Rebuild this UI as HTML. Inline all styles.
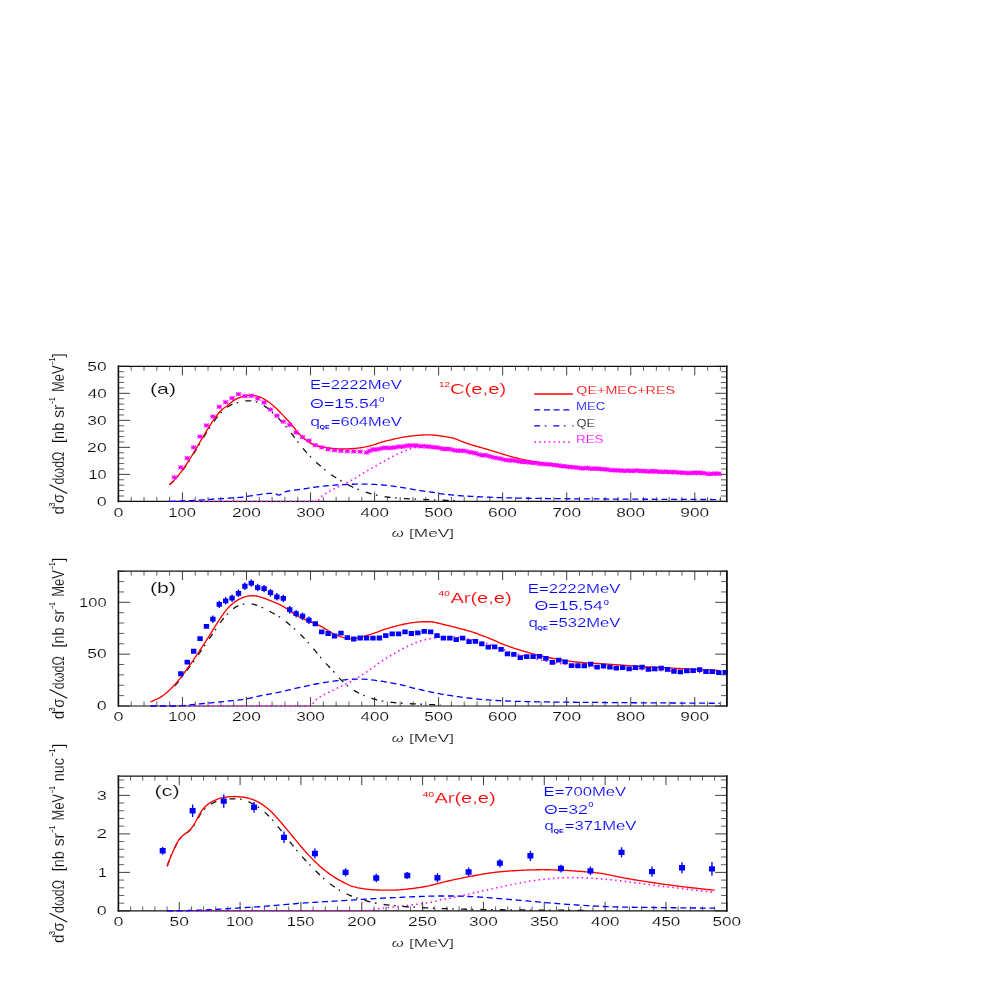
<!DOCTYPE html>
<html><head><meta charset="utf-8"><title>Cross sections</title>
<style>
html,body{margin:0;padding:0;background:#fff;}
body{width:981px;height:981px;overflow:hidden;font-family:"Liberation Sans",sans-serif;}
svg{display:block;will-change:transform;}
</style></head><body>
<svg width="981" height="981" viewBox="0 0 981 981">
<rect width="981" height="981" fill="#fff"/>
<defs>
<clipPath id="ca"><rect x="118.4" y="366.3" width="610.9" height="136.3"/></clipPath>
<clipPath id="cb"><rect x="118.4" y="571.2" width="610.9" height="136"/></clipPath>
<clipPath id="cc"><rect x="118.4" y="776.1" width="610.9" height="136"/></clipPath>
</defs>
<path d="M118.4 501.4L118.4 492.4 M118.4 366.3L118.4 375.3 M182.44 501.4L182.44 492.4 M182.44 366.3L182.44 375.3 M246.48 501.4L246.48 492.4 M246.48 366.3L246.48 375.3 M310.53 501.4L310.53 492.4 M310.53 366.3L310.53 375.3 M374.57 501.4L374.57 492.4 M374.57 366.3L374.57 375.3 M438.61 501.4L438.61 492.4 M438.61 366.3L438.61 375.3 M502.65 501.4L502.65 492.4 M502.65 366.3L502.65 375.3 M566.69 501.4L566.69 492.4 M566.69 366.3L566.69 375.3 M630.74 501.4L630.74 492.4 M630.74 366.3L630.74 375.3 M694.78 501.4L694.78 492.4 M694.78 366.3L694.78 375.3 M118.4 501.4L130 501.4 M726.8 501.4L715.2 501.4 M118.4 474.38L130 474.38 M726.8 474.38L715.2 474.38 M118.4 447.36L130 447.36 M726.8 447.36L715.2 447.36 M118.4 420.34L130 420.34 M726.8 420.34L715.2 420.34 M118.4 393.32L130 393.32 M726.8 393.32L715.2 393.32 M118.4 366.3L130 366.3 M726.8 366.3L715.2 366.3" stroke="#2a2a2a" stroke-width="0.9" fill="none"/>
<path d="M131.21 501.4L131.21 496.9 M131.21 366.3L131.21 370.8 M144.02 501.4L144.02 496.9 M144.02 366.3L144.02 370.8 M156.83 501.4L156.83 496.9 M156.83 366.3L156.83 370.8 M169.63 501.4L169.63 496.9 M169.63 366.3L169.63 370.8 M195.25 501.4L195.25 496.9 M195.25 366.3L195.25 370.8 M208.06 501.4L208.06 496.9 M208.06 366.3L208.06 370.8 M220.87 501.4L220.87 496.9 M220.87 366.3L220.87 370.8 M233.68 501.4L233.68 496.9 M233.68 366.3L233.68 370.8 M259.29 501.4L259.29 496.9 M259.29 366.3L259.29 370.8 M272.1 501.4L272.1 496.9 M272.1 366.3L272.1 370.8 M284.91 501.4L284.91 496.9 M284.91 366.3L284.91 370.8 M297.72 501.4L297.72 496.9 M297.72 366.3L297.72 370.8 M323.33 501.4L323.33 496.9 M323.33 366.3L323.33 370.8 M336.14 501.4L336.14 496.9 M336.14 366.3L336.14 370.8 M348.95 501.4L348.95 496.9 M348.95 366.3L348.95 370.8 M361.76 501.4L361.76 496.9 M361.76 366.3L361.76 370.8 M387.38 501.4L387.38 496.9 M387.38 366.3L387.38 370.8 M400.19 501.4L400.19 496.9 M400.19 366.3L400.19 370.8 M412.99 501.4L412.99 496.9 M412.99 366.3L412.99 370.8 M425.8 501.4L425.8 496.9 M425.8 366.3L425.8 370.8 M451.42 501.4L451.42 496.9 M451.42 366.3L451.42 370.8 M464.23 501.4L464.23 496.9 M464.23 366.3L464.23 370.8 M477.04 501.4L477.04 496.9 M477.04 366.3L477.04 370.8 M489.84 501.4L489.84 496.9 M489.84 366.3L489.84 370.8 M515.46 501.4L515.46 496.9 M515.46 366.3L515.46 370.8 M528.27 501.4L528.27 496.9 M528.27 366.3L528.27 370.8 M541.08 501.4L541.08 496.9 M541.08 366.3L541.08 370.8 M553.89 501.4L553.89 496.9 M553.89 366.3L553.89 370.8 M579.5 501.4L579.5 496.9 M579.5 366.3L579.5 370.8 M592.31 501.4L592.31 496.9 M592.31 366.3L592.31 370.8 M605.12 501.4L605.12 496.9 M605.12 366.3L605.12 370.8 M617.93 501.4L617.93 496.9 M617.93 366.3L617.93 370.8 M643.55 501.4L643.55 496.9 M643.55 366.3L643.55 370.8 M656.35 501.4L656.35 496.9 M656.35 366.3L656.35 370.8 M669.16 501.4L669.16 496.9 M669.16 366.3L669.16 370.8 M681.97 501.4L681.97 496.9 M681.97 366.3L681.97 370.8 M707.59 501.4L707.59 496.9 M707.59 366.3L707.59 370.8 M720.4 501.4L720.4 496.9 M720.4 366.3L720.4 370.8 M118.4 496L124.2 496 M726.8 496L721 496 M118.4 490.59L124.2 490.59 M726.8 490.59L721 490.59 M118.4 485.19L124.2 485.19 M726.8 485.19L721 485.19 M118.4 479.78L124.2 479.78 M726.8 479.78L721 479.78 M118.4 468.98L124.2 468.98 M726.8 468.98L721 468.98 M118.4 463.57L124.2 463.57 M726.8 463.57L721 463.57 M118.4 458.17L124.2 458.17 M726.8 458.17L721 458.17 M118.4 452.76L124.2 452.76 M726.8 452.76L721 452.76 M118.4 441.96L124.2 441.96 M726.8 441.96L721 441.96 M118.4 436.55L124.2 436.55 M726.8 436.55L721 436.55 M118.4 431.15L124.2 431.15 M726.8 431.15L721 431.15 M118.4 425.74L124.2 425.74 M726.8 425.74L721 425.74 M118.4 414.94L124.2 414.94 M726.8 414.94L721 414.94 M118.4 409.53L124.2 409.53 M726.8 409.53L721 409.53 M118.4 404.13L124.2 404.13 M726.8 404.13L721 404.13 M118.4 398.72L124.2 398.72 M726.8 398.72L721 398.72 M118.4 387.92L124.2 387.92 M726.8 387.92L721 387.92 M118.4 382.51L124.2 382.51 M726.8 382.51L721 382.51 M118.4 377.11L124.2 377.11 M726.8 377.11L721 377.11 M118.4 371.7L124.2 371.7 M726.8 371.7L721 371.7" stroke="#444" stroke-width="0.85" fill="none"/>
<path d="M118.4 366.3H726.8M118.4 501.4H726.8" fill="none" stroke="#111" stroke-width="1.2" stroke-linecap="square"/>
<path d="M118.4 366.3V501.4M726.8 366.3V501.4" fill="none" stroke="#111" stroke-width="1.6" stroke-linecap="square"/>
<text transform="translate(113.38 516.7) scale(1.4686 1.0000)" font-family="Liberation Sans, sans-serif" font-size="12.2" fill="#0a0a0a" stroke="#fff" stroke-width="0.15">0</text>
<text transform="translate(168.35 516.7) scale(1.3547 1.0000)" font-family="Liberation Sans, sans-serif" font-size="12.2" fill="#0a0a0a" stroke="#fff" stroke-width="0.15">100</text>
<text transform="translate(231.92 516.7) scale(1.4215 1.0000)" font-family="Liberation Sans, sans-serif" font-size="12.2" fill="#0a0a0a" stroke="#fff" stroke-width="0.15">200</text>
<text transform="translate(296.14 516.7) scale(1.4125 1.0000)" font-family="Liberation Sans, sans-serif" font-size="12.2" fill="#0a0a0a" stroke="#fff" stroke-width="0.15">300</text>
<text transform="translate(360.53 516.7) scale(1.3950 1.0000)" font-family="Liberation Sans, sans-serif" font-size="12.2" fill="#0a0a0a" stroke="#fff" stroke-width="0.15">400</text>
<text transform="translate(424.22 516.7) scale(1.4125 1.0000)" font-family="Liberation Sans, sans-serif" font-size="12.2" fill="#0a0a0a" stroke="#fff" stroke-width="0.15">500</text>
<text transform="translate(488.09 516.7) scale(1.4215 1.0000)" font-family="Liberation Sans, sans-serif" font-size="12.2" fill="#0a0a0a" stroke="#fff" stroke-width="0.15">600</text>
<text transform="translate(552.13 516.7) scale(1.4215 1.0000)" font-family="Liberation Sans, sans-serif" font-size="12.2" fill="#0a0a0a" stroke="#fff" stroke-width="0.15">700</text>
<text transform="translate(616.26 516.7) scale(1.4170 1.0000)" font-family="Liberation Sans, sans-serif" font-size="12.2" fill="#0a0a0a" stroke="#fff" stroke-width="0.15">800</text>
<text transform="translate(680.3 516.7) scale(1.4170 1.0000)" font-family="Liberation Sans, sans-serif" font-size="12.2" fill="#0a0a0a" stroke="#fff" stroke-width="0.15">900</text>
<text transform="translate(96.68 505.7) scale(1.4686 1.0000)" font-family="Liberation Sans, sans-serif" font-size="12.2" fill="#0a0a0a" stroke="#fff" stroke-width="0.15">0</text>
<text transform="translate(88.48 478.68) scale(1.3361 1.0000)" font-family="Liberation Sans, sans-serif" font-size="12.2" fill="#0a0a0a" stroke="#fff" stroke-width="0.15">10</text>
<text transform="translate(87.12 451.66) scale(1.4394 1.0000)" font-family="Liberation Sans, sans-serif" font-size="12.2" fill="#0a0a0a" stroke="#fff" stroke-width="0.15">20</text>
<text transform="translate(87.3 424.64) scale(1.4255 1.0000)" font-family="Liberation Sans, sans-serif" font-size="12.2" fill="#0a0a0a" stroke="#fff" stroke-width="0.15">30</text>
<text transform="translate(87.66 397.62) scale(1.3985 1.0000)" font-family="Liberation Sans, sans-serif" font-size="12.2" fill="#0a0a0a" stroke="#fff" stroke-width="0.15">40</text>
<text transform="translate(87.3 370.6) scale(1.4255 1.0000)" font-family="Liberation Sans, sans-serif" font-size="12.2" fill="#0a0a0a" stroke="#fff" stroke-width="0.15">50</text>
<g clip-path="url(#ca)">
<path d="M169.63 501.4 L170.85 501.4 L172.07 501.4 L173.28 501.4 L174.5 501.4 L175.72 501.4 L176.93 501.4 L178.15 501.4 L179.37 501.4 L180.58 501.4 L181.8 501.4 L183.02 501.4 L184.24 501.4 L185.45 501.4 L186.67 501.4 L187.89 501.4 L189.1 501.4 L190.32 501.4 L191.54 501.4 L192.75 501.4 L193.97 501.4 L195.19 501.4 L196.4 501.4 L197.62 501.4 L198.84 501.4 L200.05 501.4 L201.27 501.4 L202.49 501.4 L203.7 501.4 L204.92 501.4 L206.14 501.4 L207.35 501.4 L208.57 501.4 L209.79 501.4 L211 501.4 L212.22 501.4 L213.44 501.4 L214.66 501.4 L215.87 501.4 L217.09 501.4 L218.31 501.4 L219.52 501.4 L220.74 501.4 L221.96 501.4 L223.17 501.4 L224.39 501.4 L225.61 501.4 L226.82 501.4 L228.04 501.4 L229.26 501.4 L230.47 501.4 L231.69 501.4 L232.91 501.4 L234.12 501.4 L235.34 501.4 L236.56 501.4 L237.77 501.4 L238.99 501.4 L240.21 501.4 L241.42 501.4 L242.64 501.4 L243.86 501.4 L245.08 501.4 L246.29 501.4 L247.51 501.4 L248.73 501.4 L249.94 501.4 L251.16 501.4 L252.38 501.4 L253.59 501.4 L254.81 501.4 L256.03 501.4 L257.24 501.4 L258.46 501.4 L259.68 501.4 L260.89 501.4 L262.11 501.4 L263.33 501.4 L264.54 501.4 L265.76 501.4 L266.98 501.4 L268.19 501.4 L269.41 501.4 L270.63 501.4 L271.84 501.4 L273.06 501.4 L274.28 501.4 L275.5 501.4 L276.71 501.4 L277.93 501.4 L279.15 501.4 L280.36 501.4 L281.58 501.4 L282.8 501.4 L284.01 501.4 L285.23 501.4 L286.45 501.4 L287.66 501.4 L288.88 501.4 L290.1 501.4 L291.31 501.4 L292.53 501.4 L293.75 501.4 L294.96 501.4 L296.18 501.4 L297.4 501.4 L298.61 501.4 L299.83 501.4 L301.05 501.4 L302.26 501.4 L303.48 501.4 L304.7 501.4 L305.92 501.4 L307.13 501.4 L308.35 501.4 L309.57 501.4 L310.78 501.4 L312 501.4 L313.22 501.4 L314.43 501.4 L315.65 501.4 L316.87 501.13 L318.08 500.56 L319.3 499.39 L320.52 497.69 L321.73 496.15 L322.95 495.19 L324.17 494.42 L325.38 493.75 L326.6 493.09 L327.82 492.37 L329.03 491.65 L330.25 490.94 L331.47 490.24 L332.68 489.57 L333.9 488.93 L335.12 488.31 L336.34 487.7 L337.55 487.1 L338.77 486.5 L339.99 485.91 L341.2 485.32 L342.42 484.71 L343.64 484.11 L344.85 483.51 L346.07 482.92 L347.29 482.33 L348.5 481.73 L349.72 481.13 L350.94 480.5 L352.15 479.86 L353.37 479.19 L354.59 478.49 L355.8 477.77 L357.02 477.02 L358.24 476.26 L359.45 475.5 L360.67 474.74 L361.89 473.99 L363.1 473.26 L364.32 472.54 L365.54 471.83 L366.76 471.12 L367.97 470.41 L369.19 469.71 L370.41 469.01 L371.62 468.31 L372.84 467.61 L374.06 466.91 L375.27 466.22 L376.49 465.52 L377.71 464.83 L378.92 464.14 L380.14 463.45 L381.36 462.76 L382.57 462.08 L383.79 461.39 L385.01 460.7 L386.22 460 L387.44 459.3 L388.66 458.61 L389.87 457.92 L391.09 457.25 L392.31 456.6 L393.52 455.97 L394.74 455.36 L395.96 454.76 L397.18 454.17 L398.39 453.59 L399.61 453.02 L400.83 452.48 L402.04 451.96 L403.26 451.46 L404.48 450.98 L405.69 450.5 L406.91 450.03 L408.13 449.57 L409.34 449.13 L410.56 448.73 L411.78 448.37 L412.99 448.05 L414.21 447.77 L415.43 447.5 L416.64 447.24 L417.86 446.98 L419.08 446.75 L420.29 446.56 L421.51 446.41 L422.73 446.31 L423.94 446.28 L425.16 446.29 L426.38 446.31 L427.6 446.35 L428.81 446.39 L430.03 446.44 L431.25 446.5 L432.46 446.56 L433.68 446.65 L434.9 446.78 L436.11 446.93 L437.33 447.09 L438.55 447.27 L439.76 447.44 L440.98 447.61 L442.2 447.76 L443.41 447.91 L444.63 448.07 L445.85 448.22 L447.06 448.38 L448.28 448.55 L449.5 448.71 L450.71 448.88 L451.93 449.06 L453.15 449.23 L454.36 449.42 L455.58 449.61 L456.8 449.8 L458.02 449.99 L459.23 450.19 L460.45 450.4 L461.67 450.6 L462.88 450.81 L464.1 451.03 L465.32 451.25 L466.53 451.48 L467.75 451.71 L468.97 451.94 L470.18 452.17 L471.4 452.4 L472.62 452.62 L473.83 452.85 L475.05 453.07 L476.27 453.29 L477.48 453.51 L478.7 453.74 L479.92 453.96 L481.13 454.19 L482.35 454.42 L483.57 454.66 L484.78 454.9 L486 455.14 L487.22 455.39 L488.44 455.64 L489.65 455.9 L490.87 456.15 L492.09 456.4 L493.3 456.66 L494.52 456.9 L495.74 457.15 L496.95 457.39 L498.17 457.63 L499.39 457.86 L500.6 458.08 L501.82 458.3 L503.04 458.5 L504.25 458.7 L505.47 458.9 L506.69 459.09 L507.9 459.27 L509.12 459.45 L510.34 459.63 L511.55 459.81 L512.77 459.98 L513.99 460.15 L515.2 460.32 L516.42 460.49 L517.64 460.66 L518.86 460.82 L520.07 460.99 L521.29 461.16 L522.51 461.32 L523.72 461.49 L524.94 461.66 L526.16 461.82 L527.37 461.98 L528.59 462.14 L529.81 462.3 L531.02 462.46 L532.24 462.62 L533.46 462.78 L534.67 462.94 L535.89 463.1 L537.11 463.25 L538.32 463.41 L539.54 463.57 L540.76 463.73 L541.97 463.89 L543.19 464.05 L544.41 464.22 L545.62 464.38 L546.84 464.55 L548.06 464.73 L549.28 464.9 L550.49 465.08 L551.71 465.25 L552.93 465.43 L554.14 465.6 L555.36 465.77 L556.58 465.94 L557.79 466.11 L559.01 466.27 L560.23 466.42 L561.44 466.58 L562.66 466.72 L563.88 466.86 L565.09 466.99 L566.31 467.13 L567.53 467.26 L568.74 467.39 L569.96 467.51 L571.18 467.64 L572.39 467.77 L573.61 467.89 L574.83 468.01 L576.04 468.13 L577.26 468.25 L578.48 468.37 L579.7 468.48 L580.91 468.59 L582.13 468.71 L583.35 468.82 L584.56 468.92 L585.78 469.03 L587 469.14 L588.21 469.24 L589.43 469.34 L590.65 469.44 L591.86 469.54 L593.08 469.63 L594.3 469.73 L595.51 469.82 L596.73 469.91 L597.95 470 L599.16 470.09 L600.38 470.17 L601.6 470.26 L602.81 470.34 L604.03 470.42 L605.25 470.51 L606.46 470.58 L607.68 470.66 L608.9 470.74 L610.12 470.82 L611.33 470.89 L612.55 470.96 L613.77 471.04 L614.98 471.11 L616.2 471.18 L617.42 471.25 L618.63 471.32 L619.85 471.38 L621.07 471.45 L622.28 471.51 L623.5 471.58 L624.72 471.64 L625.93 471.71 L627.15 471.77 L628.37 471.83 L629.58 471.89 L630.8 471.95 L632.02 472.01 L633.23 472.07 L634.45 472.13 L635.67 472.18 L636.88 472.24 L638.1 472.3 L639.32 472.35 L640.54 472.4 L641.75 472.46 L642.97 472.51 L644.19 472.56 L645.4 472.61 L646.62 472.67 L647.84 472.72 L649.05 472.77 L650.27 472.81 L651.49 472.86 L652.7 472.91 L653.92 472.96 L655.14 473.01 L656.35 473.06 L657.57 473.1 L658.79 473.15 L660 473.2 L661.22 473.24 L662.44 473.29 L663.65 473.33 L664.87 473.38 L666.09 473.42 L667.3 473.47 L668.52 473.51 L669.74 473.55 L670.96 473.59 L672.17 473.64 L673.39 473.68 L674.61 473.72 L675.82 473.76 L677.04 473.8 L678.26 473.84 L679.47 473.88 L680.69 473.92 L681.91 473.96 L683.12 474 L684.34 474.04 L685.56 474.08 L686.77 474.12 L687.99 474.16 L689.21 474.2 L690.42 474.24 L691.64 474.28 L692.86 474.32 L694.07 474.36 L695.29 474.4 L696.51 474.44 L697.72 474.48 L698.94 474.52 L700.16 474.55 L701.38 474.59 L702.59 474.63 L703.81 474.67 L705.03 474.71 L706.24 474.75 L707.46 474.79 L708.68 474.83 L709.89 474.86 L711.11 474.9 L712.33 474.94 L713.54 474.98 L714.76 475.02 L715.98 475.05 L717.19 475.09 L718.41 475.13 L719.63 475.17 L720.4 475.19" fill="none" stroke="#ff00ff" stroke-width="1.5" stroke-linecap="butt" stroke-linejoin="round" stroke-dasharray="1.5 3.3"/>
<path d="M169.63 501.4 L170.85 501.37 L172.07 501.34 L173.28 501.31 L174.5 501.27 L175.72 501.24 L176.93 501.2 L178.15 501.16 L179.37 501.11 L180.58 501.07 L181.8 501.02 L183.02 500.97 L184.24 500.92 L185.45 500.86 L186.67 500.8 L187.89 500.74 L189.1 500.67 L190.32 500.6 L191.54 500.53 L192.75 500.46 L193.97 500.39 L195.19 500.32 L196.4 500.25 L197.62 500.18 L198.84 500.1 L200.05 500.03 L201.27 499.95 L202.49 499.87 L203.7 499.79 L204.92 499.71 L206.14 499.63 L207.35 499.55 L208.57 499.48 L209.79 499.4 L211 499.32 L212.22 499.25 L213.44 499.17 L214.66 499.1 L215.87 499.02 L217.09 498.95 L218.31 498.87 L219.52 498.79 L220.74 498.71 L221.96 498.62 L223.17 498.53 L224.39 498.44 L225.61 498.35 L226.82 498.26 L228.04 498.16 L229.26 498.07 L230.47 497.98 L231.69 497.89 L232.91 497.8 L234.12 497.72 L235.34 497.65 L236.56 497.59 L237.77 497.53 L238.99 497.45 L240.21 497.37 L241.42 497.26 L242.64 497.11 L243.86 496.94 L245.08 496.74 L246.29 496.54 L247.51 496.34 L248.73 496.14 L249.94 495.96 L251.16 495.78 L252.38 495.6 L253.59 495.41 L254.81 495.23 L256.03 495.05 L257.24 494.87 L258.46 494.7 L259.68 494.53 L260.89 494.37 L262.11 494.21 L263.33 494.04 L264.54 493.86 L265.76 493.69 L266.98 493.54 L268.19 493.42 L269.41 493.33 L270.63 493.29 L271.84 493.32 L273.06 493.4 L274.28 493.52 L275.5 493.76 L276.71 494.28 L277.93 494.81 L279.15 495.05 L280.36 494.63 L281.58 493.78 L282.8 493.05 L284.01 492.35 L285.23 491.77 L286.45 491.45 L287.66 491.19 L288.88 490.99 L290.1 490.81 L291.31 490.64 L292.53 490.47 L293.75 490.29 L294.96 490.12 L296.18 489.96 L297.4 489.8 L298.61 489.64 L299.83 489.48 L301.05 489.31 L302.26 489.14 L303.48 488.95 L304.7 488.75 L305.92 488.55 L307.13 488.35 L308.35 488.15 L309.57 487.96 L310.78 487.77 L312 487.59 L313.22 487.42 L314.43 487.24 L315.65 487.07 L316.87 486.91 L318.08 486.75 L319.3 486.59 L320.52 486.44 L321.73 486.3 L322.95 486.17 L324.17 486.05 L325.38 485.93 L326.6 485.81 L327.82 485.7 L329.03 485.59 L330.25 485.49 L331.47 485.39 L332.68 485.29 L333.9 485.2 L335.12 485.11 L336.34 485.02 L337.55 484.94 L338.77 484.86 L339.99 484.79 L341.2 484.72 L342.42 484.65 L343.64 484.59 L344.85 484.53 L346.07 484.48 L347.29 484.42 L348.5 484.37 L349.72 484.33 L350.94 484.29 L352.15 484.26 L353.37 484.23 L354.59 484.21 L355.8 484.18 L357.02 484.16 L358.24 484.14 L359.45 484.13 L360.67 484.12 L361.89 484.11 L363.1 484.11 L364.32 484.11 L365.54 484.13 L366.76 484.16 L367.97 484.19 L369.19 484.23 L370.41 484.27 L371.62 484.31 L372.84 484.36 L374.06 484.41 L375.27 484.47 L376.49 484.54 L377.71 484.62 L378.92 484.7 L380.14 484.79 L381.36 484.89 L382.57 484.99 L383.79 485.1 L385.01 485.21 L386.22 485.34 L387.44 485.47 L388.66 485.61 L389.87 485.76 L391.09 485.92 L392.31 486.07 L393.52 486.23 L394.74 486.4 L395.96 486.57 L397.18 486.76 L398.39 486.95 L399.61 487.14 L400.83 487.34 L402.04 487.54 L403.26 487.73 L404.48 487.93 L405.69 488.14 L406.91 488.34 L408.13 488.55 L409.34 488.76 L410.56 488.97 L411.78 489.17 L412.99 489.38 L414.21 489.58 L415.43 489.78 L416.64 489.99 L417.86 490.19 L419.08 490.39 L420.29 490.59 L421.51 490.78 L422.73 490.96 L423.94 491.14 L425.16 491.31 L426.38 491.46 L427.6 491.61 L428.81 491.76 L430.03 491.91 L431.25 492.07 L432.46 492.25 L433.68 492.46 L434.9 492.69 L436.11 492.93 L437.33 493.17 L438.55 493.4 L439.76 493.62 L440.98 493.81 L442.2 493.97 L443.41 494.11 L444.63 494.25 L445.85 494.38 L447.06 494.5 L448.28 494.61 L449.5 494.73 L450.71 494.85 L451.93 494.97 L453.15 495.09 L454.36 495.21 L455.58 495.33 L456.8 495.45 L458.02 495.57 L459.23 495.67 L460.45 495.77 L461.67 495.86 L462.88 495.94 L464.1 496.01 L465.32 496.08 L466.53 496.14 L467.75 496.2 L468.97 496.26 L470.18 496.32 L471.4 496.38 L472.62 496.44 L473.83 496.5 L475.05 496.56 L476.27 496.63 L477.48 496.69 L478.7 496.75 L479.92 496.81 L481.13 496.87 L482.35 496.92 L483.57 496.98 L484.78 497.03 L486 497.09 L487.22 497.14 L488.44 497.19 L489.65 497.25 L490.87 497.3 L492.09 497.35 L493.3 497.4 L494.52 497.45 L495.74 497.5 L496.95 497.54 L498.17 497.58 L499.39 497.63 L500.6 497.67 L501.82 497.7 L503.04 497.74 L504.25 497.77 L505.47 497.8 L506.69 497.83 L507.9 497.86 L509.12 497.89 L510.34 497.91 L511.55 497.94 L512.77 497.96 L513.99 497.99 L515.2 498.01 L516.42 498.03 L517.64 498.06 L518.86 498.08 L520.07 498.1 L521.29 498.12 L522.51 498.15 L523.72 498.17 L524.94 498.19 L526.16 498.21 L527.37 498.23 L528.59 498.25 L529.81 498.27 L531.02 498.29 L532.24 498.31 L533.46 498.33 L534.67 498.35 L535.89 498.37 L537.11 498.39 L538.32 498.41 L539.54 498.43 L540.76 498.44 L541.97 498.46 L543.19 498.48 L544.41 498.49 L545.62 498.51 L546.84 498.52 L548.06 498.54 L549.28 498.55 L550.49 498.57 L551.71 498.58 L552.93 498.59 L554.14 498.61 L555.36 498.62 L556.58 498.63 L557.79 498.64 L559.01 498.66 L560.23 498.67 L561.44 498.68 L562.66 498.69 L563.88 498.7 L565.09 498.71 L566.31 498.72 L567.53 498.73 L568.74 498.74 L569.96 498.75 L571.18 498.77 L572.39 498.78 L573.61 498.79 L574.83 498.8 L576.04 498.8 L577.26 498.81 L578.48 498.82 L579.7 498.83 L580.91 498.84 L582.13 498.85 L583.35 498.86 L584.56 498.87 L585.78 498.88 L587 498.89 L588.21 498.9 L589.43 498.9 L590.65 498.91 L591.86 498.92 L593.08 498.93 L594.3 498.94 L595.51 498.95 L596.73 498.95 L597.95 498.96 L599.16 498.97 L600.38 498.98 L601.6 498.99 L602.81 498.99 L604.03 499 L605.25 499.01 L606.46 499.02 L607.68 499.03 L608.9 499.03 L610.12 499.04 L611.33 499.05 L612.55 499.05 L613.77 499.06 L614.98 499.07 L616.2 499.08 L617.42 499.08 L618.63 499.09 L619.85 499.1 L621.07 499.1 L622.28 499.11 L623.5 499.12 L624.72 499.12 L625.93 499.13 L627.15 499.14 L628.37 499.14 L629.58 499.15 L630.8 499.16 L632.02 499.16 L633.23 499.17 L634.45 499.18 L635.67 499.18 L636.88 499.19 L638.1 499.2 L639.32 499.2 L640.54 499.21 L641.75 499.22 L642.97 499.22 L644.19 499.23 L645.4 499.23 L646.62 499.24 L647.84 499.25 L649.05 499.25 L650.27 499.26 L651.49 499.27 L652.7 499.27 L653.92 499.28 L655.14 499.28 L656.35 499.29 L657.57 499.3 L658.79 499.3 L660 499.31 L661.22 499.31 L662.44 499.32 L663.65 499.32 L664.87 499.33 L666.09 499.33 L667.3 499.34 L668.52 499.35 L669.74 499.35 L670.96 499.36 L672.17 499.36 L673.39 499.37 L674.61 499.37 L675.82 499.38 L677.04 499.38 L678.26 499.39 L679.47 499.39 L680.69 499.4 L681.91 499.4 L683.12 499.41 L684.34 499.41 L685.56 499.42 L686.77 499.42 L687.99 499.43 L689.21 499.43 L690.42 499.44 L691.64 499.44 L692.86 499.45 L694.07 499.45 L695.29 499.46 L696.51 499.46 L697.72 499.47 L698.94 499.47 L700.16 499.48 L701.38 499.48 L702.59 499.49 L703.81 499.49 L705.03 499.5 L706.24 499.5 L707.46 499.51 L708.68 499.51 L709.89 499.52 L711.11 499.52 L712.33 499.53 L713.54 499.53 L714.76 499.54 L715.98 499.54 L717.19 499.55 L718.41 499.55 L719.63 499.56 L720.4 499.56" fill="none" stroke="#0000ff" stroke-width="1.3" stroke-linecap="butt" stroke-linejoin="round" stroke-dasharray="6 3.7"/>
<path d="M169.63 484.65 L170.85 483.59 L172.07 482.47 L173.28 481.29 L174.5 480.06 L175.72 478.78 L176.93 477.44 L178.15 476.03 L179.37 474.55 L180.58 473.01 L181.8 471.44 L183.02 469.83 L184.24 468.16 L185.45 466.44 L186.67 464.67 L187.89 462.86 L189.1 461.02 L190.32 459.13 L191.54 457.19 L192.75 455.22 L193.97 453.23 L195.19 451.25 L196.4 449.26 L197.62 447.26 L198.84 445.26 L200.05 443.25 L201.27 441.24 L202.49 439.23 L203.7 437.19 L204.92 435.16 L206.14 433.14 L207.35 431.18 L208.57 429.27 L209.79 427.39 L211 425.55 L212.22 423.75 L213.44 422.01 L214.66 420.35 L215.87 418.73 L217.09 417.15 L218.31 415.63 L219.52 414.21 L220.74 412.9 L221.96 411.72 L223.17 410.6 L224.39 409.56 L225.61 408.59 L226.82 407.69 L228.04 406.83 L229.26 405.99 L230.47 405.2 L231.69 404.48 L232.91 403.88 L234.12 403.44 L235.34 403.08 L236.56 402.78 L237.77 402.51 L238.99 402.26 L240.21 402.02 L241.42 401.75 L242.64 401.46 L243.86 401.19 L245.08 400.98 L246.29 400.89 L247.51 400.89 L248.73 400.89 L249.94 400.89 L251.16 400.9 L252.38 401.03 L253.59 401.26 L254.81 401.54 L256.03 401.85 L257.24 402.24 L258.46 402.73 L259.68 403.28 L260.89 403.86 L262.11 404.5 L263.33 405.23 L264.54 406.02 L265.76 406.88 L266.98 407.81 L268.19 408.83 L269.41 409.91 L270.63 411.02 L271.84 412.12 L273.06 413.24 L274.28 414.37 L275.5 415.53 L276.71 416.7 L277.93 417.91 L279.15 419.14 L280.36 420.4 L281.58 421.7 L282.8 423.04 L284.01 424.43 L285.23 425.86 L286.45 427.32 L287.66 428.81 L288.88 430.31 L290.1 431.82 L291.31 433.34 L292.53 434.88 L293.75 436.46 L294.96 438.07 L296.18 439.69 L297.4 441.32 L298.61 442.93 L299.83 444.51 L301.05 446.04 L302.26 447.51 L303.48 448.96 L304.7 450.4 L305.92 451.81 L307.13 453.19 L308.35 454.54 L309.57 455.86 L310.78 457.13 L312 458.36 L313.22 459.55 L314.43 460.7 L315.65 461.81 L316.87 462.9 L318.08 463.97 L319.3 465.02 L320.52 466.06 L321.73 467.09 L322.95 468.11 L324.17 469.13 L325.38 470.14 L326.6 471.14 L327.82 472.12 L329.03 473.07 L330.25 473.99 L331.47 474.88 L332.68 475.72 L333.9 476.53 L335.12 477.31 L336.34 478.07 L337.55 478.8 L338.77 479.52 L339.99 480.22 L341.2 480.91 L342.42 481.6 L343.64 482.29 L344.85 482.97 L346.07 483.65 L347.29 484.31 L348.5 484.96 L349.72 485.6 L350.94 486.2 L352.15 486.79 L353.37 487.34 L354.59 487.87 L355.8 488.38 L357.02 488.88 L358.24 489.36 L359.45 489.83 L360.67 490.28 L361.89 490.72 L363.1 491.15 L364.32 491.58 L365.54 492 L366.76 492.41 L367.97 492.81 L369.19 493.2 L370.41 493.57 L371.62 493.93 L372.84 494.26 L374.06 494.57 L375.27 494.88 L376.49 495.17 L377.71 495.46 L378.92 495.73 L380.14 495.98 L381.36 496.21 L382.57 496.43 L383.79 496.61 L385.01 496.78 L386.22 496.94 L387.44 497.09 L388.66 497.23 L389.87 497.37 L391.09 497.49 L392.31 497.61 L393.52 497.73 L394.74 497.84 L395.96 497.95 L397.18 498.05 L398.39 498.15 L399.61 498.25 L400.83 498.34 L402.04 498.42 L403.26 498.5 L404.48 498.58 L405.69 498.65 L406.91 498.72 L408.13 498.78 L409.34 498.85 L410.56 498.91 L411.78 498.97 L412.99 499.03 L414.21 499.09 L415.43 499.14 L416.64 499.2 L417.86 499.25 L419.08 499.31 L420.29 499.36 L421.51 499.41 L422.73 499.46 L423.94 499.51 L425.16 499.56 L426.38 499.61 L427.6 499.66 L428.81 499.7 L430.03 499.75 L431.25 499.79 L432.46 499.84 L433.68 499.88 L434.9 499.92 L436.11 499.97 L437.33 500.01 L438.55 500.05 L439.76 500.09 L440.98 500.13 L442.2 500.17 L443.41 500.21 L444.63 500.24 L445.85 500.28 L447.06 500.32 L448.28 500.36 L449.5 500.39 L450.71 500.43 L451.93 500.46 L453.15 500.5 L454.36 500.53 L455.58 500.56 L456.54 500.59" fill="none" stroke="#111111" stroke-width="1.3" stroke-linecap="butt" stroke-linejoin="round" stroke-dasharray="6 4.6 1.6 7.2"/>
<path d="M169.63 484.65 L170.85 483.54 L172.07 482.37 L173.28 481.14 L174.5 479.85 L175.72 478.52 L176.93 477.13 L178.15 475.67 L179.37 474.14 L180.58 472.55 L181.8 470.93 L183.02 469.26 L184.24 467.54 L185.45 465.77 L186.67 463.95 L187.89 462.09 L189.1 460.2 L190.32 458.26 L191.54 456.27 L192.75 454.24 L193.97 452.2 L195.19 450.17 L196.4 448.13 L197.62 446.08 L198.84 444.02 L200.05 441.96 L201.27 439.9 L202.49 437.84 L203.7 435.76 L204.92 433.67 L206.14 431.6 L207.35 429.59 L208.57 427.63 L209.79 425.7 L211 423.8 L212.22 421.95 L213.44 420.16 L214.66 418.45 L215.87 416.76 L217.09 415.09 L218.31 413.49 L219.52 412.02 L220.74 410.74 L221.96 409.65 L223.17 408.69 L224.39 407.82 L225.61 406.97 L226.82 406.09 L228.04 405.13 L229.26 404.1 L230.47 403.05 L231.69 402.04 L232.91 401.13 L234.12 400.34 L235.34 399.62 L236.56 398.95 L237.77 398.34 L238.99 397.79 L240.21 397.33 L241.42 396.88 L242.64 396.45 L243.86 396.07 L245.08 395.78 L246.29 395.63 L247.51 395.58 L248.73 395.54 L249.94 395.51 L251.16 395.49 L252.38 395.48 L253.59 395.51 L254.81 395.65 L256.03 395.9 L257.24 396.22 L258.46 396.58 L259.68 396.95 L260.89 397.42 L262.11 397.99 L263.33 398.65 L264.54 399.37 L265.76 400.12 L266.98 400.89 L268.19 401.68 L269.41 402.55 L270.63 403.48 L271.84 404.45 L273.06 405.47 L274.28 406.51 L275.5 407.63 L276.71 408.82 L277.93 410.05 L279.15 411.32 L280.36 412.59 L281.58 413.85 L282.8 415.12 L284.01 416.4 L285.23 417.7 L286.45 418.99 L287.66 420.26 L288.88 421.53 L290.1 422.82 L291.31 424.17 L292.53 425.63 L293.75 427.18 L294.96 428.76 L296.18 430.3 L297.4 431.78 L298.61 433.29 L299.83 434.73 L301.05 436.05 L302.26 437.2 L303.48 438.22 L304.7 439.17 L305.92 440.06 L307.13 440.92 L308.35 441.77 L309.57 442.59 L310.78 443.32 L312 443.94 L313.22 444.47 L314.43 444.94 L315.65 445.36 L316.87 445.72 L318.08 446.03 L319.3 446.29 L320.52 446.53 L321.73 446.76 L322.95 446.99 L324.17 447.22 L325.38 447.44 L326.6 447.66 L327.82 447.87 L329.03 448.06 L330.25 448.23 L331.47 448.37 L332.68 448.47 L333.9 448.57 L335.12 448.66 L336.34 448.74 L337.55 448.82 L338.77 448.88 L339.99 448.93 L341.2 448.97 L342.42 448.98 L343.64 448.97 L344.85 448.95 L346.07 448.92 L347.29 448.87 L348.5 448.82 L349.72 448.75 L350.94 448.68 L352.15 448.61 L353.37 448.54 L354.59 448.45 L355.8 448.33 L357.02 448.2 L358.24 448.05 L359.45 447.89 L360.67 447.72 L361.89 447.54 L363.1 447.35 L364.32 447.14 L365.54 446.9 L366.76 446.63 L367.97 446.34 L369.19 446.03 L370.41 445.71 L371.62 445.38 L372.84 445.05 L374.06 444.71 L375.27 444.33 L376.49 443.93 L377.71 443.51 L378.92 443.08 L380.14 442.67 L381.36 442.26 L382.57 441.89 L383.79 441.55 L385.01 441.23 L386.22 440.92 L387.44 440.63 L388.66 440.34 L389.87 440.06 L391.09 439.79 L392.31 439.52 L393.52 439.24 L394.74 438.96 L395.96 438.67 L397.18 438.38 L398.39 438.1 L399.61 437.83 L400.83 437.57 L402.04 437.33 L403.26 437.11 L404.48 436.92 L405.69 436.73 L406.91 436.55 L408.13 436.38 L409.34 436.23 L410.56 436.08 L411.78 435.94 L412.99 435.81 L414.21 435.68 L415.43 435.56 L416.64 435.45 L417.86 435.34 L419.08 435.23 L420.29 435.14 L421.51 435.05 L422.73 434.98 L423.94 434.93 L425.16 434.88 L426.38 434.84 L427.6 434.81 L428.81 434.8 L430.03 434.82 L431.25 434.91 L432.46 435.03 L433.68 435.16 L434.9 435.27 L436.11 435.4 L437.33 435.54 L438.55 435.68 L439.76 435.83 L440.98 435.99 L442.2 436.15 L443.41 436.32 L444.63 436.5 L445.85 436.69 L447.06 436.89 L448.28 437.1 L449.5 437.33 L450.71 437.57 L451.93 437.83 L453.15 438.12 L454.36 438.48 L455.58 438.9 L456.8 439.35 L458.02 439.85 L459.23 440.38 L460.45 440.92 L461.67 441.42 L462.88 441.87 L464.1 442.32 L465.32 442.75 L466.53 443.17 L467.75 443.58 L468.97 443.99 L470.18 444.38 L471.4 444.77 L472.62 445.15 L473.83 445.52 L475.05 445.87 L476.27 446.23 L477.48 446.57 L478.7 446.92 L479.92 447.26 L481.13 447.61 L482.35 447.96 L483.57 448.31 L484.78 448.66 L486 449 L487.22 449.35 L488.44 449.7 L489.65 450.06 L490.87 450.41 L492.09 450.78 L493.3 451.15 L494.52 451.53 L495.74 451.92 L496.95 452.31 L498.17 452.7 L499.39 453.09 L500.6 453.48 L501.82 453.86 L503.04 454.23 L504.25 454.6 L505.47 454.97 L506.69 455.33 L507.9 455.69 L509.12 456.05 L510.34 456.39 L511.55 456.73 L512.77 457.05 L513.99 457.37 L515.2 457.67 L516.42 457.97 L517.64 458.26 L518.86 458.55 L520.07 458.83 L521.29 459.1 L522.51 459.38 L523.72 459.65 L524.94 459.91 L526.16 460.17 L527.37 460.43 L528.59 460.68 L529.81 460.93 L531.02 461.19 L532.24 461.44 L533.46 461.69 L534.67 461.95 L535.89 462.21 L537.11 462.48 L538.32 462.74 L539.54 463 L540.76 463.26 L541.97 463.51 L543.19 463.75 L544.41 463.99 L545.62 464.23 L546.84 464.47 L548.06 464.71 L549.28 464.94 L550.49 465.16 L551.71 465.37 L552.93 465.58 L554.14 465.77 L555.36 465.96 L556.58 466.14 L557.79 466.32 L559.01 466.49 L560.23 466.66 L561.44 466.81 L562.66 466.96 L563.88 467.09 L565.09 467.22 L566.31 467.34 L567.53 467.46 L568.74 467.58 L569.96 467.69 L571.18 467.79 L572.39 467.9 L573.61 468 L574.83 468.09 L576.04 468.19 L577.26 468.28 L578.48 468.36 L579.7 468.45 L580.91 468.53 L582.13 468.61 L583.35 468.68 L584.56 468.76 L585.78 468.83 L587 468.9 L588.21 468.96 L589.43 469.03 L590.65 469.09 L591.86 469.16 L593.08 469.22 L594.3 469.28 L595.51 469.35 L596.73 469.41 L597.95 469.48 L599.16 469.54 L600.38 469.61 L601.6 469.67 L602.81 469.74 L604.03 469.8 L605.25 469.86 L606.46 469.93 L607.68 469.99 L608.9 470.06 L610.12 470.12 L611.33 470.18 L612.55 470.25 L613.77 470.31 L614.98 470.37 L616.2 470.43 L617.42 470.49 L618.63 470.55 L619.85 470.62 L621.07 470.68 L622.28 470.74 L623.5 470.79 L624.72 470.85 L625.93 470.91 L627.15 470.97 L628.37 471.03 L629.58 471.08 L630.8 471.14 L632.02 471.2 L633.23 471.25 L634.45 471.31 L635.67 471.36 L636.88 471.42 L638.1 471.47 L639.32 471.53 L640.54 471.58 L641.75 471.64 L642.97 471.69 L644.19 471.75 L645.4 471.8 L646.62 471.85 L647.84 471.9 L649.05 471.96 L650.27 472.01 L651.49 472.06 L652.7 472.11 L653.92 472.16 L655.14 472.21 L656.35 472.25 L657.57 472.3 L658.79 472.35 L660 472.39 L661.22 472.43 L662.44 472.48 L663.65 472.52 L664.87 472.56 L666.09 472.6 L667.3 472.64 L668.52 472.68 L669.74 472.72 L670.96 472.76 L672.17 472.79 L673.39 472.83 L674.61 472.87 L675.82 472.9 L677.04 472.94 L678.26 472.97 L679.47 473.01 L680.69 473.04 L681.91 473.08 L683.12 473.11 L684.34 473.15 L685.56 473.18 L686.77 473.21 L687.99 473.25 L689.21 473.28 L690.42 473.31 L691.64 473.35 L692.86 473.38 L694.07 473.41 L695.29 473.45 L696.51 473.48 L697.72 473.52 L698.94 473.55 L700.16 473.58 L701.38 473.62 L702.59 473.65 L703.81 473.68 L705.03 473.71 L706.24 473.75 L707.46 473.78 L708.68 473.81 L709.89 473.84 L711.11 473.87 L712.33 473.9 L713.54 473.94 L714.76 473.97 L715.98 474 L717.19 474.03 L718.41 474.06 L719.63 474.09 L720.4 474.11" fill="none" stroke="#ff0000" stroke-width="1.35" stroke-linecap="butt" stroke-linejoin="round"/>
<path d="M177.64 477.35L176.21 477.93L177.64 479.85L175.17 478.74L174.44 479.85L173.7 478.74L171.24 479.85L172.66 477.93L171.24 477.35L172.66 476.78L171.24 474.85L173.7 475.97L174.44 474.85L175.17 475.97L177.64 474.85L176.21 476.78ZM184.04 467.35L182.61 467.93L184.04 469.85L181.58 468.74L180.84 469.85L180.11 468.74L177.64 469.85L179.07 467.93L177.64 467.35L179.07 466.78L177.64 464.85L180.11 465.97L180.84 464.85L181.58 465.97L184.04 464.85L182.61 466.78ZM190.45 458.17L189.02 458.74L190.45 460.67L187.98 459.55L187.25 460.67L186.51 459.55L184.05 460.67L185.47 458.74L184.05 458.17L185.47 457.59L184.05 455.67L186.51 456.78L187.25 455.67L187.98 456.78L190.45 455.67L189.02 457.59ZM196.85 447.36L195.42 447.93L196.85 449.86L194.38 448.75L193.65 449.86L192.91 448.75L190.45 449.86L191.88 447.93L190.45 447.36L191.88 446.79L190.45 444.86L192.91 445.97L193.65 444.86L194.38 445.97L196.85 444.86L195.42 446.79ZM203.25 436.55L201.83 437.13L203.25 439.05L200.79 437.94L200.05 439.05L199.32 437.94L196.85 439.05L198.28 437.13L196.85 436.55L198.28 435.98L196.85 434.05L199.32 435.17L200.05 434.05L200.79 435.17L203.25 434.05L201.83 435.98ZM209.66 425.47L208.23 426.05L209.66 427.97L207.19 426.86L206.46 427.97L205.72 426.86L203.26 427.97L204.68 426.05L203.26 425.47L204.68 424.9L203.26 422.97L205.72 424.09L206.46 422.97L207.19 424.09L209.66 422.97L208.23 424.9ZM216.06 416.56L214.64 417.13L216.06 419.06L213.6 417.94L212.86 419.06L212.13 417.94L209.66 419.06L211.09 417.13L209.66 416.56L211.09 415.98L209.66 414.06L212.13 415.17L212.86 414.06L213.6 415.17L216.06 414.06L214.64 415.98ZM222.47 406.83L221.04 407.4L222.47 409.33L220 408.22L219.27 409.33L218.53 408.22L216.07 409.33L217.49 407.4L216.07 406.83L217.49 406.26L216.07 404.33L218.53 405.44L219.27 404.33L220 405.44L222.47 404.33L221.04 406.26ZM228.87 402.24L227.44 402.81L228.87 404.74L226.41 403.62L225.67 404.74L224.94 403.62L222.47 404.74L223.9 402.81L222.47 402.24L223.9 401.66L222.47 399.74L224.94 400.85L225.67 399.74L226.41 400.85L228.87 399.74L227.44 401.66ZM235.27 398.18L233.85 398.76L235.27 400.68L232.81 399.57L232.07 400.68L231.34 399.57L228.87 400.68L230.3 398.76L228.87 398.18L230.3 397.61L228.87 395.68L231.34 396.8L232.07 395.68L232.81 396.8L235.27 395.68L233.85 397.61ZM241.68 394.13L240.25 394.7L241.68 396.63L239.21 395.52L238.48 396.63L237.74 395.52L235.28 396.63L236.71 394.7L235.28 394.13L236.71 393.56L235.28 391.63L237.74 392.74L238.48 391.63L239.21 392.74L241.68 391.63L240.25 393.56ZM248.08 396.02L246.66 396.6L248.08 398.52L245.62 397.41L244.88 398.52L244.15 397.41L241.68 398.52L243.11 396.6L241.68 396.02L243.11 395.45L241.68 393.52L244.15 394.64L244.88 393.52L245.62 394.64L248.08 393.52L246.66 395.45ZM254.49 395.75L253.06 396.33L254.49 398.25L252.02 397.14L251.29 398.25L250.55 397.14L248.09 398.25L249.51 396.33L248.09 395.75L249.51 395.18L248.09 393.25L250.55 394.37L251.29 393.25L252.02 394.37L254.49 393.25L253.06 395.18ZM260.89 398.72L259.47 399.3L260.89 401.22L258.43 400.11L257.69 401.22L256.96 400.11L254.49 401.22L255.92 399.3L254.49 398.72L255.92 398.15L254.49 396.22L256.96 397.34L257.69 396.22L258.43 397.34L260.89 396.22L259.47 398.15ZM267.3 402.51L265.87 403.08L267.3 405.01L264.83 403.89L264.1 405.01L263.36 403.89L260.9 405.01L262.32 403.08L260.9 402.51L262.32 401.93L260.9 400.01L263.36 401.12L264.1 400.01L264.83 401.12L267.3 400.01L265.87 401.93ZM273.7 409.53L272.27 410.11L273.7 412.03L271.23 410.92L270.5 412.03L269.77 410.92L267.3 412.03L268.73 410.11L267.3 409.53L268.73 408.96L267.3 407.03L269.77 408.15L270.5 407.03L271.23 408.15L273.7 407.03L272.27 408.96ZM280.1 415.75L278.68 416.32L280.1 418.25L277.64 417.13L276.9 418.25L276.17 417.13L273.7 418.25L275.13 416.32L273.7 415.75L275.13 415.17L273.7 413.25L276.17 414.36L276.9 413.25L277.64 414.36L280.1 413.25L278.68 415.17ZM286.51 421.69L285.08 422.27L286.51 424.19L284.04 423.08L283.31 424.19L282.57 423.08L280.11 424.19L281.53 422.27L280.11 421.69L281.53 421.12L280.11 419.19L282.57 420.31L283.31 419.19L284.04 420.31L286.51 419.19L285.08 421.12ZM292.91 424.93L291.49 425.51L292.91 427.43L290.45 426.32L289.71 427.43L288.98 426.32L286.51 427.43L287.94 425.51L286.51 424.93L287.94 424.36L286.51 422.43L288.98 423.55L289.71 422.43L290.45 423.55L292.91 422.43L291.49 424.36ZM299.32 432.5L297.89 433.07L299.32 435L296.85 433.88L296.12 435L295.38 433.88L292.92 435L294.34 433.07L292.92 432.5L294.34 431.92L292.92 430L295.38 431.11L296.12 430L296.85 431.11L299.32 430L297.89 431.92ZM305.72 437.09L304.29 437.67L305.72 439.59L303.26 438.48L302.52 439.59L301.79 438.48L299.32 439.59L300.75 437.67L299.32 437.09L300.75 436.52L299.32 434.59L301.79 435.71L302.52 434.59L303.26 435.71L305.72 434.59L304.29 436.52ZM312.13 440.61L310.7 441.18L312.13 443.11L309.66 441.99L308.93 443.11L308.19 441.99L305.73 443.11L307.15 441.18L305.73 440.61L307.15 440.03L305.73 438.11L308.19 439.22L308.93 438.11L309.66 439.22L312.13 438.11L310.7 440.03ZM318.53 445.2L317.1 445.77L318.53 447.7L316.06 446.58L315.33 447.7L314.59 446.58L312.13 447.7L313.56 445.77L312.13 445.2L313.56 444.62L312.13 442.7L314.59 443.81L315.33 442.7L316.06 443.81L318.53 442.7L317.1 444.62ZM324.93 447.36L323.51 447.93L324.93 449.86L322.47 448.75L321.73 449.86L321 448.75L318.53 449.86L319.96 447.93L318.53 447.36L319.96 446.79L318.53 444.86L321 445.97L321.73 444.86L322.47 445.97L324.93 444.86L323.51 446.79ZM331.34 449.25L329.91 449.83L331.34 451.75L328.87 450.64L328.14 451.75L327.4 450.64L324.94 451.75L326.36 449.83L324.94 449.25L326.36 448.68L324.94 446.75L327.4 447.87L328.14 446.75L328.87 447.87L331.34 446.75L329.91 448.68ZM337.74 450.33L336.32 450.91L337.74 452.83L335.28 451.72L334.54 452.83L333.81 451.72L331.34 452.83L332.77 450.91L331.34 450.33L332.77 449.76L331.34 447.83L333.81 448.95L334.54 447.83L335.28 448.95L337.74 447.83L336.32 449.76ZM344.15 450.87L342.72 451.45L344.15 453.37L341.68 452.26L340.95 453.37L340.21 452.26L337.75 453.37L339.17 451.45L337.75 450.87L339.17 450.3L337.75 448.37L340.21 449.49L340.95 448.37L341.68 449.49L344.15 448.37L342.72 450.3ZM350.55 451.14L349.12 451.72L350.55 453.64L348.09 452.53L347.35 453.64L346.62 452.53L344.15 453.64L345.58 451.72L344.15 451.14L345.58 450.57L344.15 448.64L346.62 449.76L347.35 448.64L348.09 449.76L350.55 448.64L349.12 450.57ZM356.95 451.41L355.53 451.99L356.95 453.91L354.49 452.8L353.75 453.91L353.02 452.8L350.55 453.91L351.98 451.99L350.55 451.41L351.98 450.84L350.55 448.91L353.02 450.03L353.75 448.91L354.49 450.03L356.95 448.91L355.53 450.84ZM363.36 451.68L361.93 452.26L363.36 454.18L360.89 453.07L360.16 454.18L359.42 453.07L356.96 454.18L358.39 452.26L356.96 451.68L358.39 451.11L356.96 449.18L359.42 450.3L360.16 449.18L360.89 450.3L363.36 449.18L361.93 451.11ZM369.76 452.49L368.34 453.07L369.76 454.99L367.3 453.88L366.56 454.99L365.83 453.88L363.36 454.99L364.79 453.07L363.36 452.49L364.79 451.92L363.36 449.99L365.83 451.11L366.56 449.99L367.3 451.11L369.76 449.99L368.34 451.92ZM372.97 450.79L371.54 451.37L372.97 453.29L370.5 452.18L369.77 453.29L369.03 452.18L366.57 453.29L367.99 451.37L366.57 450.79L367.99 450.22L366.57 448.29L369.03 449.41L369.77 448.29L370.5 449.41L372.97 448.29L371.54 450.22ZM376.17 449.51L374.74 450.08L376.17 452.01L373.7 450.89L372.97 452.01L372.23 450.89L369.77 452.01L371.19 450.08L369.77 449.51L371.19 448.93L369.77 447.01L372.23 448.12L372.97 447.01L373.7 448.12L376.17 447.01L374.74 448.93ZM379.37 449.59L377.94 450.16L379.37 452.09L376.9 450.97L376.17 452.09L375.43 450.97L372.97 452.09L374.4 450.16L372.97 449.59L374.4 449.01L372.97 447.09L375.43 448.2L376.17 447.09L376.9 448.2L379.37 447.09L377.94 449.01ZM382.57 448.97L381.15 449.54L382.57 451.47L380.11 450.35L379.37 451.47L378.64 450.35L376.17 451.47L377.6 449.54L376.17 448.97L377.6 448.39L376.17 446.47L378.64 447.58L379.37 446.47L380.11 447.58L382.57 446.47L381.15 448.39ZM385.77 448.11L384.35 448.68L385.77 450.61L383.31 449.49L382.57 450.61L381.84 449.49L379.37 450.61L380.8 448.68L379.37 448.11L380.8 447.53L379.37 445.61L381.84 446.72L382.57 445.61L383.31 446.72L385.77 445.61L384.35 447.53ZM388.98 447.7L387.55 448.27L388.98 450.2L386.51 449.09L385.78 450.2L385.04 449.09L382.58 450.2L384 448.27L382.58 447.7L384 447.13L382.58 445.2L385.04 446.31L385.78 445.2L386.51 446.31L388.98 445.2L387.55 447.13ZM392.18 448.21L390.75 448.78L392.18 450.71L389.71 449.6L388.98 450.71L388.24 449.6L385.78 450.71L387.2 448.78L385.78 448.21L387.2 447.64L385.78 445.71L388.24 446.82L388.98 445.71L389.71 446.82L392.18 445.71L390.75 447.64ZM395.38 447.71L393.95 448.28L395.38 450.21L392.91 449.09L392.18 450.21L391.45 449.09L388.98 450.21L390.41 448.28L388.98 447.71L390.41 447.13L388.98 445.21L391.45 446.32L392.18 445.21L392.91 446.32L395.38 445.21L393.95 447.13ZM398.58 447.47L397.16 448.04L398.58 449.97L396.12 448.85L395.38 449.97L394.65 448.85L392.18 449.97L393.61 448.04L392.18 447.47L393.61 446.89L392.18 444.97L394.65 446.08L395.38 444.97L396.12 446.08L398.58 444.97L397.16 446.89ZM401.78 446.62L400.36 447.19L401.78 449.12L399.32 448.01L398.58 449.12L397.85 448.01L395.38 449.12L396.81 447.19L395.38 446.62L396.81 446.05L395.38 444.12L397.85 445.23L398.58 444.12L399.32 445.23L401.78 444.12L400.36 446.05ZM404.99 446.82L403.56 447.4L404.99 449.32L402.52 448.21L401.79 449.32L401.05 448.21L398.59 449.32L400.01 447.4L398.59 446.82L400.01 446.25L398.59 444.32L401.05 445.44L401.79 444.32L402.52 445.44L404.99 444.32L403.56 446.25ZM408.19 446.06L406.76 446.63L408.19 448.56L405.72 447.45L404.99 448.56L404.25 447.45L401.79 448.56L403.21 446.63L401.79 446.06L403.21 445.49L401.79 443.56L404.25 444.67L404.99 443.56L405.72 444.67L408.19 443.56L406.76 445.49ZM411.39 445.49L409.96 446.07L411.39 447.99L408.93 446.88L408.19 447.99L407.46 446.88L404.99 447.99L406.42 446.07L404.99 445.49L406.42 444.92L404.99 442.99L407.46 444.11L408.19 442.99L408.93 444.11L411.39 442.99L409.96 444.92ZM414.59 445.73L413.17 446.31L414.59 448.23L412.13 447.12L411.39 448.23L410.66 447.12L408.19 448.23L409.62 446.31L408.19 445.73L409.62 445.16L408.19 443.23L410.66 444.35L411.39 443.23L412.13 444.35L414.59 443.23L413.17 445.16ZM417.79 445.36L416.37 445.93L417.79 447.86L415.33 446.75L414.59 447.86L413.86 446.75L411.39 447.86L412.82 445.93L411.39 445.36L412.82 444.79L411.39 442.86L413.86 443.97L414.59 442.86L415.33 443.97L417.79 442.86L416.37 444.79ZM421 445.63L419.57 446.2L421 448.13L418.53 447.02L417.8 448.13L417.06 447.02L414.6 448.13L416.02 446.2L414.6 445.63L416.02 445.06L414.6 443.13L417.06 444.24L417.8 443.13L418.53 444.24L421 443.13L419.57 445.06ZM424.2 446.43L422.77 447L424.2 448.93L421.73 447.81L421 448.93L420.26 447.81L417.8 448.93L419.23 447L417.8 446.43L419.23 445.85L417.8 443.93L420.26 445.04L421 443.93L421.73 445.04L424.2 443.93L422.77 445.85ZM427.4 445.94L425.97 446.51L427.4 448.44L424.94 447.32L424.2 448.44L423.47 447.32L421 448.44L422.43 446.51L421 445.94L422.43 445.37L421 443.44L423.47 444.55L424.2 443.44L424.94 444.55L427.4 443.44L425.97 445.37ZM430.6 446.52L429.18 447.1L430.6 449.02L428.14 447.91L427.4 449.02L426.67 447.91L424.2 449.02L425.63 447.1L424.2 446.52L425.63 445.95L424.2 444.02L426.67 445.14L427.4 444.02L428.14 445.14L430.6 444.02L429.18 445.95ZM433.81 446.65L432.38 447.22L433.81 449.15L431.34 448.04L430.61 449.15L429.87 448.04L427.41 449.15L428.83 447.22L427.41 446.65L428.83 446.08L427.41 444.15L429.87 445.26L430.61 444.15L431.34 445.26L433.81 444.15L432.38 446.08ZM437.01 447.29L435.58 447.87L437.01 449.79L434.54 448.68L433.81 449.79L433.07 448.68L430.61 449.79L432.03 447.87L430.61 447.29L432.03 446.72L430.61 444.79L433.07 445.91L433.81 444.79L434.54 445.91L437.01 444.79L435.58 446.72ZM440.21 447.4L438.78 447.98L440.21 449.9L437.74 448.79L437.01 449.9L436.27 448.79L433.81 449.9L435.24 447.98L433.81 447.4L435.24 446.83L433.81 444.9L436.27 446.02L437.01 444.9L437.74 446.02L440.21 444.9L438.78 446.83ZM443.41 448.21L441.99 448.78L443.41 450.71L440.95 449.6L440.21 450.71L439.48 449.6L437.01 450.71L438.44 448.78L437.01 448.21L438.44 447.64L437.01 445.71L439.48 446.82L440.21 445.71L440.95 446.82L443.41 445.71L441.99 447.64ZM446.61 449L445.19 449.57L446.61 451.5L444.15 450.38L443.41 451.5L442.68 450.38L440.21 451.5L441.64 449.57L440.21 449L441.64 448.42L440.21 446.5L442.68 447.61L443.41 446.5L444.15 447.61L446.61 446.5L445.19 448.42ZM449.82 448.96L448.39 449.54L449.82 451.46L447.35 450.35L446.62 451.46L445.88 450.35L443.42 451.46L444.84 449.54L443.42 448.96L444.84 448.39L443.42 446.46L445.88 447.58L446.62 446.46L447.35 447.58L449.82 446.46L448.39 448.39ZM453.02 449.11L451.59 449.68L453.02 451.61L450.55 450.49L449.82 451.61L449.08 450.49L446.62 451.61L448.04 449.68L446.62 449.11L448.04 448.53L446.62 446.61L449.08 447.72L449.82 446.61L450.55 447.72L453.02 446.61L451.59 448.53ZM456.22 450.1L454.79 450.68L456.22 452.6L453.75 451.49L453.02 452.6L452.29 451.49L449.82 452.6L451.25 450.68L449.82 450.1L451.25 449.53L449.82 447.6L452.29 448.72L453.02 447.6L453.75 448.72L456.22 447.6L454.79 449.53ZM459.42 450.62L458 451.19L459.42 453.12L456.96 452L456.22 453.12L455.49 452L453.02 453.12L454.45 451.19L453.02 450.62L454.45 450.04L453.02 448.12L455.49 449.23L456.22 448.12L456.96 449.23L459.42 448.12L458 450.04ZM462.62 450.84L461.2 451.41L462.62 453.34L460.16 452.23L459.42 453.34L458.69 452.23L456.22 453.34L457.65 451.41L456.22 450.84L457.65 450.27L456.22 448.34L458.69 449.45L459.42 448.34L460.16 449.45L462.62 448.34L461.2 450.27ZM465.83 450.64L464.4 451.22L465.83 453.14L463.36 452.03L462.63 453.14L461.89 452.03L459.43 453.14L460.85 451.22L459.43 450.64L460.85 450.07L459.43 448.14L461.89 449.26L462.63 448.14L463.36 449.26L465.83 448.14L464.4 450.07ZM469.03 451.12L467.6 451.7L469.03 453.62L466.56 452.51L465.83 453.62L465.09 452.51L462.63 453.62L464.05 451.7L462.63 451.12L464.05 450.55L462.63 448.62L465.09 449.74L465.83 448.62L466.56 449.74L469.03 448.62L467.6 450.55ZM472.23 452.11L470.8 452.69L472.23 454.61L469.77 453.5L469.03 454.61L468.3 453.5L465.83 454.61L467.26 452.69L465.83 452.11L467.26 451.54L465.83 449.61L468.3 450.73L469.03 449.61L469.77 450.73L472.23 449.61L470.8 451.54ZM475.43 452.52L474.01 453.09L475.43 455.02L472.97 453.9L472.23 455.02L471.5 453.9L469.03 455.02L470.46 453.09L469.03 452.52L470.46 451.94L469.03 450.02L471.5 451.13L472.23 450.02L472.97 451.13L475.43 450.02L474.01 451.94ZM478.63 453.26L477.21 453.83L478.63 455.76L476.17 454.64L475.43 455.76L474.7 454.64L472.23 455.76L473.66 453.83L472.23 453.26L473.66 452.68L472.23 450.76L474.7 451.87L475.43 450.76L476.17 451.87L478.63 450.76L477.21 452.68ZM481.84 454.42L480.41 454.99L481.84 456.92L479.37 455.81L478.64 456.92L477.9 455.81L475.44 456.92L476.86 454.99L475.44 454.42L476.86 453.85L475.44 451.92L477.9 453.04L478.64 451.92L479.37 453.04L481.84 451.92L480.41 453.85ZM485.04 455.32L483.61 455.9L485.04 457.82L482.57 456.71L481.84 457.82L481.1 456.71L478.64 457.82L480.07 455.9L478.64 455.32L480.07 454.75L478.64 452.82L481.1 453.94L481.84 452.82L482.57 453.94L485.04 452.82L483.61 454.75ZM488.24 455.21L486.81 455.78L488.24 457.71L485.78 456.59L485.04 457.71L484.31 456.59L481.84 457.71L483.27 455.78L481.84 455.21L483.27 454.63L481.84 452.71L484.31 453.82L485.04 452.71L485.78 453.82L488.24 452.71L486.81 454.63ZM491.44 455.9L490.02 456.47L491.44 458.4L488.98 457.29L488.24 458.4L487.51 457.29L485.04 458.4L486.47 456.47L485.04 455.9L486.47 455.33L485.04 453.4L487.51 454.51L488.24 453.4L488.98 454.51L491.44 453.4L490.02 455.33ZM494.65 456.77L493.22 457.35L494.65 459.27L492.18 458.16L491.45 459.27L490.71 458.16L488.25 459.27L489.67 457.35L488.25 456.77L489.67 456.2L488.25 454.27L490.71 455.39L491.45 454.27L492.18 455.39L494.65 454.27L493.22 456.2ZM497.85 457.67L496.42 458.25L497.85 460.17L495.38 459.06L494.65 460.17L493.91 459.06L491.45 460.17L492.87 458.25L491.45 457.67L492.87 457.1L491.45 455.17L493.91 456.29L494.65 455.17L495.38 456.29L497.85 455.17L496.42 457.1ZM501.05 458.22L499.62 458.79L501.05 460.72L498.58 459.6L497.85 460.72L497.11 459.6L494.65 460.72L496.08 458.79L494.65 458.22L496.08 457.64L494.65 455.72L497.11 456.83L497.85 455.72L498.58 456.83L501.05 455.72L499.62 457.64ZM504.25 458.85L502.83 459.42L504.25 461.35L501.79 460.23L501.05 461.35L500.32 460.23L497.85 461.35L499.28 459.42L497.85 458.85L499.28 458.27L497.85 456.35L500.32 457.46L501.05 456.35L501.79 457.46L504.25 456.35L502.83 458.27ZM507.45 459.67L506.03 460.24L507.45 462.17L504.99 461.05L504.25 462.17L503.52 461.05L501.05 462.17L502.48 460.24L501.05 459.67L502.48 459.09L501.05 457.17L503.52 458.28L504.25 457.17L504.99 458.28L507.45 457.17L506.03 459.09ZM510.66 460.17L509.23 460.75L510.66 462.67L508.19 461.56L507.46 462.67L506.72 461.56L504.26 462.67L505.68 460.75L504.26 460.17L505.68 459.6L504.26 457.67L506.72 458.79L507.46 457.67L508.19 458.79L510.66 457.67L509.23 459.6ZM513.86 460.45L512.43 461.03L513.86 462.95L511.39 461.84L510.66 462.95L509.92 461.84L507.46 462.95L508.88 461.03L507.46 460.45L508.88 459.88L507.46 457.95L509.92 459.07L510.66 457.95L511.39 459.07L513.86 457.95L512.43 459.88ZM517.06 460.39L515.63 460.97L517.06 462.89L514.59 461.78L513.86 462.89L513.13 461.78L510.66 462.89L512.09 460.97L510.66 460.39L512.09 459.82L510.66 457.89L513.13 459.01L513.86 457.89L514.59 459.01L517.06 457.89L515.63 459.82ZM520.26 461.06L518.84 461.64L520.26 463.56L517.8 462.45L517.06 463.56L516.33 462.45L513.86 463.56L515.29 461.64L513.86 461.06L515.29 460.49L513.86 458.56L516.33 459.68L517.06 458.56L517.8 459.68L520.26 458.56L518.84 460.49ZM523.46 461.7L522.04 462.27L523.46 464.2L521 463.08L520.26 464.2L519.53 463.08L517.06 464.2L518.49 462.27L517.06 461.7L518.49 461.12L517.06 459.2L519.53 460.31L520.26 459.2L521 460.31L523.46 459.2L522.04 461.12ZM526.67 461.95L525.24 462.52L526.67 464.45L524.2 463.33L523.47 464.45L522.73 463.33L520.27 464.45L521.69 462.52L520.27 461.95L521.69 461.37L520.27 459.45L522.73 460.56L523.47 459.45L524.2 460.56L526.67 459.45L525.24 461.37ZM529.87 461.99L528.44 462.57L529.87 464.49L527.4 463.38L526.67 464.49L525.93 463.38L523.47 464.49L524.89 462.57L523.47 461.99L524.89 461.42L523.47 459.49L525.93 460.61L526.67 459.49L527.4 460.61L529.87 459.49L528.44 461.42ZM533.07 462.6L531.64 463.17L533.07 465.1L530.61 463.98L529.87 465.1L529.14 463.98L526.67 465.1L528.1 463.17L526.67 462.6L528.1 462.02L526.67 460.1L529.14 461.21L529.87 460.1L530.61 461.21L533.07 460.1L531.64 462.02ZM536.27 462.96L534.85 463.53L536.27 465.46L533.81 464.34L533.07 465.46L532.34 464.34L529.87 465.46L531.3 463.53L529.87 462.96L531.3 462.38L529.87 460.46L532.34 461.57L533.07 460.46L533.81 461.57L536.27 460.46L534.85 462.38ZM539.47 462.97L538.05 463.54L539.47 465.47L537.01 464.35L536.27 465.47L535.54 464.35L533.07 465.47L534.5 463.54L533.07 462.97L534.5 462.39L533.07 460.47L535.54 461.58L536.27 460.47L537.01 461.58L539.47 460.47L538.05 462.39ZM542.68 463.87L541.25 464.44L542.68 466.37L540.21 465.25L539.48 466.37L538.74 465.25L536.28 466.37L537.7 464.44L536.28 463.87L537.7 463.29L536.28 461.37L538.74 462.48L539.48 461.37L540.21 462.48L542.68 461.37L541.25 463.29ZM545.88 463.79L544.45 464.36L545.88 466.29L543.41 465.18L542.68 466.29L541.94 465.18L539.48 466.29L540.91 464.36L539.48 463.79L540.91 463.22L539.48 461.29L541.94 462.4L542.68 461.29L543.41 462.4L545.88 461.29L544.45 463.22ZM549.08 464.35L547.65 464.92L549.08 466.85L546.62 465.73L545.88 466.85L545.15 465.73L542.68 466.85L544.11 464.92L542.68 464.35L544.11 463.77L542.68 461.85L545.15 462.96L545.88 461.85L546.62 462.96L549.08 461.85L547.65 463.77ZM552.28 464.35L550.86 464.93L552.28 466.85L549.82 465.74L549.08 466.85L548.35 465.74L545.88 466.85L547.31 464.93L545.88 464.35L547.31 463.78L545.88 461.85L548.35 462.97L549.08 461.85L549.82 462.97L552.28 461.85L550.86 463.78ZM555.49 464.71L554.06 465.28L555.49 467.21L553.02 466.1L552.29 467.21L551.55 466.1L549.09 467.21L550.51 465.28L549.09 464.71L550.51 464.14L549.09 462.21L551.55 463.32L552.29 462.21L553.02 463.32L555.49 462.21L554.06 464.14ZM558.69 465.15L557.26 465.72L558.69 467.65L556.22 466.53L555.49 467.65L554.75 466.53L552.29 467.65L553.71 465.72L552.29 465.15L553.71 464.57L552.29 462.65L554.75 463.76L555.49 462.65L556.22 463.76L558.69 462.65L557.26 464.57ZM561.89 465.51L560.46 466.08L561.89 468.01L559.42 466.89L558.69 468.01L557.95 466.89L555.49 468.01L556.92 466.08L555.49 465.51L556.92 464.93L555.49 463.01L557.95 464.12L558.69 463.01L559.42 464.12L561.89 463.01L560.46 464.93ZM565.09 466.22L563.67 466.79L565.09 468.72L562.63 467.61L561.89 468.72L561.16 467.61L558.69 468.72L560.12 466.79L558.69 466.22L560.12 465.65L558.69 463.72L561.16 464.83L561.89 463.72L562.63 464.83L565.09 463.72L563.67 465.65ZM568.29 466.19L566.87 466.77L568.29 468.69L565.83 467.58L565.09 468.69L564.36 467.58L561.89 468.69L563.32 466.77L561.89 466.19L563.32 465.62L561.89 463.69L564.36 464.81L565.09 463.69L565.83 464.81L568.29 463.69L566.87 465.62ZM571.5 466.88L570.07 467.46L571.5 469.38L569.03 468.27L568.3 469.38L567.56 468.27L565.1 469.38L566.52 467.46L565.1 466.88L566.52 466.31L565.1 464.38L567.56 465.5L568.3 464.38L569.03 465.5L571.5 464.38L570.07 466.31ZM574.7 466.89L573.27 467.46L574.7 469.39L572.23 468.27L571.5 469.39L570.76 468.27L568.3 469.39L569.72 467.46L568.3 466.89L569.72 466.31L568.3 464.39L570.76 465.5L571.5 464.39L572.23 465.5L574.7 464.39L573.27 466.31ZM577.9 467.45L576.47 468.02L577.9 469.95L575.43 468.84L574.7 469.95L573.97 468.84L571.5 469.95L572.93 468.02L571.5 467.45L572.93 466.88L571.5 464.95L573.97 466.07L574.7 464.95L575.43 466.07L577.9 464.95L576.47 466.88ZM581.1 467.57L579.68 468.14L581.1 470.07L578.64 468.95L577.9 470.07L577.17 468.95L574.7 470.07L576.13 468.14L574.7 467.57L576.13 466.99L574.7 465.07L577.17 466.18L577.9 465.07L578.64 466.18L581.1 465.07L579.68 466.99ZM584.3 468.27L582.88 468.84L584.3 470.77L581.84 469.66L581.1 470.77L580.37 469.66L577.9 470.77L579.33 468.84L577.9 468.27L579.33 467.7L577.9 465.77L580.37 466.88L581.1 465.77L581.84 466.88L584.3 465.77L582.88 467.7ZM587.51 468.3L586.08 468.87L587.51 470.8L585.04 469.68L584.31 470.8L583.57 469.68L581.11 470.8L582.53 468.87L581.11 468.3L582.53 467.72L581.11 465.8L583.57 466.91L584.31 465.8L585.04 466.91L587.51 465.8L586.08 467.72ZM590.71 467.67L589.28 468.24L590.71 470.17L588.24 469.05L587.51 470.17L586.77 469.05L584.31 470.17L585.73 468.24L584.31 467.67L585.73 467.09L584.31 465.17L586.77 466.28L587.51 465.17L588.24 466.28L590.71 465.17L589.28 467.09ZM593.91 468.78L592.48 469.35L593.91 471.28L591.45 470.16L590.71 471.28L589.98 470.16L587.51 471.28L588.94 469.35L587.51 468.78L588.94 468.2L587.51 466.28L589.98 467.39L590.71 466.28L591.45 467.39L593.91 466.28L592.48 468.2ZM597.11 468.45L595.69 469.02L597.11 470.95L594.65 469.83L593.91 470.95L593.18 469.83L590.71 470.95L592.14 469.02L590.71 468.45L592.14 467.87L590.71 465.95L593.18 467.06L593.91 465.95L594.65 467.06L597.11 465.95L595.69 467.87ZM600.31 468.7L598.89 469.27L600.31 471.2L597.85 470.09L597.11 471.2L596.38 470.09L593.91 471.2L595.34 469.27L593.91 468.7L595.34 468.13L593.91 466.2L596.38 467.31L597.11 466.2L597.85 467.31L600.31 466.2L598.89 468.13ZM603.52 468.8L602.09 469.38L603.52 471.3L601.05 470.19L600.32 471.3L599.58 470.19L597.12 471.3L598.54 469.38L597.12 468.8L598.54 468.23L597.12 466.3L599.58 467.42L600.32 466.3L601.05 467.42L603.52 466.3L602.09 468.23ZM606.72 469.28L605.29 469.86L606.72 471.78L604.25 470.67L603.52 471.78L602.78 470.67L600.32 471.78L601.75 469.86L600.32 469.28L601.75 468.71L600.32 466.78L602.78 467.9L603.52 466.78L604.25 467.9L606.72 466.78L605.29 468.71ZM609.92 469.31L608.49 469.89L609.92 471.81L607.46 470.7L606.72 471.81L605.99 470.7L603.52 471.81L604.95 469.89L603.52 469.31L604.95 468.74L603.52 466.81L605.99 467.93L606.72 466.81L607.46 467.93L609.92 466.81L608.49 468.74ZM613.12 470.11L611.7 470.69L613.12 472.61L610.66 471.5L609.92 472.61L609.19 471.5L606.72 472.61L608.15 470.69L606.72 470.11L608.15 469.54L606.72 467.61L609.19 468.73L609.92 467.61L610.66 468.73L613.12 467.61L611.7 469.54ZM616.33 470.27L614.9 470.84L616.33 472.77L613.86 471.66L613.13 472.77L612.39 471.66L609.93 472.77L611.35 470.84L609.93 470.27L611.35 469.7L609.93 467.77L612.39 468.88L613.13 467.77L613.86 468.88L616.33 467.77L614.9 469.7ZM619.53 470.28L618.1 470.85L619.53 472.78L617.06 471.66L616.33 472.78L615.59 471.66L613.13 472.78L614.55 470.85L613.13 470.28L614.55 469.7L613.13 467.78L615.59 468.89L616.33 467.78L617.06 468.89L619.53 467.78L618.1 469.7ZM622.73 470.49L621.3 471.06L622.73 472.99L620.26 471.87L619.53 472.99L618.79 471.87L616.33 472.99L617.76 471.06L616.33 470.49L617.76 469.91L616.33 467.99L618.79 469.1L619.53 467.99L620.26 469.1L622.73 467.99L621.3 469.91ZM625.93 470.7L624.51 471.28L625.93 473.2L623.47 472.09L622.73 473.2L622 472.09L619.53 473.2L620.96 471.28L619.53 470.7L620.96 470.13L619.53 468.2L622 469.32L622.73 468.2L623.47 469.32L625.93 468.2L624.51 470.13ZM629.13 470.82L627.71 471.39L629.13 473.32L626.67 472.2L625.93 473.32L625.2 472.2L622.73 473.32L624.16 471.39L622.73 470.82L624.16 470.24L622.73 468.32L625.2 469.43L625.93 468.32L626.67 469.43L629.13 468.32L627.71 470.24ZM632.34 470.46L630.91 471.03L632.34 472.96L629.87 471.85L629.14 472.96L628.4 471.85L625.94 472.96L627.36 471.03L625.94 470.46L627.36 469.89L625.94 467.96L628.4 469.07L629.14 467.96L629.87 469.07L632.34 467.96L630.91 469.89ZM635.54 471.04L634.11 471.62L635.54 473.54L633.07 472.43L632.34 473.54L631.6 472.43L629.14 473.54L630.56 471.62L629.14 471.04L630.56 470.47L629.14 468.54L631.6 469.66L632.34 468.54L633.07 469.66L635.54 468.54L634.11 470.47ZM638.74 470.28L637.31 470.85L638.74 472.78L636.27 471.66L635.54 472.78L634.81 471.66L632.34 472.78L633.77 470.85L632.34 470.28L633.77 469.7L632.34 467.78L634.81 468.89L635.54 467.78L636.27 468.89L638.74 467.78L637.31 469.7ZM641.94 470.74L640.52 471.32L641.94 473.24L639.48 472.13L638.74 473.24L638.01 472.13L635.54 473.24L636.97 471.32L635.54 470.74L636.97 470.17L635.54 468.24L638.01 469.36L638.74 468.24L639.48 469.36L641.94 468.24L640.52 470.17ZM645.14 471.05L643.72 471.63L645.14 473.55L642.68 472.44L641.94 473.55L641.21 472.44L638.74 473.55L640.17 471.63L638.74 471.05L640.17 470.48L638.74 468.55L641.21 469.67L641.94 468.55L642.68 469.67L645.14 468.55L643.72 470.48ZM648.35 470.99L646.92 471.57L648.35 473.49L645.88 472.38L645.15 473.49L644.41 472.38L641.95 473.49L643.37 471.57L641.95 470.99L643.37 470.42L641.95 468.49L644.41 469.61L645.15 468.49L645.88 469.61L648.35 468.49L646.92 470.42ZM651.55 471.66L650.12 472.23L651.55 474.16L649.08 473.04L648.35 474.16L647.61 473.04L645.15 474.16L646.57 472.23L645.15 471.66L646.57 471.08L645.15 469.16L647.61 470.27L648.35 469.16L649.08 470.27L651.55 469.16L650.12 471.08ZM654.75 471L653.32 471.57L654.75 473.5L652.29 472.39L651.55 473.5L650.82 472.39L648.35 473.5L649.78 471.57L648.35 471L649.78 470.43L648.35 468.5L650.82 469.61L651.55 468.5L652.29 469.61L654.75 468.5L653.32 470.43ZM657.95 471.23L656.53 471.81L657.95 473.73L655.49 472.62L654.75 473.73L654.02 472.62L651.55 473.73L652.98 471.81L651.55 471.23L652.98 470.66L651.55 468.73L654.02 469.85L654.75 468.73L655.49 469.85L657.95 468.73L656.53 470.66ZM661.15 471.5L659.73 472.07L661.15 474L658.69 472.88L657.95 474L657.22 472.88L654.75 474L656.18 472.07L654.75 471.5L656.18 470.92L654.75 469L657.22 470.11L657.95 469L658.69 470.11L661.15 469L659.73 470.92ZM664.36 471.91L662.93 472.49L664.36 474.41L661.89 473.3L661.16 474.41L660.42 473.3L657.96 474.41L659.38 472.49L657.96 471.91L659.38 471.34L657.96 469.41L660.42 470.53L661.16 469.41L661.89 470.53L664.36 469.41L662.93 471.34ZM667.56 471.6L666.13 472.17L667.56 474.1L665.09 472.99L664.36 474.1L663.62 472.99L661.16 474.1L662.59 472.17L661.16 471.6L662.59 471.03L661.16 469.1L663.62 470.21L664.36 469.1L665.09 470.21L667.56 469.1L666.13 471.03ZM670.76 471.83L669.33 472.4L670.76 474.33L668.3 473.22L667.56 474.33L666.83 473.22L664.36 474.33L665.79 472.4L664.36 471.83L665.79 471.26L664.36 469.33L666.83 470.44L667.56 469.33L668.3 470.44L670.76 469.33L669.33 471.26ZM673.96 472.04L672.54 472.61L673.96 474.54L671.5 473.42L670.76 474.54L670.03 473.42L667.56 474.54L668.99 472.61L667.56 472.04L668.99 471.46L667.56 469.54L670.03 470.65L670.76 469.54L671.5 470.65L673.96 469.54L672.54 471.46ZM677.17 471.84L675.74 472.42L677.17 474.34L674.7 473.23L673.97 474.34L673.23 473.23L670.77 474.34L672.19 472.42L670.77 471.84L672.19 471.27L670.77 469.34L673.23 470.46L673.97 469.34L674.7 470.46L677.17 469.34L675.74 471.27ZM680.37 472.28L678.94 472.85L680.37 474.78L677.9 473.66L677.17 474.78L676.43 473.66L673.97 474.78L675.39 472.85L673.97 472.28L675.39 471.7L673.97 469.78L676.43 470.89L677.17 469.78L677.9 470.89L680.37 469.78L678.94 471.7ZM683.57 472.7L682.14 473.27L683.57 475.2L681.1 474.08L680.37 475.2L679.63 474.08L677.17 475.2L678.6 473.27L677.17 472.7L678.6 472.12L677.17 470.2L679.63 471.31L680.37 470.2L681.1 471.31L683.57 470.2L682.14 472.12ZM686.77 472.58L685.35 473.15L686.77 475.08L684.31 473.96L683.57 475.08L682.84 473.96L680.37 475.08L681.8 473.15L680.37 472.58L681.8 472L680.37 470.08L682.84 471.19L683.57 470.08L684.31 471.19L686.77 470.08L685.35 472ZM689.97 473.11L688.55 473.68L689.97 475.61L687.51 474.49L686.77 475.61L686.04 474.49L683.57 475.61L685 473.68L683.57 473.11L685 472.53L683.57 470.61L686.04 471.72L686.77 470.61L687.51 471.72L689.97 470.61L688.55 472.53ZM693.18 473.22L691.75 473.8L693.18 475.72L690.71 474.61L689.98 475.72L689.24 474.61L686.78 475.72L688.2 473.8L686.78 473.22L688.2 472.65L686.78 470.72L689.24 471.84L689.98 470.72L690.71 471.84L693.18 470.72L691.75 472.65ZM696.38 472.7L694.95 473.28L696.38 475.2L693.91 474.09L693.18 475.2L692.44 474.09L689.98 475.2L691.4 473.28L689.98 472.7L691.4 472.13L689.98 470.2L692.44 471.32L693.18 470.2L693.91 471.32L696.38 470.2L694.95 472.13ZM699.58 472.75L698.15 473.33L699.58 475.25L697.11 474.14L696.38 475.25L695.65 474.14L693.18 475.25L694.61 473.33L693.18 472.75L694.61 472.18L693.18 470.25L695.65 471.37L696.38 470.25L697.11 471.37L699.58 470.25L698.15 472.18ZM702.78 472.65L701.36 473.23L702.78 475.15L700.32 474.04L699.58 475.15L698.85 474.04L696.38 475.15L697.81 473.23L696.38 472.65L697.81 472.08L696.38 470.15L698.85 471.27L699.58 470.15L700.32 471.27L702.78 470.15L701.36 472.08ZM705.98 472.93L704.56 473.5L705.98 475.43L703.52 474.31L702.78 475.43L702.05 474.31L699.58 475.43L701.01 473.5L699.58 472.93L701.01 472.35L699.58 470.43L702.05 471.54L702.78 470.43L703.52 471.54L705.98 470.43L704.56 472.35ZM709.19 473.42L707.76 474L709.19 475.92L706.72 474.81L705.99 475.92L705.25 474.81L702.79 475.92L704.21 474L702.79 473.42L704.21 472.85L702.79 470.92L705.25 472.04L705.99 470.92L706.72 472.04L709.19 470.92L707.76 472.85ZM712.39 474.1L710.96 474.67L712.39 476.6L709.92 475.48L709.19 476.6L708.45 475.48L705.99 476.6L707.41 474.67L705.99 474.1L707.41 473.52L705.99 471.6L708.45 472.71L709.19 471.6L709.92 472.71L712.39 471.6L710.96 473.52ZM715.59 473.76L714.16 474.34L715.59 476.26L713.13 475.15L712.39 476.26L711.66 475.15L709.19 476.26L710.62 474.34L709.19 473.76L710.62 473.19L709.19 471.26L711.66 472.38L712.39 471.26L713.13 472.38L715.59 471.26L714.16 473.19ZM718.79 473.38L717.37 473.96L718.79 475.88L716.33 474.77L715.59 475.88L714.86 474.77L712.39 475.88L713.82 473.96L712.39 473.38L713.82 472.81L712.39 470.88L714.86 472L715.59 470.88L716.33 472L718.79 470.88L717.37 472.81ZM721.99 473.69L720.57 474.27L721.99 476.19L719.53 475.08L718.79 476.19L718.06 475.08L715.59 476.19L717.02 474.27L715.59 473.69L717.02 473.12L715.59 471.19L718.06 472.31L718.79 471.19L719.53 472.31L721.99 471.19L720.57 473.12Z" fill="#ff00ff"/>
</g>
<path d="M118.4 706L118.4 697 M118.4 571.2L118.4 580.2 M182.44 706L182.44 697 M182.44 571.2L182.44 580.2 M246.48 706L246.48 697 M246.48 571.2L246.48 580.2 M310.53 706L310.53 697 M310.53 571.2L310.53 580.2 M374.57 706L374.57 697 M374.57 571.2L374.57 580.2 M438.61 706L438.61 697 M438.61 571.2L438.61 580.2 M502.65 706L502.65 697 M502.65 571.2L502.65 580.2 M566.69 706L566.69 697 M566.69 571.2L566.69 580.2 M630.74 706L630.74 697 M630.74 571.2L630.74 580.2 M694.78 706L694.78 697 M694.78 571.2L694.78 580.2 M118.4 706L130 706 M726.8 706L715.2 706 M118.4 654.15L130 654.15 M726.8 654.15L715.2 654.15 M118.4 602.31L130 602.31 M726.8 602.31L715.2 602.31" stroke="#2a2a2a" stroke-width="0.9" fill="none"/>
<path d="M131.21 706L131.21 701.5 M131.21 571.2L131.21 575.7 M144.02 706L144.02 701.5 M144.02 571.2L144.02 575.7 M156.83 706L156.83 701.5 M156.83 571.2L156.83 575.7 M169.63 706L169.63 701.5 M169.63 571.2L169.63 575.7 M195.25 706L195.25 701.5 M195.25 571.2L195.25 575.7 M208.06 706L208.06 701.5 M208.06 571.2L208.06 575.7 M220.87 706L220.87 701.5 M220.87 571.2L220.87 575.7 M233.68 706L233.68 701.5 M233.68 571.2L233.68 575.7 M259.29 706L259.29 701.5 M259.29 571.2L259.29 575.7 M272.1 706L272.1 701.5 M272.1 571.2L272.1 575.7 M284.91 706L284.91 701.5 M284.91 571.2L284.91 575.7 M297.72 706L297.72 701.5 M297.72 571.2L297.72 575.7 M323.33 706L323.33 701.5 M323.33 571.2L323.33 575.7 M336.14 706L336.14 701.5 M336.14 571.2L336.14 575.7 M348.95 706L348.95 701.5 M348.95 571.2L348.95 575.7 M361.76 706L361.76 701.5 M361.76 571.2L361.76 575.7 M387.38 706L387.38 701.5 M387.38 571.2L387.38 575.7 M400.19 706L400.19 701.5 M400.19 571.2L400.19 575.7 M412.99 706L412.99 701.5 M412.99 571.2L412.99 575.7 M425.8 706L425.8 701.5 M425.8 571.2L425.8 575.7 M451.42 706L451.42 701.5 M451.42 571.2L451.42 575.7 M464.23 706L464.23 701.5 M464.23 571.2L464.23 575.7 M477.04 706L477.04 701.5 M477.04 571.2L477.04 575.7 M489.84 706L489.84 701.5 M489.84 571.2L489.84 575.7 M515.46 706L515.46 701.5 M515.46 571.2L515.46 575.7 M528.27 706L528.27 701.5 M528.27 571.2L528.27 575.7 M541.08 706L541.08 701.5 M541.08 571.2L541.08 575.7 M553.89 706L553.89 701.5 M553.89 571.2L553.89 575.7 M579.5 706L579.5 701.5 M579.5 571.2L579.5 575.7 M592.31 706L592.31 701.5 M592.31 571.2L592.31 575.7 M605.12 706L605.12 701.5 M605.12 571.2L605.12 575.7 M617.93 706L617.93 701.5 M617.93 571.2L617.93 575.7 M643.55 706L643.55 701.5 M643.55 571.2L643.55 575.7 M656.35 706L656.35 701.5 M656.35 571.2L656.35 575.7 M669.16 706L669.16 701.5 M669.16 571.2L669.16 575.7 M681.97 706L681.97 701.5 M681.97 571.2L681.97 575.7 M707.59 706L707.59 701.5 M707.59 571.2L707.59 575.7 M720.4 706L720.4 701.5 M720.4 571.2L720.4 575.7 M118.4 695.63L124.2 695.63 M726.8 695.63L721 695.63 M118.4 685.26L124.2 685.26 M726.8 685.26L721 685.26 M118.4 674.89L124.2 674.89 M726.8 674.89L721 674.89 M118.4 664.52L124.2 664.52 M726.8 664.52L721 664.52 M118.4 643.78L124.2 643.78 M726.8 643.78L721 643.78 M118.4 633.42L124.2 633.42 M726.8 633.42L721 633.42 M118.4 623.05L124.2 623.05 M726.8 623.05L721 623.05 M118.4 612.68L124.2 612.68 M726.8 612.68L721 612.68 M118.4 591.94L124.2 591.94 M726.8 591.94L721 591.94 M118.4 581.57L124.2 581.57 M726.8 581.57L721 581.57 M118.4 571.2L124.2 571.2 M726.8 571.2L721 571.2" stroke="#444" stroke-width="0.85" fill="none"/>
<path d="M118.4 571.2H726.8M118.4 706H726.8" fill="none" stroke="#111" stroke-width="1.2" stroke-linecap="square"/>
<path d="M118.4 571.2V706M726.8 571.2V706" fill="none" stroke="#111" stroke-width="1.6" stroke-linecap="square"/>
<text transform="translate(113.38 721.3) scale(1.4686 1.0000)" font-family="Liberation Sans, sans-serif" font-size="12.2" fill="#0a0a0a" stroke="#fff" stroke-width="0.15">0</text>
<text transform="translate(168.35 721.3) scale(1.3547 1.0000)" font-family="Liberation Sans, sans-serif" font-size="12.2" fill="#0a0a0a" stroke="#fff" stroke-width="0.15">100</text>
<text transform="translate(231.92 721.3) scale(1.4215 1.0000)" font-family="Liberation Sans, sans-serif" font-size="12.2" fill="#0a0a0a" stroke="#fff" stroke-width="0.15">200</text>
<text transform="translate(296.14 721.3) scale(1.4125 1.0000)" font-family="Liberation Sans, sans-serif" font-size="12.2" fill="#0a0a0a" stroke="#fff" stroke-width="0.15">300</text>
<text transform="translate(360.53 721.3) scale(1.3950 1.0000)" font-family="Liberation Sans, sans-serif" font-size="12.2" fill="#0a0a0a" stroke="#fff" stroke-width="0.15">400</text>
<text transform="translate(424.22 721.3) scale(1.4125 1.0000)" font-family="Liberation Sans, sans-serif" font-size="12.2" fill="#0a0a0a" stroke="#fff" stroke-width="0.15">500</text>
<text transform="translate(488.09 721.3) scale(1.4215 1.0000)" font-family="Liberation Sans, sans-serif" font-size="12.2" fill="#0a0a0a" stroke="#fff" stroke-width="0.15">600</text>
<text transform="translate(552.13 721.3) scale(1.4215 1.0000)" font-family="Liberation Sans, sans-serif" font-size="12.2" fill="#0a0a0a" stroke="#fff" stroke-width="0.15">700</text>
<text transform="translate(616.26 721.3) scale(1.4170 1.0000)" font-family="Liberation Sans, sans-serif" font-size="12.2" fill="#0a0a0a" stroke="#fff" stroke-width="0.15">800</text>
<text transform="translate(680.3 721.3) scale(1.4170 1.0000)" font-family="Liberation Sans, sans-serif" font-size="12.2" fill="#0a0a0a" stroke="#fff" stroke-width="0.15">900</text>
<text transform="translate(96.68 710.3) scale(1.4686 1.0000)" font-family="Liberation Sans, sans-serif" font-size="12.2" fill="#0a0a0a" stroke="#fff" stroke-width="0.15">0</text>
<text transform="translate(87.3 658.45) scale(1.4255 1.0000)" font-family="Liberation Sans, sans-serif" font-size="12.2" fill="#0a0a0a" stroke="#fff" stroke-width="0.15">50</text>
<text transform="translate(79.06 606.61) scale(1.3547 1.0000)" font-family="Liberation Sans, sans-serif" font-size="12.2" fill="#0a0a0a" stroke="#fff" stroke-width="0.15">100</text>
<g clip-path="url(#cb)">
<path d="M150.42 706 L151.64 706 L152.85 706 L154.07 706 L155.29 706 L156.51 706 L157.72 706 L158.94 706 L160.16 706 L161.37 706 L162.59 706 L163.81 706 L165.02 706 L166.24 706 L167.46 706 L168.67 706 L169.89 706 L171.11 706 L172.32 706 L173.54 706 L174.76 706 L175.97 706 L177.19 706 L178.41 706 L179.62 706 L180.84 706 L182.06 706 L183.27 706 L184.49 706 L185.71 706 L186.93 706 L188.14 706 L189.36 706 L190.58 706 L191.79 706 L193.01 706 L194.23 706 L195.44 706 L196.66 706 L197.88 706 L199.09 706 L200.31 706 L201.53 706 L202.74 706 L203.96 706 L205.18 706 L206.39 706 L207.61 706 L208.83 706 L210.04 706 L211.26 706 L212.48 706 L213.69 706 L214.91 706 L216.13 706 L217.35 706 L218.56 706 L219.78 706 L221 706 L222.21 706 L223.43 706 L224.65 706 L225.86 706 L227.08 706 L228.3 706 L229.51 706 L230.73 706 L231.95 706 L233.16 706 L234.38 706 L235.6 706 L236.81 706 L238.03 706 L239.25 706 L240.46 706 L241.68 706 L242.9 706 L244.11 706 L245.33 706 L246.55 706 L247.77 706 L248.98 706 L250.2 706 L251.42 706 L252.63 706 L253.85 706 L255.07 706 L256.28 706 L257.5 706 L258.72 706 L259.93 706 L261.15 706 L262.37 706 L263.58 706 L264.8 706 L266.02 706 L267.23 706 L268.45 706 L269.67 706 L270.88 706 L272.1 706 L273.32 706 L274.53 706 L275.75 706 L276.97 706 L278.19 706 L279.4 706 L280.62 706 L281.84 706 L283.05 706 L284.27 706 L285.49 706 L286.7 706 L287.92 706 L289.14 706 L290.35 706 L291.57 706 L292.79 706 L294 706 L295.22 706 L296.44 706 L297.65 706 L298.87 706 L300.09 706 L301.3 706 L302.52 706 L303.74 706 L304.95 706 L306.17 706 L307.39 706 L308.61 705.98 L309.82 705.83 L311.04 705.49 L312.26 704.5 L313.47 702.71 L314.69 701.17 L315.91 699.84 L317.12 698.83 L318.34 697.96 L319.56 697.19 L320.77 696.47 L321.99 695.77 L323.21 695.09 L324.42 694.45 L325.64 693.84 L326.86 693.25 L328.07 692.67 L329.29 692.1 L330.51 691.52 L331.72 690.94 L332.94 690.34 L334.16 689.73 L335.37 689.13 L336.59 688.53 L337.81 687.92 L339.03 687.32 L340.24 686.72 L341.46 686.11 L342.68 685.51 L343.89 684.91 L345.11 684.32 L346.33 683.74 L347.54 683.15 L348.76 682.56 L349.98 681.96 L351.19 681.34 L352.41 680.7 L353.63 680.04 L354.84 679.36 L356.06 678.66 L357.28 677.95 L358.49 677.22 L359.71 676.47 L360.93 675.72 L362.14 674.95 L363.36 674.17 L364.58 673.36 L365.79 672.54 L367.01 671.69 L368.23 670.83 L369.45 669.96 L370.66 669.09 L371.88 668.22 L373.1 667.36 L374.31 666.49 L375.53 665.6 L376.75 664.71 L377.96 663.81 L379.18 662.92 L380.4 662.04 L381.61 661.19 L382.83 660.36 L384.05 659.57 L385.26 658.8 L386.48 658.05 L387.7 657.31 L388.91 656.59 L390.13 655.88 L391.35 655.17 L392.56 654.47 L393.78 653.76 L395 653.05 L396.21 652.34 L397.43 651.63 L398.65 650.93 L399.87 650.24 L401.08 649.57 L402.3 648.91 L403.52 648.28 L404.73 647.66 L405.95 647.06 L407.17 646.46 L408.38 645.88 L409.6 645.31 L410.82 644.76 L412.03 644.23 L413.25 643.73 L414.47 643.25 L415.68 642.77 L416.9 642.31 L418.12 641.86 L419.33 641.43 L420.55 641.02 L421.77 640.64 L422.98 640.29 L424.2 639.97 L425.42 639.69 L426.63 639.43 L427.85 639.19 L429.07 638.95 L430.29 638.72 L431.5 638.49 L432.72 638.25 L433.94 638.03 L435.15 637.81 L436.37 637.61 L437.59 637.39 L438.8 637.2 L440.02 637.04 L441.24 636.94 L442.45 636.88 L443.67 636.82 L444.89 636.77 L446.1 636.72 L447.32 636.69 L448.54 636.66 L449.75 636.64 L450.97 636.63 L452.19 636.64 L453.4 636.71 L454.62 636.83 L455.84 636.98 L457.05 637.16 L458.27 637.35 L459.49 637.55 L460.71 637.74 L461.92 637.91 L463.14 638.07 L464.36 638.24 L465.57 638.4 L466.79 638.58 L468.01 638.76 L469.22 638.95 L470.44 639.16 L471.66 639.38 L472.87 639.62 L474.09 639.9 L475.31 640.19 L476.52 640.51 L477.74 640.85 L478.96 641.19 L480.17 641.55 L481.39 641.9 L482.61 642.26 L483.82 642.62 L485.04 643 L486.26 643.38 L487.47 643.77 L488.69 644.18 L489.91 644.59 L491.13 645 L492.34 645.42 L493.56 645.85 L494.78 646.3 L495.99 646.76 L497.21 647.23 L498.43 647.7 L499.64 648.17 L500.86 648.63 L502.08 649.07 L503.29 649.51 L504.51 649.93 L505.73 650.36 L506.94 650.78 L508.16 651.19 L509.38 651.59 L510.59 651.99 L511.81 652.37 L513.03 652.74 L514.24 653.1 L515.46 653.45 L516.68 653.78 L517.89 654.11 L519.11 654.44 L520.33 654.76 L521.55 655.08 L522.76 655.4 L523.98 655.72 L525.2 656.05 L526.41 656.37 L527.63 656.7 L528.85 657.03 L530.06 657.36 L531.28 657.69 L532.5 658.01 L533.71 658.33 L534.93 658.64 L536.15 658.95 L537.36 659.26 L538.58 659.55 L539.8 659.84 L541.01 660.12 L542.23 660.39 L543.45 660.65 L544.66 660.9 L545.88 661.14 L547.1 661.38 L548.31 661.62 L549.53 661.85 L550.75 662.07 L551.97 662.3 L553.18 662.51 L554.4 662.72 L555.62 662.93 L556.83 663.13 L558.05 663.32 L559.27 663.51 L560.48 663.69 L561.7 663.86 L562.92 664.03 L564.13 664.19 L565.35 664.35 L566.57 664.51 L567.78 664.66 L569 664.81 L570.22 664.95 L571.43 665.09 L572.65 665.23 L573.87 665.37 L575.08 665.5 L576.3 665.62 L577.52 665.74 L578.73 665.86 L579.95 665.97 L581.17 666.07 L582.39 666.17 L583.6 666.26 L584.82 666.34 L586.04 666.42 L587.25 666.5 L588.47 666.57 L589.69 666.63 L590.9 666.7 L592.12 666.76 L593.34 666.82 L594.55 666.88 L595.77 666.93 L596.99 666.99 L598.2 667.05 L599.42 667.12 L600.64 667.18 L601.85 667.25 L603.07 667.32 L604.29 667.39 L605.5 667.46 L606.72 667.54 L607.94 667.61 L609.15 667.68 L610.37 667.76 L611.59 667.83 L612.81 667.9 L614.02 667.98 L615.24 668.05 L616.46 668.13 L617.67 668.21 L618.89 668.28 L620.11 668.36 L621.32 668.44 L622.54 668.51 L623.76 668.59 L624.97 668.67 L626.19 668.76 L627.41 668.84 L628.62 668.92 L629.84 669.01 L631.06 669.09 L632.27 669.18 L633.49 669.26 L634.71 669.35 L635.92 669.43 L637.14 669.51 L638.36 669.58 L639.57 669.66 L640.79 669.73 L642.01 669.8 L643.23 669.86 L644.44 669.92 L645.66 669.99 L646.88 670.04 L648.09 670.1 L649.31 670.16 L650.53 670.21 L651.74 670.27 L652.96 670.32 L654.18 670.37 L655.39 670.42 L656.61 670.48 L657.83 670.53 L659.04 670.58 L660.26 670.63 L661.48 670.69 L662.69 670.74 L663.91 670.8 L665.13 670.85 L666.34 670.91 L667.56 670.96 L668.78 671.02 L669.99 671.07 L671.21 671.12 L672.43 671.18 L673.65 671.23 L674.86 671.29 L676.08 671.34 L677.3 671.4 L678.51 671.45 L679.73 671.51 L680.95 671.57 L682.16 671.63 L683.38 671.68 L684.6 671.74 L685.81 671.81 L687.03 671.87 L688.25 671.93 L689.46 672 L690.68 672.06 L691.9 672.13 L693.11 672.19 L694.33 672.26 L695.55 672.32 L696.76 672.39 L697.98 672.45 L699.2 672.51 L700.41 672.57 L701.63 672.63 L702.85 672.69 L704.07 672.74 L705.28 672.79 L706.5 672.84 L707.72 672.89 L708.93 672.94 L710.15 672.99 L711.37 673.04 L712.58 673.08 L713.8 673.13 L715.02 673.17 L716.23 673.22 L717.45 673.26 L718.67 673.3 L719.76 673.34" fill="none" stroke="#ff00ff" stroke-width="1.5" stroke-linecap="butt" stroke-linejoin="round" stroke-dasharray="1.5 3.3"/>
<path d="M150.42 706 L151.64 706 L152.85 706 L154.07 706 L155.29 706 L156.51 706 L157.72 706 L158.94 706 L160.16 706 L161.37 706 L162.59 706 L163.81 706 L165.02 706 L166.24 706 L167.46 706 L168.67 706 L169.89 706 L171.11 706 L172.32 706 L173.54 706 L174.76 706 L175.97 706 L177.19 705.98 L178.41 705.94 L179.62 705.88 L180.84 705.8 L182.06 705.72 L183.27 705.62 L184.49 705.5 L185.71 705.35 L186.93 705.19 L188.14 705.04 L189.36 704.91 L190.58 704.78 L191.79 704.66 L193.01 704.54 L194.23 704.43 L195.44 704.31 L196.66 704.19 L197.88 704.08 L199.09 703.96 L200.31 703.85 L201.53 703.73 L202.74 703.61 L203.96 703.5 L205.18 703.38 L206.39 703.26 L207.61 703.15 L208.83 703.03 L210.04 702.91 L211.26 702.79 L212.48 702.67 L213.69 702.55 L214.91 702.43 L216.13 702.3 L217.35 702.18 L218.56 702.05 L219.78 701.92 L221 701.79 L222.21 701.66 L223.43 701.53 L224.65 701.4 L225.86 701.27 L227.08 701.15 L228.3 701.02 L229.51 700.9 L230.73 700.79 L231.95 700.68 L233.16 700.56 L234.38 700.45 L235.6 700.33 L236.81 700.21 L238.03 700.07 L239.25 699.93 L240.46 699.78 L241.68 699.61 L242.9 699.42 L244.11 699.22 L245.33 699 L246.55 698.77 L247.77 698.53 L248.98 698.28 L250.2 698.03 L251.42 697.77 L252.63 697.5 L253.85 697.23 L255.07 696.97 L256.28 696.7 L257.5 696.44 L258.72 696.18 L259.93 695.93 L261.15 695.68 L262.37 695.44 L263.58 695.21 L264.8 694.97 L266.02 694.73 L267.23 694.5 L268.45 694.26 L269.67 694.03 L270.88 693.79 L272.1 693.56 L273.32 693.32 L274.53 693.08 L275.75 692.84 L276.97 692.59 L278.19 692.34 L279.4 692.09 L280.62 691.84 L281.84 691.58 L283.05 691.32 L284.27 691.05 L285.49 690.77 L286.7 690.49 L287.92 690.21 L289.14 689.93 L290.35 689.64 L291.57 689.35 L292.79 689.06 L294 688.78 L295.22 688.49 L296.44 688.21 L297.65 687.92 L298.87 687.65 L300.09 687.37 L301.3 687.11 L302.52 686.84 L303.74 686.58 L304.95 686.31 L306.17 686.05 L307.39 685.78 L308.61 685.52 L309.82 685.25 L311.04 684.99 L312.26 684.74 L313.47 684.48 L314.69 684.24 L315.91 683.99 L317.12 683.76 L318.34 683.53 L319.56 683.3 L320.77 683.09 L321.99 682.89 L323.21 682.69 L324.42 682.49 L325.64 682.3 L326.86 682.12 L328.07 681.93 L329.29 681.75 L330.51 681.57 L331.72 681.4 L332.94 681.23 L334.16 681.07 L335.37 680.91 L336.59 680.76 L337.81 680.61 L339.03 680.46 L340.24 680.32 L341.46 680.19 L342.68 680.06 L343.89 679.94 L345.11 679.81 L346.33 679.69 L347.54 679.57 L348.76 679.47 L349.98 679.37 L351.19 679.3 L352.41 679.24 L353.63 679.18 L354.84 679.13 L356.06 679.09 L357.28 679.06 L358.49 679.04 L359.71 679.04 L360.93 679.07 L362.14 679.11 L363.36 679.16 L364.58 679.22 L365.79 679.29 L367.01 679.36 L368.23 679.46 L369.45 679.58 L370.66 679.73 L371.88 679.89 L373.1 680.05 L374.31 680.21 L375.53 680.37 L376.75 680.53 L377.96 680.7 L379.18 680.88 L380.4 681.06 L381.61 681.24 L382.83 681.42 L384.05 681.61 L385.26 681.81 L386.48 682 L387.7 682.21 L388.91 682.42 L390.13 682.63 L391.35 682.85 L392.56 683.07 L393.78 683.29 L395 683.52 L396.21 683.75 L397.43 683.98 L398.65 684.23 L399.87 684.48 L401.08 684.76 L402.3 685.05 L403.52 685.37 L404.73 685.7 L405.95 686.04 L407.17 686.39 L408.38 686.74 L409.6 687.09 L410.82 687.43 L412.03 687.76 L413.25 688.07 L414.47 688.36 L415.68 688.65 L416.9 688.92 L418.12 689.19 L419.33 689.46 L420.55 689.72 L421.77 690 L422.98 690.27 L424.2 690.54 L425.42 690.81 L426.63 691.08 L427.85 691.34 L429.07 691.61 L430.29 691.87 L431.5 692.12 L432.72 692.38 L433.94 692.64 L435.15 692.89 L436.37 693.14 L437.59 693.39 L438.8 693.63 L440.02 693.86 L441.24 694.09 L442.45 694.3 L443.67 694.51 L444.89 694.71 L446.1 694.91 L447.32 695.1 L448.54 695.29 L449.75 695.48 L450.97 695.67 L452.19 695.85 L453.4 696.03 L454.62 696.21 L455.84 696.39 L457.05 696.56 L458.27 696.73 L459.49 696.9 L460.71 697.06 L461.92 697.22 L463.14 697.38 L464.36 697.53 L465.57 697.68 L466.79 697.83 L468.01 697.98 L469.22 698.12 L470.44 698.27 L471.66 698.4 L472.87 698.54 L474.09 698.67 L475.31 698.8 L476.52 698.93 L477.74 699.06 L478.96 699.18 L480.17 699.29 L481.39 699.4 L482.61 699.5 L483.82 699.6 L485.04 699.69 L486.26 699.78 L487.47 699.87 L488.69 699.95 L489.91 700.03 L491.13 700.11 L492.34 700.19 L493.56 700.27 L494.78 700.35 L495.99 700.43 L497.21 700.51 L498.43 700.58 L499.64 700.66 L500.86 700.73 L502.08 700.79 L503.29 700.84 L504.51 700.9 L505.73 700.95 L506.94 701 L508.16 701.05 L509.38 701.1 L510.59 701.15 L511.81 701.2 L513.03 701.24 L514.24 701.28 L515.46 701.32 L516.68 701.36 L517.89 701.4 L519.11 701.44 L520.33 701.47 L521.55 701.5 L522.76 701.53 L523.98 701.56 L525.2 701.59 L526.41 701.61 L527.63 701.64 L528.85 701.66 L530.06 701.69 L531.28 701.71 L532.5 701.73 L533.71 701.75 L534.93 701.77 L536.15 701.79 L537.36 701.81 L538.58 701.83 L539.8 701.85 L541.01 701.86 L542.23 701.88 L543.45 701.9 L544.66 701.92 L545.88 701.94 L547.1 701.96 L548.31 701.97 L549.53 701.99 L550.75 702.01 L551.97 702.02 L553.18 702.04 L554.4 702.06 L555.62 702.07 L556.83 702.09 L558.05 702.1 L559.27 702.12 L560.48 702.13 L561.7 702.14 L562.92 702.16 L564.13 702.17 L565.35 702.18 L566.57 702.19 L567.78 702.21 L569 702.22 L570.22 702.23 L571.43 702.24 L572.65 702.25 L573.87 702.26 L575.08 702.27 L576.3 702.28 L577.52 702.29 L578.73 702.3 L579.95 702.31 L581.17 702.32 L582.39 702.33 L583.6 702.34 L584.82 702.35 L586.04 702.36 L587.25 702.37 L588.47 702.38 L589.69 702.39 L590.9 702.4 L592.12 702.41 L593.34 702.42 L594.55 702.42 L595.77 702.43 L596.99 702.44 L598.2 702.45 L599.42 702.46 L600.64 702.47 L601.85 702.48 L603.07 702.5 L604.29 702.51 L605.5 702.52 L606.72 702.53 L607.94 702.54 L609.15 702.55 L610.37 702.56 L611.59 702.57 L612.81 702.58 L614.02 702.59 L615.24 702.6 L616.46 702.62 L617.67 702.63 L618.89 702.64 L620.11 702.65 L621.32 702.66 L622.54 702.67 L623.76 702.68 L624.97 702.69 L626.19 702.7 L627.41 702.71 L628.62 702.72 L629.84 702.73 L631.06 702.74 L632.27 702.74 L633.49 702.75 L634.71 702.76 L635.92 702.77 L637.14 702.78 L638.36 702.79 L639.57 702.8 L640.79 702.8 L642.01 702.81 L643.23 702.82 L644.44 702.83 L645.66 702.83 L646.88 702.84 L648.09 702.85 L649.31 702.86 L650.53 702.86 L651.74 702.87 L652.96 702.88 L654.18 702.89 L655.39 702.89 L656.61 702.9 L657.83 702.91 L659.04 702.92 L660.26 702.93 L661.48 702.93 L662.69 702.94 L663.91 702.95 L665.13 702.96 L666.34 702.96 L667.56 702.97 L668.78 702.98 L669.99 702.99 L671.21 703 L672.43 703 L673.65 703.01 L674.86 703.02 L676.08 703.03 L677.3 703.04 L678.51 703.04 L679.73 703.05 L680.95 703.06 L682.16 703.07 L683.38 703.08 L684.6 703.08 L685.81 703.09 L687.03 703.1 L688.25 703.11 L689.46 703.11 L690.68 703.12 L691.9 703.13 L693.11 703.14 L694.33 703.15 L695.55 703.15 L696.76 703.16 L697.98 703.17 L699.2 703.18 L700.41 703.18 L701.63 703.19 L702.85 703.2 L704.07 703.21 L705.28 703.21 L706.5 703.22 L707.72 703.23 L708.93 703.24 L710.15 703.24 L711.37 703.25 L712.58 703.26 L713.8 703.27 L715.02 703.27 L716.23 703.28 L717.45 703.29 L718.67 703.3 L719.76 703.3" fill="none" stroke="#0000ff" stroke-width="1.3" stroke-linecap="butt" stroke-linejoin="round" stroke-dasharray="6 3.7"/>
<path d="M174.76 685.78 L175.97 684.45 L177.19 683.06 L178.41 681.61 L179.62 680.11 L180.84 678.53 L182.06 676.89 L183.27 675.26 L184.49 673.64 L185.71 672.01 L186.93 670.38 L188.14 668.76 L189.36 667.14 L190.58 665.53 L191.79 663.91 L193.01 662.27 L194.23 660.58 L195.44 658.86 L196.66 657.13 L197.88 655.39 L199.09 653.66 L200.31 651.95 L201.53 650.24 L202.74 648.51 L203.96 646.75 L205.18 644.94 L206.39 643.11 L207.61 641.28 L208.83 639.45 L210.04 637.62 L211.26 635.79 L212.48 633.96 L213.69 632.15 L214.91 630.35 L216.13 628.55 L217.35 626.77 L218.56 625.04 L219.78 623.34 L221 621.68 L222.21 620.05 L223.43 618.49 L224.65 617.01 L225.86 615.56 L227.08 614.19 L228.3 612.93 L229.51 611.77 L230.73 610.66 L231.95 609.63 L233.16 608.7 L234.38 607.89 L235.6 607.15 L236.81 606.44 L238.03 605.81 L239.25 605.29 L240.46 604.9 L241.68 604.59 L242.9 604.31 L244.11 604.07 L245.33 603.92 L246.55 603.86 L247.77 603.87 L248.98 603.9 L250.2 603.95 L251.42 604.02 L252.63 604.21 L253.85 604.49 L255.07 604.8 L256.28 605.14 L257.5 605.56 L258.72 606.04 L259.93 606.56 L261.15 607.08 L262.37 607.63 L263.58 608.21 L264.8 608.81 L266.02 609.44 L267.23 610.08 L268.45 610.73 L269.67 611.39 L270.88 612.05 L272.1 612.72 L273.32 613.38 L274.53 614.05 L275.75 614.74 L276.97 615.44 L278.19 616.16 L279.4 616.92 L280.62 617.7 L281.84 618.53 L283.05 619.4 L284.27 620.33 L285.49 621.29 L286.7 622.29 L287.92 623.3 L289.14 624.34 L290.35 625.38 L291.57 626.42 L292.79 627.46 L294 628.51 L295.22 629.57 L296.44 630.65 L297.65 631.75 L298.87 632.88 L300.09 634.03 L301.3 635.21 L302.52 636.43 L303.74 637.7 L304.95 639.01 L306.17 640.35 L307.39 641.72 L308.61 643.11 L309.82 644.51 L311.04 645.91 L312.26 647.31 L313.47 648.74 L314.69 650.2 L315.91 651.67 L317.12 653.15 L318.34 654.63 L319.56 656.1 L320.77 657.54 L321.99 658.95 L323.21 660.33 L324.42 661.68 L325.64 663.02 L326.86 664.34 L328.07 665.66 L329.29 666.97 L330.51 668.28 L331.72 669.6 L332.94 670.93 L334.16 672.3 L335.37 673.7 L336.59 675.09 L337.81 676.48 L339.03 677.83 L340.24 679.14 L341.46 680.38 L342.68 681.54 L343.89 682.65 L345.11 683.73 L346.33 684.77 L347.54 685.78 L348.76 686.74 L349.98 687.67 L351.19 688.54 L352.41 689.37 L353.63 690.14 L354.84 690.89 L356.06 691.6 L357.28 692.28 L358.49 692.94 L359.71 693.56 L360.93 694.15 L362.14 694.72 L363.36 695.25 L364.58 695.76 L365.79 696.26 L367.01 696.73 L368.23 697.19 L369.45 697.62 L370.66 698.03 L371.88 698.42 L373.1 698.79 L374.31 699.14 L375.53 699.47 L376.75 699.8 L377.96 700.11 L379.18 700.4 L380.4 700.68 L381.61 700.93 L382.83 701.15 L384.05 701.36 L385.26 701.55 L386.48 701.72 L387.7 701.89 L388.91 702.05 L390.13 702.19 L391.35 702.33 L392.56 702.46 L393.78 702.58 L395 702.69 L396.21 702.79 L397.43 702.89 L398.65 702.99 L399.87 703.07 L401.08 703.16 L402.3 703.24 L403.52 703.31 L404.73 703.39 L405.95 703.46 L407.17 703.53 L408.38 703.6 L409.6 703.66 L410.82 703.73 L412.03 703.79 L413.25 703.85 L414.47 703.91 L415.68 703.97 L416.9 704.03 L418.12 704.09 L419.33 704.14 L420.55 704.2 L421.77 704.25 L422.98 704.3 L424.2 704.35 L425.42 704.41 L426.63 704.46 L427.85 704.51 L429.07 704.55 L430.29 704.6 L431.5 704.65 L432.72 704.69 L433.94 704.74 L435.15 704.78 L436.37 704.83 L437.59 704.87 L438.8 704.91 L440.02 704.95 L440.53 704.96" fill="none" stroke="#111111" stroke-width="1.3" stroke-linecap="butt" stroke-linejoin="round" stroke-dasharray="6 4.6 1.6 7.2"/>
<path d="M150.42 701.85 L151.64 701.42 L152.85 700.94 L154.07 700.43 L155.29 699.89 L156.51 699.31 L157.72 698.71 L158.94 698.06 L160.16 697.36 L161.37 696.62 L162.59 695.82 L163.81 694.95 L165.02 694 L166.24 692.98 L167.46 691.92 L168.67 690.83 L169.89 689.69 L171.11 688.51 L172.32 687.27 L173.54 686 L174.76 684.66 L175.97 683.26 L177.19 681.83 L178.41 680.36 L179.62 678.85 L180.84 677.31 L182.06 675.72 L183.27 674.12 L184.49 672.48 L185.71 670.81 L186.93 669.11 L188.14 667.41 L189.36 665.71 L190.58 664 L191.79 662.27 L193.01 660.53 L194.23 658.76 L195.44 656.97 L196.66 655.16 L197.88 653.35 L199.09 651.54 L200.31 649.74 L201.53 647.92 L202.74 646.09 L203.96 644.23 L205.18 642.33 L206.39 640.41 L207.61 638.47 L208.83 636.53 L210.04 634.57 L211.26 632.59 L212.48 630.61 L213.69 628.64 L214.91 626.69 L216.13 624.75 L217.35 622.82 L218.56 620.93 L219.78 619.09 L221 617.26 L222.21 615.48 L223.43 613.78 L224.65 612.17 L225.86 610.61 L227.08 609.13 L228.3 607.76 L229.51 606.51 L230.73 605.33 L231.95 604.22 L233.16 603.2 L234.38 602.27 L235.6 601.41 L236.81 600.6 L238.03 599.85 L239.25 599.17 L240.46 598.57 L241.68 598.03 L242.9 597.51 L244.11 597.04 L245.33 596.66 L246.55 596.39 L247.77 596.17 L248.98 595.98 L250.2 595.82 L251.42 595.71 L252.63 595.67 L253.85 595.72 L255.07 595.85 L256.28 596.02 L257.5 596.23 L258.72 596.55 L259.93 596.93 L261.15 597.31 L262.37 597.69 L263.58 598.09 L264.8 598.51 L266.02 598.94 L267.23 599.38 L268.45 599.84 L269.67 600.3 L270.88 600.78 L272.1 601.26 L273.32 601.76 L274.53 602.26 L275.75 602.78 L276.97 603.32 L278.19 603.88 L279.4 604.46 L280.62 605.06 L281.84 605.69 L283.05 606.37 L284.27 607.1 L285.49 607.87 L286.7 608.66 L287.92 609.53 L289.14 610.43 L290.35 611.34 L291.57 612.2 L292.79 613.03 L294 613.85 L295.22 614.63 L296.44 615.37 L297.65 616.07 L298.87 616.75 L300.09 617.39 L301.3 617.99 L302.52 618.56 L303.74 619.09 L304.95 619.6 L306.17 620.1 L307.39 620.58 L308.61 621.05 L309.82 621.53 L311.04 622.01 L312.26 622.5 L313.47 622.98 L314.69 623.46 L315.91 623.95 L317.12 624.48 L318.34 625.05 L319.56 625.66 L320.77 626.3 L321.99 626.95 L323.21 627.63 L324.42 628.34 L325.64 629.07 L326.86 629.8 L328.07 630.54 L329.29 631.31 L330.51 632.07 L331.72 632.79 L332.94 633.44 L334.16 634.05 L335.37 634.62 L336.59 635.15 L337.81 635.64 L339.03 636.11 L340.24 636.55 L341.46 636.95 L342.68 637.28 L343.89 637.59 L345.11 637.87 L346.33 638.11 L347.54 638.28 L348.76 638.39 L349.98 638.49 L351.19 638.56 L352.41 638.6 L353.63 638.58 L354.84 638.46 L356.06 638.29 L357.28 638.09 L358.49 637.87 L359.71 637.56 L360.93 637.19 L362.14 636.8 L363.36 636.43 L364.58 636.09 L365.79 635.75 L367.01 635.4 L368.23 635.06 L369.45 634.71 L370.66 634.34 L371.88 633.97 L373.1 633.58 L374.31 633.17 L375.53 632.72 L376.75 632.26 L377.96 631.78 L379.18 631.3 L380.4 630.83 L381.61 630.37 L382.83 629.94 L384.05 629.54 L385.26 629.15 L386.48 628.77 L387.7 628.41 L388.91 628.05 L390.13 627.7 L391.35 627.36 L392.56 627.02 L393.78 626.69 L395 626.36 L396.21 626.03 L397.43 625.71 L398.65 625.39 L399.87 625.09 L401.08 624.8 L402.3 624.52 L403.52 624.26 L404.73 624.02 L405.95 623.77 L407.17 623.54 L408.38 623.31 L409.6 623.1 L410.82 622.9 L412.03 622.73 L413.25 622.57 L414.47 622.43 L415.68 622.3 L416.9 622.16 L418.12 622.03 L419.33 621.92 L420.55 621.82 L421.77 621.75 L422.98 621.71 L424.2 621.7 L425.42 621.7 L426.63 621.72 L427.85 621.73 L429.07 621.76 L430.29 621.78 L431.5 621.83 L432.72 621.97 L433.94 622.19 L435.15 622.46 L436.37 622.73 L437.59 623 L438.8 623.27 L440.02 623.56 L441.24 623.87 L442.45 624.18 L443.67 624.48 L444.89 624.78 L446.1 625.07 L447.32 625.36 L448.54 625.65 L449.75 625.95 L450.97 626.25 L452.19 626.56 L453.4 626.87 L454.62 627.19 L455.84 627.51 L457.05 627.83 L458.27 628.15 L459.49 628.48 L460.71 628.8 L461.92 629.13 L463.14 629.45 L464.36 629.77 L465.57 630.08 L466.79 630.4 L468.01 630.73 L469.22 631.07 L470.44 631.41 L471.66 631.78 L472.87 632.17 L474.09 632.58 L475.31 633.01 L476.52 633.45 L477.74 633.91 L478.96 634.37 L480.17 634.83 L481.39 635.3 L482.61 635.76 L483.82 636.23 L485.04 636.7 L486.26 637.17 L487.47 637.65 L488.69 638.13 L489.91 638.62 L491.13 639.11 L492.34 639.61 L493.56 640.12 L494.78 640.65 L495.99 641.2 L497.21 641.74 L498.43 642.29 L499.64 642.83 L500.86 643.36 L502.08 643.86 L503.29 644.35 L504.51 644.82 L505.73 645.28 L506.94 645.73 L508.16 646.18 L509.38 646.61 L510.59 647.04 L511.81 647.46 L513.03 647.87 L514.24 648.28 L515.46 648.67 L516.68 649.06 L517.89 649.45 L519.11 649.82 L520.33 650.2 L521.55 650.56 L522.76 650.93 L523.98 651.29 L525.2 651.65 L526.41 652 L527.63 652.35 L528.85 652.7 L530.06 653.04 L531.28 653.37 L532.5 653.71 L533.71 654.03 L534.93 654.36 L536.15 654.68 L537.36 655 L538.58 655.31 L539.8 655.62 L541.01 655.92 L542.23 656.21 L543.45 656.5 L544.66 656.77 L545.88 657.03 L547.1 657.29 L548.31 657.54 L549.53 657.78 L550.75 658.02 L551.97 658.25 L553.18 658.48 L554.4 658.71 L555.62 658.92 L556.83 659.13 L558.05 659.34 L559.27 659.54 L560.48 659.74 L561.7 659.94 L562.92 660.13 L564.13 660.32 L565.35 660.51 L566.57 660.71 L567.78 660.9 L569 661.09 L570.22 661.27 L571.43 661.44 L572.65 661.59 L573.87 661.74 L575.08 661.87 L576.3 662 L577.52 662.11 L578.73 662.23 L579.95 662.34 L581.17 662.44 L582.39 662.54 L583.6 662.63 L584.82 662.72 L586.04 662.8 L587.25 662.88 L588.47 662.95 L589.69 663.03 L590.9 663.1 L592.12 663.17 L593.34 663.23 L594.55 663.3 L595.77 663.37 L596.99 663.44 L598.2 663.51 L599.42 663.58 L600.64 663.65 L601.85 663.73 L603.07 663.81 L604.29 663.89 L605.5 663.98 L606.72 664.06 L607.94 664.15 L609.15 664.23 L610.37 664.32 L611.59 664.41 L612.81 664.5 L614.02 664.59 L615.24 664.67 L616.46 664.76 L617.67 664.85 L618.89 664.94 L620.11 665.03 L621.32 665.11 L622.54 665.2 L623.76 665.29 L624.97 665.38 L626.19 665.47 L627.41 665.56 L628.62 665.65 L629.84 665.74 L631.06 665.83 L632.27 665.92 L633.49 666.01 L634.71 666.1 L635.92 666.18 L637.14 666.27 L638.36 666.35 L639.57 666.43 L640.79 666.51 L642.01 666.58 L643.23 666.65 L644.44 666.72 L645.66 666.79 L646.88 666.85 L648.09 666.92 L649.31 666.98 L650.53 667.04 L651.74 667.1 L652.96 667.16 L654.18 667.22 L655.39 667.28 L656.61 667.33 L657.83 667.39 L659.04 667.45 L660.26 667.51 L661.48 667.57 L662.69 667.63 L663.91 667.69 L665.13 667.75 L666.34 667.81 L667.56 667.87 L668.78 667.94 L669.99 668 L671.21 668.06 L672.43 668.12 L673.65 668.18 L674.86 668.24 L676.08 668.3 L677.3 668.36 L678.51 668.42 L679.73 668.49 L680.95 668.55 L682.16 668.61 L683.38 668.68 L684.6 668.74 L685.81 668.81 L687.03 668.88 L688.25 668.95 L689.46 669.02 L690.68 669.09 L691.9 669.16 L693.11 669.23 L694.33 669.3 L695.55 669.37 L696.76 669.44 L697.98 669.51 L699.2 669.58 L700.41 669.64 L701.63 669.71 L702.85 669.78 L704.07 669.84 L705.28 669.91 L706.5 669.97 L707.72 670.03 L708.93 670.1 L710.15 670.16 L711.37 670.22 L712.58 670.28 L713.8 670.35 L715.02 670.41 L716.23 670.47 L717.45 670.53 L718.67 670.59 L719.76 670.64" fill="none" stroke="#ff0000" stroke-width="1.35" stroke-linecap="butt" stroke-linejoin="round"/>
<path d="M180.84 673.75V673.75M187.25 662.14V662.14M193.65 651.25V651.25M200.05 638.6V638.6M206.46 626.36V626.36M212.86 615.48V622.94M219.27 600.65V608.11M225.67 597.12V604.59M232.07 594.43V601.89M238.48 589.55V597.02M244.88 582.5V589.97M251.29 579.39V586.86M257.69 583.85V591.32M264.1 584.89V592.35M270.5 588.93V596.4M276.9 593.08V600.54M283.31 594.74V602.2M289.71 605.94V613.4M296.12 609.98V617.45M302.52 612.47V619.94M308.93 616.51V623.98M315.33 623.77V623.77M321.73 631.86V631.86M328.14 633.52V633.52M334.54 636.01V636.01M340.95 633.1V633.1M347.35 637.56V637.56M353.75 639.01V639.01M360.16 637.98V637.98M366.56 638.19V638.19M372.97 638.19V638.19M379.37 637.98V637.98M385.78 635.59V635.59M392.18 633.93V633.93M398.58 633.93V633.93M404.99 631.86V631.86M411.39 633.52V633.52M417.8 632.9V632.9M424.2 631.45V631.45M430.61 631.86V631.86M437.01 635.59V635.59M443.41 638.08V638.08M449.82 638.19V638.19M456.22 639.64V639.64M462.63 638.19V638.19M469.03 641.71V641.71M475.43 641.3V641.3M481.84 643.78V643.78M488.24 647.21V647.21M494.65 646.79V646.79M501.05 649.28V649.28M507.46 653.95V653.95M513.86 654.36V654.36M520.26 657.58V657.58M526.67 656.54V656.54M533.07 656.54V656.54M539.48 656.33V656.33M545.88 658.41V658.41M552.29 662.45V662.45M558.69 660.06V660.06M565.09 661.93V661.93M571.5 665.56V665.56M577.9 665.77V665.77M584.31 665.77V665.77M590.71 664.11V664.11M597.11 667.22V667.22M603.52 666.18V666.18M609.92 667.22V667.22M616.33 668.15V668.15M622.73 667.63V667.63M629.14 668.88V668.88M635.54 667.63V667.63M641.94 667.22V667.22M648.35 669.29V669.29M654.75 668.88V668.88M661.16 668.15V668.15M667.56 669.29V669.29M673.97 671.26V671.26M680.37 671.89V671.89M686.77 670.85V670.85M693.18 670.64V670.64M699.58 669.71V669.71M705.99 671.68V671.68M712.39 671.68V671.68M718.79 672.71V672.71M725.2 672.3V672.3" stroke="#0000ff" stroke-width="1.35" fill="none"/>
<path d="M178.14 671.35h5.4v4.8h-5.4ZM184.55 659.74h5.4v4.8h-5.4ZM190.95 648.85h5.4v4.8h-5.4ZM197.35 636.2h5.4v4.8h-5.4ZM203.76 623.96h5.4v4.8h-5.4ZM210.16 616.81h5.4v4.8h-5.4ZM216.57 601.98h5.4v4.8h-5.4ZM222.97 598.46h5.4v4.8h-5.4ZM229.37 595.76h5.4v4.8h-5.4ZM235.78 590.89h5.4v4.8h-5.4ZM242.18 583.84h5.4v4.8h-5.4ZM248.59 580.72h5.4v4.8h-5.4ZM254.99 585.18h5.4v4.8h-5.4ZM261.4 586.22h5.4v4.8h-5.4ZM267.8 590.26h5.4v4.8h-5.4ZM274.2 594.41h5.4v4.8h-5.4ZM280.61 596.07h5.4v4.8h-5.4ZM287.01 607.27h5.4v4.8h-5.4ZM293.42 611.31h5.4v4.8h-5.4ZM299.82 613.8h5.4v4.8h-5.4ZM306.23 617.85h5.4v4.8h-5.4ZM312.63 621.37h5.4v4.8h-5.4ZM319.03 629.46h5.4v4.8h-5.4ZM325.44 631.12h5.4v4.8h-5.4ZM331.84 633.61h5.4v4.8h-5.4ZM338.25 630.7h5.4v4.8h-5.4ZM344.65 635.16h5.4v4.8h-5.4ZM351.05 636.61h5.4v4.8h-5.4ZM357.46 635.58h5.4v4.8h-5.4ZM363.86 635.79h5.4v4.8h-5.4ZM370.27 635.79h5.4v4.8h-5.4ZM376.67 635.58h5.4v4.8h-5.4ZM383.08 633.19h5.4v4.8h-5.4ZM389.48 631.53h5.4v4.8h-5.4ZM395.88 631.53h5.4v4.8h-5.4ZM402.29 629.46h5.4v4.8h-5.4ZM408.69 631.12h5.4v4.8h-5.4ZM415.1 630.5h5.4v4.8h-5.4ZM421.5 629.05h5.4v4.8h-5.4ZM427.91 629.46h5.4v4.8h-5.4ZM434.31 633.19h5.4v4.8h-5.4ZM440.71 635.68h5.4v4.8h-5.4ZM447.12 635.79h5.4v4.8h-5.4ZM453.52 637.24h5.4v4.8h-5.4ZM459.93 635.79h5.4v4.8h-5.4ZM466.33 639.31h5.4v4.8h-5.4ZM472.73 638.9h5.4v4.8h-5.4ZM479.14 641.38h5.4v4.8h-5.4ZM485.54 644.81h5.4v4.8h-5.4ZM491.95 644.39h5.4v4.8h-5.4ZM498.35 646.88h5.4v4.8h-5.4ZM504.76 651.55h5.4v4.8h-5.4ZM511.16 651.96h5.4v4.8h-5.4ZM517.56 655.18h5.4v4.8h-5.4ZM523.97 654.14h5.4v4.8h-5.4ZM530.37 654.14h5.4v4.8h-5.4ZM536.78 653.93h5.4v4.8h-5.4ZM543.18 656.01h5.4v4.8h-5.4ZM549.59 660.05h5.4v4.8h-5.4ZM555.99 657.66h5.4v4.8h-5.4ZM562.39 659.53h5.4v4.8h-5.4ZM568.8 663.16h5.4v4.8h-5.4ZM575.2 663.37h5.4v4.8h-5.4ZM581.61 663.37h5.4v4.8h-5.4ZM588.01 661.71h5.4v4.8h-5.4ZM594.41 664.82h5.4v4.8h-5.4ZM600.82 663.78h5.4v4.8h-5.4ZM607.22 664.82h5.4v4.8h-5.4ZM613.63 665.75h5.4v4.8h-5.4ZM620.03 665.23h5.4v4.8h-5.4ZM626.44 666.48h5.4v4.8h-5.4ZM632.84 665.23h5.4v4.8h-5.4ZM639.24 664.82h5.4v4.8h-5.4ZM645.65 666.89h5.4v4.8h-5.4ZM652.05 666.48h5.4v4.8h-5.4ZM658.46 665.75h5.4v4.8h-5.4ZM664.86 666.89h5.4v4.8h-5.4ZM671.27 668.86h5.4v4.8h-5.4ZM677.67 669.49h5.4v4.8h-5.4ZM684.07 668.45h5.4v4.8h-5.4ZM690.48 668.24h5.4v4.8h-5.4ZM696.88 667.31h5.4v4.8h-5.4ZM703.29 669.28h5.4v4.8h-5.4ZM709.69 669.28h5.4v4.8h-5.4ZM716.09 670.31h5.4v4.8h-5.4ZM722.5 669.9h5.4v4.8h-5.4Z" fill="#0000ff"/>
</g>
<path d="M726.8 571.2V706" stroke="#111" stroke-width="1.6" fill="none"/>
<path d="M118.4 910.9L118.4 901.9 M118.4 776.1L118.4 785.1 M179.24 910.9L179.24 901.9 M179.24 776.1L179.24 785.1 M240.08 910.9L240.08 901.9 M240.08 776.1L240.08 785.1 M300.92 910.9L300.92 901.9 M300.92 776.1L300.92 785.1 M361.76 910.9L361.76 901.9 M361.76 776.1L361.76 785.1 M422.6 910.9L422.6 901.9 M422.6 776.1L422.6 785.1 M483.44 910.9L483.44 901.9 M483.44 776.1L483.44 785.1 M544.28 910.9L544.28 901.9 M544.28 776.1L544.28 785.1 M605.12 910.9L605.12 901.9 M605.12 776.1L605.12 785.1 M665.96 910.9L665.96 901.9 M665.96 776.1L665.96 785.1 M726.8 910.9L726.8 901.9 M726.8 776.1L726.8 785.1 M118.4 910.9L130 910.9 M726.8 910.9L715.2 910.9 M118.4 872.39L130 872.39 M726.8 872.39L715.2 872.39 M118.4 833.87L130 833.87 M726.8 833.87L715.2 833.87 M118.4 795.36L130 795.36 M726.8 795.36L715.2 795.36" stroke="#2a2a2a" stroke-width="0.9" fill="none"/>
<path d="M130.57 910.9L130.57 906.4 M130.57 776.1L130.57 780.6 M142.74 910.9L142.74 906.4 M142.74 776.1L142.74 780.6 M154.9 910.9L154.9 906.4 M154.9 776.1L154.9 780.6 M167.07 910.9L167.07 906.4 M167.07 776.1L167.07 780.6 M191.41 910.9L191.41 906.4 M191.41 776.1L191.41 780.6 M203.58 910.9L203.58 906.4 M203.58 776.1L203.58 780.6 M215.74 910.9L215.74 906.4 M215.74 776.1L215.74 780.6 M227.91 910.9L227.91 906.4 M227.91 776.1L227.91 780.6 M252.25 910.9L252.25 906.4 M252.25 776.1L252.25 780.6 M264.42 910.9L264.42 906.4 M264.42 776.1L264.42 780.6 M276.58 910.9L276.58 906.4 M276.58 776.1L276.58 780.6 M288.75 910.9L288.75 906.4 M288.75 776.1L288.75 780.6 M313.09 910.9L313.09 906.4 M313.09 776.1L313.09 780.6 M325.26 910.9L325.26 906.4 M325.26 776.1L325.26 780.6 M337.42 910.9L337.42 906.4 M337.42 776.1L337.42 780.6 M349.59 910.9L349.59 906.4 M349.59 776.1L349.59 780.6 M373.93 910.9L373.93 906.4 M373.93 776.1L373.93 780.6 M386.1 910.9L386.1 906.4 M386.1 776.1L386.1 780.6 M398.26 910.9L398.26 906.4 M398.26 776.1L398.26 780.6 M410.43 910.9L410.43 906.4 M410.43 776.1L410.43 780.6 M434.77 910.9L434.77 906.4 M434.77 776.1L434.77 780.6 M446.94 910.9L446.94 906.4 M446.94 776.1L446.94 780.6 M459.1 910.9L459.1 906.4 M459.1 776.1L459.1 780.6 M471.27 910.9L471.27 906.4 M471.27 776.1L471.27 780.6 M495.61 910.9L495.61 906.4 M495.61 776.1L495.61 780.6 M507.78 910.9L507.78 906.4 M507.78 776.1L507.78 780.6 M519.94 910.9L519.94 906.4 M519.94 776.1L519.94 780.6 M532.11 910.9L532.11 906.4 M532.11 776.1L532.11 780.6 M556.45 910.9L556.45 906.4 M556.45 776.1L556.45 780.6 M568.62 910.9L568.62 906.4 M568.62 776.1L568.62 780.6 M580.78 910.9L580.78 906.4 M580.78 776.1L580.78 780.6 M592.95 910.9L592.95 906.4 M592.95 776.1L592.95 780.6 M617.29 910.9L617.29 906.4 M617.29 776.1L617.29 780.6 M629.46 910.9L629.46 906.4 M629.46 776.1L629.46 780.6 M641.62 910.9L641.62 906.4 M641.62 776.1L641.62 780.6 M653.79 910.9L653.79 906.4 M653.79 776.1L653.79 780.6 M678.13 910.9L678.13 906.4 M678.13 776.1L678.13 780.6 M690.3 910.9L690.3 906.4 M690.3 776.1L690.3 780.6 M702.46 910.9L702.46 906.4 M702.46 776.1L702.46 780.6 M714.63 910.9L714.63 906.4 M714.63 776.1L714.63 780.6 M118.4 903.2L124.2 903.2 M726.8 903.2L721 903.2 M118.4 895.49L124.2 895.49 M726.8 895.49L721 895.49 M118.4 887.79L124.2 887.79 M726.8 887.79L721 887.79 M118.4 880.09L124.2 880.09 M726.8 880.09L721 880.09 M118.4 864.68L124.2 864.68 M726.8 864.68L721 864.68 M118.4 856.98L124.2 856.98 M726.8 856.98L721 856.98 M118.4 849.28L124.2 849.28 M726.8 849.28L721 849.28 M118.4 841.57L124.2 841.57 M726.8 841.57L721 841.57 M118.4 826.17L124.2 826.17 M726.8 826.17L721 826.17 M118.4 818.47L124.2 818.47 M726.8 818.47L721 818.47 M118.4 810.76L124.2 810.76 M726.8 810.76L721 810.76 M118.4 803.06L124.2 803.06 M726.8 803.06L721 803.06 M118.4 787.65L124.2 787.65 M726.8 787.65L721 787.65 M118.4 779.95L124.2 779.95 M726.8 779.95L721 779.95" stroke="#444" stroke-width="0.85" fill="none"/>
<path d="M118.4 776.1H726.8M118.4 910.9H726.8" fill="none" stroke="#111" stroke-width="1.2" stroke-linecap="square"/>
<path d="M118.4 776.1V910.9M726.8 776.1V910.9" fill="none" stroke="#111" stroke-width="1.6" stroke-linecap="square"/>
<text transform="translate(113.38 926.2) scale(1.4686 1.0000)" font-family="Liberation Sans, sans-serif" font-size="12.2" fill="#0a0a0a" stroke="#fff" stroke-width="0.15">0</text>
<text transform="translate(169.54 926.2) scale(1.4255 1.0000)" font-family="Liberation Sans, sans-serif" font-size="12.2" fill="#0a0a0a" stroke="#fff" stroke-width="0.15">50</text>
<text transform="translate(225.99 926.2) scale(1.3547 1.0000)" font-family="Liberation Sans, sans-serif" font-size="12.2" fill="#0a0a0a" stroke="#fff" stroke-width="0.15">100</text>
<text transform="translate(286.83 926.2) scale(1.3547 1.0000)" font-family="Liberation Sans, sans-serif" font-size="12.2" fill="#0a0a0a" stroke="#fff" stroke-width="0.15">150</text>
<text transform="translate(347.19 926.2) scale(1.4215 1.0000)" font-family="Liberation Sans, sans-serif" font-size="12.2" fill="#0a0a0a" stroke="#fff" stroke-width="0.15">200</text>
<text transform="translate(408.03 926.2) scale(1.4215 1.0000)" font-family="Liberation Sans, sans-serif" font-size="12.2" fill="#0a0a0a" stroke="#fff" stroke-width="0.15">250</text>
<text transform="translate(469.05 926.2) scale(1.4125 1.0000)" font-family="Liberation Sans, sans-serif" font-size="12.2" fill="#0a0a0a" stroke="#fff" stroke-width="0.15">300</text>
<text transform="translate(529.89 926.2) scale(1.4125 1.0000)" font-family="Liberation Sans, sans-serif" font-size="12.2" fill="#0a0a0a" stroke="#fff" stroke-width="0.15">350</text>
<text transform="translate(591.08 926.2) scale(1.3950 1.0000)" font-family="Liberation Sans, sans-serif" font-size="12.2" fill="#0a0a0a" stroke="#fff" stroke-width="0.15">400</text>
<text transform="translate(651.92 926.2) scale(1.3950 1.0000)" font-family="Liberation Sans, sans-serif" font-size="12.2" fill="#0a0a0a" stroke="#fff" stroke-width="0.15">450</text>
<text transform="translate(712.41 926.2) scale(1.4125 1.0000)" font-family="Liberation Sans, sans-serif" font-size="12.2" fill="#0a0a0a" stroke="#fff" stroke-width="0.15">500</text>
<text transform="translate(96.68 915.2) scale(1.4686 1.0000)" font-family="Liberation Sans, sans-serif" font-size="12.2" fill="#0a0a0a" stroke="#fff" stroke-width="0.15">0</text>
<text transform="translate(97.91 876.69) scale(1.3002 1.0000)" font-family="Liberation Sans, sans-serif" font-size="12.2" fill="#0a0a0a" stroke="#fff" stroke-width="0.15">1</text>
<text transform="translate(96.45 838.17) scale(1.5493 1.0000)" font-family="Liberation Sans, sans-serif" font-size="12.2" fill="#0a0a0a" stroke="#fff" stroke-width="0.15">2</text>
<text transform="translate(96.68 799.66) scale(1.4840 1.0000)" font-family="Liberation Sans, sans-serif" font-size="12.2" fill="#0a0a0a" stroke="#fff" stroke-width="0.15">3</text>
<g clip-path="url(#cc)">
<path d="M167.07 910.9 L168.29 910.9 L169.51 910.9 L170.72 910.9 L171.94 910.9 L173.16 910.9 L174.37 910.9 L175.59 910.9 L176.81 910.9 L178.02 910.9 L179.24 910.9 L180.46 910.9 L181.67 910.9 L182.89 910.9 L184.11 910.9 L185.32 910.9 L186.54 910.9 L187.76 910.9 L188.97 910.9 L190.19 910.9 L191.41 910.9 L192.62 910.9 L193.84 910.9 L195.06 910.9 L196.28 910.9 L197.49 910.9 L198.71 910.9 L199.93 910.9 L201.14 910.9 L202.36 910.9 L203.58 910.9 L204.79 910.9 L206.01 910.9 L207.23 910.9 L208.44 910.9 L209.66 910.9 L210.88 910.9 L212.09 910.9 L213.31 910.9 L214.53 910.9 L215.74 910.9 L216.96 910.9 L218.18 910.9 L219.39 910.9 L220.61 910.9 L221.83 910.9 L223.04 910.9 L224.26 910.9 L225.48 910.9 L226.7 910.9 L227.91 910.9 L229.13 910.9 L230.35 910.9 L231.56 910.9 L232.78 910.9 L234 910.9 L235.21 910.9 L236.43 910.9 L237.65 910.9 L238.86 910.9 L240.08 910.9 L241.3 910.9 L242.51 910.9 L243.73 910.9 L244.95 910.9 L246.16 910.9 L247.38 910.9 L248.6 910.9 L249.81 910.9 L251.03 910.9 L252.25 910.9 L253.46 910.9 L254.68 910.9 L255.9 910.9 L257.12 910.9 L258.33 910.9 L259.55 910.9 L260.77 910.9 L261.98 910.9 L263.2 910.9 L264.42 910.9 L265.63 910.9 L266.85 910.9 L268.07 910.9 L269.28 910.9 L270.5 910.9 L271.72 910.9 L272.93 910.9 L274.15 910.9 L275.37 910.9 L276.58 910.9 L277.8 910.9 L279.02 910.9 L280.23 910.9 L281.45 910.9 L282.67 910.9 L283.88 910.9 L285.1 910.9 L286.32 910.9 L287.54 910.9 L288.75 910.9 L289.97 910.9 L291.19 910.9 L292.4 910.9 L293.62 910.9 L294.84 910.9 L296.05 910.9 L297.27 910.9 L298.49 910.9 L299.7 910.9 L300.92 910.9 L302.14 910.9 L303.35 910.9 L304.57 910.9 L305.79 910.9 L307 910.9 L308.22 910.9 L309.44 910.9 L310.65 910.9 L311.87 910.9 L313.09 910.9 L314.3 910.9 L315.52 910.9 L316.74 910.9 L317.96 910.9 L319.17 910.9 L320.39 910.9 L321.61 910.9 L322.82 910.9 L324.04 910.9 L325.26 910.9 L326.47 910.9 L327.69 910.9 L328.91 910.9 L330.12 910.9 L331.34 910.9 L332.56 910.9 L333.77 910.9 L334.99 910.9 L336.21 910.9 L337.42 910.9 L338.64 910.9 L339.86 910.9 L341.07 910.9 L342.29 910.9 L343.51 910.9 L344.72 910.9 L345.94 910.9 L347.16 910.9 L348.38 910.9 L349.59 910.9 L350.81 910.9 L352.03 910.9 L353.24 910.9 L354.46 910.9 L355.68 910.9 L356.89 910.9 L358.11 910.9 L359.33 910.9 L360.54 910.9 L361.76 910.9 L362.98 910.89 L364.19 910.85 L365.41 910.8 L366.63 910.75 L367.84 910.64 L369.06 910.47 L370.28 910.26 L371.49 910.02 L372.71 909.77 L373.93 909.55 L375.14 909.34 L376.36 909.11 L377.58 908.88 L378.8 908.65 L380.01 908.43 L381.23 908.23 L382.45 908.06 L383.66 907.91 L384.88 907.78 L386.1 907.66 L387.31 907.55 L388.53 907.44 L389.75 907.34 L390.96 907.23 L392.18 907.12 L393.4 907 L394.61 906.88 L395.83 906.75 L397.05 906.63 L398.26 906.5 L399.48 906.37 L400.7 906.24 L401.91 906.11 L403.13 905.97 L404.35 905.83 L405.56 905.69 L406.78 905.55 L408 905.4 L409.22 905.25 L410.43 905.1 L411.65 904.95 L412.87 904.8 L414.08 904.65 L415.3 904.49 L416.52 904.34 L417.73 904.18 L418.95 904.02 L420.17 903.86 L421.38 903.69 L422.6 903.52 L423.82 903.34 L425.03 903.15 L426.25 902.96 L427.47 902.77 L428.68 902.57 L429.9 902.37 L431.12 902.15 L432.33 901.92 L433.55 901.68 L434.77 901.41 L435.98 901.11 L437.2 900.78 L438.42 900.45 L439.64 900.14 L440.85 899.85 L442.07 899.58 L443.29 899.33 L444.5 899.09 L445.72 898.85 L446.94 898.62 L448.15 898.39 L449.37 898.16 L450.59 897.92 L451.8 897.69 L453.02 897.45 L454.24 897.23 L455.45 897 L456.67 896.77 L457.89 896.54 L459.1 896.3 L460.32 896.06 L461.54 895.8 L462.75 895.54 L463.97 895.27 L465.19 894.99 L466.4 894.7 L467.62 894.42 L468.84 894.13 L470.06 893.85 L471.27 893.57 L472.49 893.29 L473.71 893.02 L474.92 892.74 L476.14 892.47 L477.36 892.19 L478.57 891.92 L479.79 891.64 L481.01 891.37 L482.22 891.09 L483.44 890.81 L484.66 890.53 L485.87 890.26 L487.09 889.98 L488.31 889.7 L489.52 889.42 L490.74 889.14 L491.96 888.86 L493.17 888.59 L494.39 888.31 L495.61 888.03 L496.82 887.75 L498.04 887.47 L499.26 887.2 L500.48 886.93 L501.69 886.66 L502.91 886.4 L504.13 886.14 L505.34 885.88 L506.56 885.62 L507.78 885.37 L508.99 885.12 L510.21 884.86 L511.43 884.62 L512.64 884.37 L513.86 884.12 L515.08 883.88 L516.29 883.63 L517.51 883.39 L518.73 883.15 L519.94 882.92 L521.16 882.69 L522.38 882.47 L523.59 882.25 L524.81 882.04 L526.03 881.83 L527.24 881.63 L528.46 881.43 L529.68 881.23 L530.9 881.04 L532.11 880.86 L533.33 880.68 L534.55 880.51 L535.76 880.34 L536.98 880.17 L538.2 880.01 L539.41 879.85 L540.63 879.7 L541.85 879.56 L543.06 879.42 L544.28 879.28 L545.5 879.15 L546.71 879.02 L547.93 878.9 L549.15 878.78 L550.36 878.67 L551.58 878.57 L552.8 878.47 L554.01 878.38 L555.23 878.29 L556.45 878.2 L557.66 878.12 L558.88 878.05 L560.1 877.98 L561.32 877.92 L562.53 877.87 L563.75 877.83 L564.97 877.79 L566.18 877.75 L567.4 877.71 L568.62 877.68 L569.83 877.66 L571.05 877.64 L572.27 877.63 L573.48 877.62 L574.7 877.63 L575.92 877.64 L577.13 877.65 L578.35 877.67 L579.57 877.7 L580.78 877.72 L582 877.75 L583.22 877.77 L584.43 877.81 L585.65 877.85 L586.87 877.9 L588.08 877.96 L589.3 878.02 L590.52 878.09 L591.74 878.16 L592.95 878.24 L594.17 878.33 L595.39 878.43 L596.6 878.55 L597.82 878.67 L599.04 878.79 L600.25 878.9 L601.47 879.01 L602.69 879.1 L603.9 879.2 L605.12 879.3 L606.34 879.39 L607.55 879.49 L608.77 879.59 L609.99 879.7 L611.2 879.82 L612.42 879.93 L613.64 880.06 L614.85 880.18 L616.07 880.31 L617.29 880.44 L618.5 880.58 L619.72 880.71 L620.94 880.86 L622.16 881.01 L623.37 881.17 L624.59 881.34 L625.81 881.52 L627.02 881.69 L628.24 881.87 L629.46 882.04 L630.67 882.21 L631.89 882.37 L633.11 882.52 L634.32 882.68 L635.54 882.83 L636.76 882.98 L637.97 883.14 L639.19 883.29 L640.41 883.44 L641.62 883.6 L642.84 883.76 L644.06 883.92 L645.27 884.09 L646.49 884.25 L647.71 884.41 L648.92 884.58 L650.14 884.74 L651.36 884.9 L652.58 885.07 L653.79 885.23 L655.01 885.39 L656.23 885.56 L657.44 885.72 L658.66 885.88 L659.88 886.04 L661.09 886.19 L662.31 886.34 L663.53 886.48 L664.74 886.62 L665.96 886.76 L667.18 886.89 L668.39 887.03 L669.61 887.16 L670.83 887.3 L672.04 887.43 L673.26 887.57 L674.48 887.71 L675.69 887.84 L676.91 887.98 L678.13 888.12 L679.34 888.25 L680.56 888.39 L681.78 888.53 L683 888.68 L684.21 888.82 L685.43 888.97 L686.65 889.12 L687.86 889.27 L689.08 889.42 L690.3 889.57 L691.51 889.72 L692.73 889.87 L693.95 890.02 L695.16 890.18 L696.38 890.34 L697.6 890.49 L698.81 890.65 L700.03 890.8 L701.25 890.94 L702.46 891.08 L703.68 891.21 L704.9 891.34 L706.11 891.47 L707.33 891.6 L708.55 891.72 L709.76 891.85 L710.98 891.96 L712.2 892.08 L713.42 892.19 L714.63 892.3" fill="none" stroke="#ff00ff" stroke-width="1.5" stroke-linecap="butt" stroke-linejoin="round" stroke-dasharray="1.5 3.3"/>
<path d="M167.07 910.9 L168.29 910.89 L169.51 910.88 L170.72 910.87 L171.94 910.85 L173.16 910.84 L174.37 910.82 L175.59 910.8 L176.81 910.78 L178.02 910.75 L179.24 910.73 L180.46 910.71 L181.67 910.68 L182.89 910.65 L184.11 910.62 L185.32 910.59 L186.54 910.56 L187.76 910.53 L188.97 910.5 L190.19 910.47 L191.41 910.44 L192.62 910.4 L193.84 910.37 L195.06 910.33 L196.28 910.28 L197.49 910.24 L198.71 910.19 L199.93 910.14 L201.14 910.08 L202.36 910.03 L203.58 909.97 L204.79 909.91 L206.01 909.86 L207.23 909.8 L208.44 909.73 L209.66 909.67 L210.88 909.61 L212.09 909.55 L213.31 909.48 L214.53 909.42 L215.74 909.36 L216.96 909.3 L218.18 909.23 L219.39 909.16 L220.61 909.1 L221.83 909.03 L223.04 908.96 L224.26 908.88 L225.48 908.81 L226.7 908.74 L227.91 908.66 L229.13 908.59 L230.35 908.51 L231.56 908.43 L232.78 908.36 L234 908.28 L235.21 908.2 L236.43 908.12 L237.65 908.05 L238.86 907.97 L240.08 907.9 L241.3 907.82 L242.51 907.75 L243.73 907.67 L244.95 907.6 L246.16 907.52 L247.38 907.45 L248.6 907.37 L249.81 907.3 L251.03 907.22 L252.25 907.15 L253.46 907.07 L254.68 906.99 L255.9 906.91 L257.12 906.83 L258.33 906.75 L259.55 906.66 L260.77 906.58 L261.98 906.49 L263.2 906.4 L264.42 906.3 L265.63 906.21 L266.85 906.11 L268.07 906.01 L269.28 905.91 L270.5 905.81 L271.72 905.71 L272.93 905.61 L274.15 905.51 L275.37 905.4 L276.58 905.3 L277.8 905.2 L279.02 905.09 L280.23 904.99 L281.45 904.89 L282.67 904.79 L283.88 904.68 L285.1 904.58 L286.32 904.47 L287.54 904.36 L288.75 904.26 L289.97 904.15 L291.19 904.04 L292.4 903.94 L293.62 903.83 L294.84 903.73 L296.05 903.62 L297.27 903.52 L298.49 903.42 L299.7 903.33 L300.92 903.23 L302.14 903.14 L303.35 903.05 L304.57 902.97 L305.79 902.88 L307 902.79 L308.22 902.71 L309.44 902.63 L310.65 902.55 L311.87 902.47 L313.09 902.39 L314.3 902.31 L315.52 902.23 L316.74 902.15 L317.96 902.07 L319.17 902 L320.39 901.92 L321.61 901.85 L322.82 901.78 L324.04 901.7 L325.26 901.63 L326.47 901.56 L327.69 901.5 L328.91 901.43 L330.12 901.36 L331.34 901.3 L332.56 901.23 L333.77 901.17 L334.99 901.1 L336.21 901.03 L337.42 900.96 L338.64 900.89 L339.86 900.82 L341.07 900.75 L342.29 900.68 L343.51 900.6 L344.72 900.53 L345.94 900.45 L347.16 900.36 L348.38 900.28 L349.59 900.2 L350.81 900.12 L352.03 900.03 L353.24 899.95 L354.46 899.86 L355.68 899.78 L356.89 899.7 L358.11 899.62 L359.33 899.54 L360.54 899.46 L361.76 899.38 L362.98 899.31 L364.19 899.24 L365.41 899.16 L366.63 899.09 L367.84 899.02 L369.06 898.95 L370.28 898.88 L371.49 898.81 L372.71 898.74 L373.93 898.67 L375.14 898.6 L376.36 898.54 L377.58 898.47 L378.8 898.4 L380.01 898.34 L381.23 898.27 L382.45 898.21 L383.66 898.15 L384.88 898.08 L386.1 898.02 L387.31 897.96 L388.53 897.89 L389.75 897.83 L390.96 897.77 L392.18 897.71 L393.4 897.65 L394.61 897.59 L395.83 897.53 L397.05 897.47 L398.26 897.41 L399.48 897.35 L400.7 897.3 L401.91 897.24 L403.13 897.19 L404.35 897.14 L405.56 897.08 L406.78 897.03 L408 896.97 L409.22 896.92 L410.43 896.87 L411.65 896.81 L412.87 896.76 L414.08 896.71 L415.3 896.66 L416.52 896.61 L417.73 896.57 L418.95 896.52 L420.17 896.48 L421.38 896.44 L422.6 896.4 L423.82 896.37 L425.03 896.33 L426.25 896.3 L427.47 896.26 L428.68 896.22 L429.9 896.19 L431.12 896.15 L432.33 896.12 L433.55 896.09 L434.77 896.06 L435.98 896.04 L437.2 896.02 L438.42 896.01 L439.64 896 L440.85 895.99 L442.07 895.99 L443.29 895.99 L444.5 895.99 L445.72 895.99 L446.94 895.99 L448.15 895.99 L449.37 895.99 L450.59 895.99 L451.8 895.99 L453.02 895.99 L454.24 896 L455.45 896.02 L456.67 896.05 L457.89 896.08 L459.1 896.12 L460.32 896.16 L461.54 896.2 L462.75 896.24 L463.97 896.28 L465.19 896.33 L466.4 896.38 L467.62 896.44 L468.84 896.5 L470.06 896.55 L471.27 896.61 L472.49 896.67 L473.71 896.73 L474.92 896.8 L476.14 896.86 L477.36 896.93 L478.57 897.01 L479.79 897.08 L481.01 897.16 L482.22 897.24 L483.44 897.32 L484.66 897.41 L485.87 897.5 L487.09 897.6 L488.31 897.7 L489.52 897.79 L490.74 897.89 L491.96 897.99 L493.17 898.09 L494.39 898.19 L495.61 898.29 L496.82 898.39 L498.04 898.49 L499.26 898.59 L500.48 898.69 L501.69 898.8 L502.91 898.9 L504.13 899 L505.34 899.1 L506.56 899.2 L507.78 899.31 L508.99 899.41 L510.21 899.51 L511.43 899.61 L512.64 899.71 L513.86 899.82 L515.08 899.91 L516.29 900.01 L517.51 900.11 L518.73 900.21 L519.94 900.32 L521.16 900.42 L522.38 900.52 L523.59 900.63 L524.81 900.73 L526.03 900.84 L527.24 900.95 L528.46 901.06 L529.68 901.17 L530.9 901.28 L532.11 901.39 L533.33 901.49 L534.55 901.6 L535.76 901.71 L536.98 901.82 L538.2 901.93 L539.41 902.03 L540.63 902.14 L541.85 902.25 L543.06 902.35 L544.28 902.46 L545.5 902.57 L546.71 902.67 L547.93 902.78 L549.15 902.88 L550.36 902.99 L551.58 903.09 L552.8 903.2 L554.01 903.3 L555.23 903.41 L556.45 903.51 L557.66 903.62 L558.88 903.72 L560.1 903.82 L561.32 903.92 L562.53 904.02 L563.75 904.11 L564.97 904.19 L566.18 904.28 L567.4 904.36 L568.62 904.44 L569.83 904.52 L571.05 904.6 L572.27 904.68 L573.48 904.76 L574.7 904.84 L575.92 904.92 L577.13 905 L578.35 905.08 L579.57 905.16 L580.78 905.24 L582 905.31 L583.22 905.39 L584.43 905.46 L585.65 905.53 L586.87 905.6 L588.08 905.66 L589.3 905.73 L590.52 905.8 L591.74 905.86 L592.95 905.93 L594.17 906 L595.39 906.07 L596.6 906.14 L597.82 906.21 L599.04 906.28 L600.25 906.34 L601.47 906.39 L602.69 906.44 L603.9 906.5 L605.12 906.55 L606.34 906.59 L607.55 906.64 L608.77 906.69 L609.99 906.73 L611.2 906.77 L612.42 906.82 L613.64 906.86 L614.85 906.89 L616.07 906.93 L617.29 906.96 L618.5 906.99 L619.72 907.02 L620.94 907.05 L622.16 907.07 L623.37 907.1 L624.59 907.12 L625.81 907.14 L627.02 907.16 L628.24 907.18 L629.46 907.2 L630.67 907.22 L631.89 907.23 L633.11 907.25 L634.32 907.27 L635.54 907.28 L636.76 907.3 L637.97 907.31 L639.19 907.33 L640.41 907.35 L641.62 907.36 L642.84 907.38 L644.06 907.39 L645.27 907.41 L646.49 907.42 L647.71 907.43 L648.92 907.45 L650.14 907.46 L651.36 907.47 L652.58 907.49 L653.79 907.5 L655.01 907.51 L656.23 907.53 L657.44 907.54 L658.66 907.55 L659.88 907.57 L661.09 907.58 L662.31 907.6 L663.53 907.61 L664.74 907.63 L665.96 907.64 L667.18 907.66 L668.39 907.68 L669.61 907.69 L670.83 907.71 L672.04 907.73 L673.26 907.74 L674.48 907.76 L675.69 907.78 L676.91 907.79 L678.13 907.81 L679.34 907.82 L680.56 907.84 L681.78 907.85 L683 907.87 L684.21 907.88 L685.43 907.9 L686.65 907.91 L687.86 907.93 L689.08 907.94 L690.3 907.95 L691.51 907.97 L692.73 907.98 L693.95 907.99 L695.16 908.01 L696.38 908.02 L697.6 908.03 L698.81 908.05 L700.03 908.06 L701.25 908.07 L702.46 908.09 L703.68 908.1 L704.9 908.11 L706.11 908.12 L707.33 908.13 L708.55 908.15 L709.76 908.16 L710.98 908.17 L712.2 908.18 L713.42 908.19 L714.63 908.2" fill="none" stroke="#0000ff" stroke-width="1.3" stroke-linecap="butt" stroke-linejoin="round" stroke-dasharray="6 3.7"/>
<path d="M167.19 866.22 L168.41 862.83 L169.63 859.59 L170.84 856.51 L172.06 853.61 L173.28 850.9 L174.49 848.23 L175.71 845.66 L176.93 843.29 L178.14 841.23 L179.36 839.58 L180.58 838.23 L181.8 837.07 L183.01 836.01 L184.23 834.99 L185.45 833.94 L186.66 832.97 L187.88 832.07 L189.1 831.13 L190.31 830.09 L191.53 828.85 L192.75 827.31 L193.96 825.54 L195.18 823.66 L196.4 821.61 L197.61 819.29 L198.83 816.91 L200.05 814.69 L201.26 812.84 L202.48 811.36 L203.7 809.99 L204.91 808.73 L206.13 807.58 L207.35 806.55 L208.56 805.63 L209.78 804.83 L211 804.1 L212.22 803.4 L213.43 802.75 L214.65 802.14 L215.87 801.6 L217.08 801.12 L218.3 800.72 L219.52 800.39 L220.73 800.12 L221.95 799.85 L223.17 799.6 L224.38 799.37 L225.6 799.17 L226.82 799.01 L228.03 798.89 L229.25 798.83 L230.47 798.83 L231.68 798.84 L232.9 798.86 L234.12 798.9 L235.33 798.94 L236.55 799 L237.77 799.06 L238.98 799.14 L240.2 799.22 L241.42 799.37 L242.64 799.63 L243.85 799.98 L245.07 800.4 L246.29 800.88 L247.5 801.39 L248.72 801.93 L249.94 802.46 L251.15 803 L252.37 803.59 L253.59 804.24 L254.8 804.94 L256.02 805.68 L257.24 806.46 L258.45 807.29 L259.67 808.14 L260.89 809.02 L262.1 809.95 L263.32 810.95 L264.54 812.01 L265.75 813.12 L266.97 814.28 L268.19 815.47 L269.4 816.7 L270.62 817.95 L271.84 819.25 L273.06 820.62 L274.27 822.06 L275.49 823.53 L276.71 825.05 L277.92 826.58 L279.14 828.12 L280.36 829.65 L281.57 831.17 L282.79 832.71 L284.01 834.27 L285.22 835.85 L286.44 837.43 L287.66 839.01 L288.87 840.58 L290.09 842.13 L291.31 843.65 L292.52 845.16 L293.74 846.67 L294.96 848.17 L296.17 849.65 L297.39 851.13 L298.61 852.58 L299.82 854.01 L301.04 855.41 L302.26 856.78 L303.48 858.13 L304.69 859.46 L305.91 860.77 L307.13 862.06 L308.34 863.33 L309.56 864.6 L310.78 865.86 L311.99 867.11 L313.21 868.36 L314.43 869.61 L315.64 870.85 L316.86 872.08 L318.08 873.28 L319.29 874.47 L320.51 875.62 L321.73 876.73 L322.94 877.82 L324.16 878.9 L325.38 879.95 L326.59 880.99 L327.81 882 L329.03 882.97 L330.24 883.92 L331.46 884.83 L332.68 885.71 L333.9 886.56 L335.11 887.4 L336.33 888.21 L337.55 889 L338.76 889.76 L339.98 890.49 L341.2 891.18 L342.41 891.84 L343.63 892.47 L344.85 893.07 L346.06 893.66 L347.28 894.22 L348.5 894.76 L349.71 895.28 L350.93 895.78 L352.15 896.26 L353.36 896.73 L354.58 897.18 L355.8 897.61 L357.01 898.03 L358.23 898.44 L359.45 898.83 L360.66 899.22 L361.88 899.59 L363.1 899.95 L364.32 900.3 L365.53 900.64 L366.75 900.98 L367.97 901.31 L369.18 901.62 L370.4 901.92 L371.62 902.21 L372.83 902.48 L374.05 902.74 L375.27 903 L376.48 903.25 L377.7 903.49 L378.92 903.72 L380.13 903.93 L381.35 904.13 L382.57 904.32 L383.78 904.49 L385 904.64 L386.22 904.79 L387.43 904.93 L388.65 905.07 L389.87 905.19 L391.08 905.32 L392.3 905.45 L393.52 905.57 L394.74 905.7 L395.95 905.82 L397.17 905.94 L398.39 906.06 L399.6 906.17 L400.82 906.28 L402.04 906.38 L403.25 906.48 L404.47 906.57 L405.69 906.66 L406.9 906.75 L408.12 906.83 L409.34 906.91 L410.55 906.99 L411.77 907.07 L412.99 907.15 L414.2 907.22 L415.42 907.29 L416.64 907.36 L417.85 907.43 L419.07 907.5 L420.29 907.57 L421.5 907.64 L422.72 907.7 L423.94 907.77 L425.16 907.83 L426.37 907.9 L427.59 907.96 L428.81 908.03 L430.02 908.09 L431.24 908.15 L432.46 908.21 L433.67 908.27 L434.89 908.32 L436.11 908.37 L437.32 908.42 L438.54 908.47 L439.76 908.52 L440.97 908.56 L442.19 908.6 L443.41 908.64 L444.62 908.68 L445.84 908.72 L447.06 908.76 L448.27 908.8 L449.49 908.84 L450.71 908.87 L451.92 908.91 L453.14 908.94 L454.36 908.98 L455.58 909.01 L456.79 909.04 L458.01 909.07 L459.23 909.1 L460.44 909.13 L461.66 909.16 L462.88 909.19 L464.09 909.22 L465.31 909.24 L466.53 909.27 L467.74 909.29 L468.96 909.32 L470.18 909.34 L471.39 909.36 L472.61 909.38 L473.83 909.4 L475.04 909.42 L476.26 909.44 L477.48 909.46 L478.69 909.48 L479.91 909.5 L481.13 909.51 L482.34 909.53 L483.56 909.55 L484.78 909.56 L486 909.58 L487.21 909.59 L488.43 909.61 L489.65 909.62 L490.86 909.64 L492.08 909.65 L493.3 909.67 L494.51 909.68 L495.73 909.7 L496.95 909.71 L498.16 909.72 L499.38 909.73 L500.6 909.75 L501.81 909.76 L503.03 909.77 L504.25 909.79 L505.46 909.8 L506.68 909.81 L507.9 909.82 L509.11 909.84 L510.33 909.85 L511.55 909.86 L512.76 909.87 L513.98 909.88 L515.2 909.9 L516.42 909.91 L517.63 909.92 L518.85 909.93 L520.07 909.94 L521.28 909.95 L522.5 909.96 L523.72 909.97 L524.93 909.99 L526.15 910 L527.37 910.01 L528.58 910.02 L529.8 910.03 L531.02 910.04 L532.23 910.05 L533.45 910.06 L534.67 910.06 L535.88 910.07 L537.1 910.08 L538.32 910.09 L539.53 910.1 L540.75 910.11 L541.97 910.12 L543.18 910.12 L544.4 910.13 L545.62 910.14 L546.84 910.14 L548.05 910.15 L549.27 910.16 L550.49 910.17 L551.7 910.17 L552.92 910.18 L554.14 910.19 L555.35 910.19 L556.57 910.2 L557.79 910.21 L559 910.21 L560.22 910.22 L561.44 910.22 L562.65 910.23 L563.87 910.24 L565.09 910.24 L566.3 910.25 L567.52 910.25 L568.74 910.26 L569.95 910.26 L571.17 910.27 L572.39 910.27 L573.6 910.28 L574.82 910.28 L576.04 910.29 L577.26 910.29 L578.47 910.3 L579.69 910.3 L580.91 910.31 L582.12 910.31 L583.34 910.31 L584.56 910.32 L585.77 910.32 L586.87 910.32" fill="none" stroke="#111111" stroke-width="1.3" stroke-linecap="butt" stroke-linejoin="round" stroke-dasharray="6 4.6 1.6 7.2"/>
<path d="M167.19 866.22 L168.41 862.78 L169.63 859.53 L170.84 856.5 L172.06 853.64 L173.28 850.88 L174.49 848.2 L175.71 845.67 L176.93 843.25 L178.14 840.99 L179.36 839.15 L180.58 837.66 L181.8 836.41 L183.01 835.37 L184.23 834.49 L185.45 833.6 L186.66 832.71 L187.88 831.77 L189.1 830.67 L190.31 829.43 L191.53 828.05 L192.75 826.48 L193.96 824.64 L195.18 822.53 L196.4 820.28 L197.61 817.92 L198.83 815.63 L200.05 813.35 L201.26 811.32 L202.48 809.7 L203.7 808.28 L204.91 807.01 L206.13 805.83 L207.35 804.74 L208.56 803.75 L209.78 802.9 L211 802.15 L212.22 801.48 L213.43 800.87 L214.65 800.31 L215.87 799.79 L217.08 799.3 L218.3 798.86 L219.52 798.47 L220.73 798.14 L221.95 797.83 L223.17 797.56 L224.38 797.34 L225.6 797.16 L226.82 796.99 L228.03 796.85 L229.25 796.74 L230.47 796.67 L231.68 796.61 L232.9 796.55 L234.12 796.52 L235.33 796.52 L236.55 796.57 L237.77 796.67 L238.98 796.79 L240.2 796.91 L241.42 797.02 L242.64 797.14 L243.85 797.29 L245.07 797.46 L246.29 797.68 L247.5 797.97 L248.72 798.31 L249.94 798.67 L251.15 799.06 L252.37 799.48 L253.59 799.94 L254.8 800.43 L256.02 800.97 L257.24 801.55 L258.45 802.19 L259.67 802.87 L260.89 803.59 L262.1 804.37 L263.32 805.21 L264.54 806.09 L265.75 807 L266.97 807.94 L268.19 808.92 L269.4 809.95 L270.62 811.04 L271.84 812.21 L273.06 813.48 L274.27 814.8 L275.49 816.14 L276.71 817.48 L277.92 818.83 L279.14 820.21 L280.36 821.61 L281.57 823.03 L282.79 824.49 L284.01 825.97 L285.22 827.45 L286.44 828.92 L287.66 830.39 L288.87 831.85 L290.09 833.32 L291.31 834.79 L292.52 836.26 L293.74 837.72 L294.96 839.19 L296.17 840.66 L297.39 842.13 L298.61 843.61 L299.82 845.08 L301.04 846.53 L302.26 847.97 L303.48 849.41 L304.69 850.82 L305.91 852.2 L307.13 853.54 L308.34 854.85 L309.56 856.13 L310.78 857.39 L311.99 858.63 L313.21 859.84 L314.43 861.04 L315.64 862.21 L316.86 863.37 L318.08 864.54 L319.29 865.69 L320.51 866.8 L321.73 867.87 L322.94 868.88 L324.16 869.85 L325.38 870.79 L326.59 871.72 L327.81 872.62 L329.03 873.51 L330.24 874.38 L331.46 875.22 L332.68 876.04 L333.9 876.84 L335.11 877.62 L336.33 878.37 L337.55 879.1 L338.76 879.82 L339.98 880.51 L341.2 881.18 L342.41 881.82 L343.63 882.44 L344.85 883.04 L346.06 883.63 L347.28 884.19 L348.5 884.75 L349.71 885.3 L350.93 885.81 L352.15 886.25 L353.36 886.63 L354.58 886.96 L355.8 887.26 L357.01 887.55 L358.23 887.81 L359.45 888.06 L360.66 888.29 L361.88 888.49 L363.1 888.67 L364.32 888.84 L365.53 889.01 L366.75 889.16 L367.97 889.31 L369.18 889.44 L370.4 889.56 L371.62 889.65 L372.83 889.73 L374.05 889.8 L375.27 889.86 L376.48 889.93 L377.7 889.98 L378.92 890.03 L380.13 890.07 L381.35 890.09 L382.57 890.1 L383.78 890.1 L385 890.1 L386.22 890.1 L387.43 890.1 L388.65 890.1 L389.87 890.1 L391.08 890.1 L392.3 890.1 L393.52 890.1 L394.74 890.07 L395.95 890.03 L397.17 889.96 L398.39 889.89 L399.6 889.8 L400.82 889.7 L402.04 889.61 L403.25 889.52 L404.47 889.41 L405.69 889.3 L406.9 889.17 L408.12 889.03 L409.34 888.88 L410.55 888.73 L411.77 888.57 L412.99 888.42 L414.2 888.26 L415.42 888.09 L416.64 887.92 L417.85 887.74 L419.07 887.55 L420.29 887.36 L421.5 887.16 L422.72 886.96 L423.94 886.74 L425.16 886.52 L426.37 886.29 L427.59 886.05 L428.81 885.8 L430.02 885.54 L431.24 885.27 L432.46 884.99 L433.67 884.71 L434.89 884.41 L436.11 884.08 L437.32 883.75 L438.54 883.4 L439.76 883.07 L440.97 882.75 L442.19 882.45 L443.41 882.15 L444.62 881.86 L445.84 881.57 L447.06 881.28 L448.27 881 L449.49 880.72 L450.71 880.45 L451.92 880.17 L453.14 879.9 L454.36 879.62 L455.58 879.35 L456.79 879.09 L458.01 878.82 L459.23 878.57 L460.44 878.31 L461.66 878.06 L462.88 877.82 L464.09 877.59 L465.31 877.35 L466.53 877.13 L467.74 876.9 L468.96 876.67 L470.18 876.44 L471.39 876.21 L472.61 875.98 L473.83 875.74 L475.04 875.51 L476.26 875.27 L477.48 875.04 L478.69 874.81 L479.91 874.59 L481.13 874.37 L482.34 874.17 L483.56 873.97 L484.78 873.77 L486 873.58 L487.21 873.39 L488.43 873.21 L489.65 873.03 L490.86 872.87 L492.08 872.71 L493.3 872.55 L494.51 872.4 L495.73 872.26 L496.95 872.12 L498.16 871.98 L499.38 871.85 L500.6 871.73 L501.81 871.62 L503.03 871.51 L504.25 871.4 L505.46 871.31 L506.68 871.21 L507.9 871.12 L509.11 871.03 L510.33 870.95 L511.55 870.87 L512.76 870.79 L513.98 870.71 L515.2 870.64 L516.42 870.57 L517.63 870.5 L518.85 870.43 L520.07 870.37 L521.28 870.31 L522.5 870.25 L523.72 870.2 L524.93 870.14 L526.15 870.09 L527.37 870.04 L528.58 869.99 L529.8 869.95 L531.02 869.91 L532.23 869.88 L533.45 869.85 L534.67 869.82 L535.88 869.79 L537.1 869.76 L538.32 869.73 L539.53 869.71 L540.75 869.7 L541.97 869.69 L543.18 869.69 L544.4 869.7 L545.62 869.71 L546.84 869.74 L548.05 869.76 L549.27 869.79 L550.49 869.82 L551.7 869.85 L552.92 869.89 L554.14 869.92 L555.35 869.96 L556.57 870 L557.79 870.05 L559 870.1 L560.22 870.15 L561.44 870.2 L562.65 870.26 L563.87 870.31 L565.09 870.37 L566.3 870.44 L567.52 870.5 L568.74 870.57 L569.95 870.65 L571.17 870.72 L572.39 870.8 L573.6 870.88 L574.82 870.96 L576.04 871.05 L577.26 871.14 L578.47 871.23 L579.69 871.33 L580.91 871.42 L582.12 871.52 L583.34 871.62 L584.56 871.71 L585.77 871.8 L586.99 871.89 L588.21 871.98 L589.42 872.07 L590.64 872.17 L591.86 872.28 L593.07 872.4 L594.29 872.52 L595.51 872.66 L596.72 872.81 L597.94 872.97 L599.16 873.14 L600.37 873.31 L601.59 873.5 L602.81 873.7 L604.02 873.92 L605.24 874.15 L606.46 874.38 L607.68 874.62 L608.89 874.86 L610.11 875.11 L611.33 875.35 L612.54 875.61 L613.76 875.87 L614.98 876.14 L616.19 876.4 L617.41 876.67 L618.63 876.93 L619.84 877.18 L621.06 877.42 L622.28 877.65 L623.49 877.87 L624.71 878.09 L625.93 878.31 L627.14 878.52 L628.36 878.73 L629.58 878.94 L630.79 879.15 L632.01 879.35 L633.23 879.56 L634.44 879.76 L635.66 879.96 L636.88 880.16 L638.1 880.35 L639.31 880.55 L640.53 880.74 L641.75 880.94 L642.96 881.13 L644.18 881.31 L645.4 881.5 L646.61 881.68 L647.83 881.87 L649.05 882.05 L650.26 882.23 L651.48 882.42 L652.7 882.6 L653.91 882.79 L655.13 882.98 L656.35 883.17 L657.56 883.35 L658.78 883.53 L660 883.71 L661.21 883.89 L662.43 884.06 L663.65 884.22 L664.86 884.39 L666.08 884.55 L667.3 884.7 L668.52 884.86 L669.73 885.02 L670.95 885.18 L672.17 885.34 L673.38 885.5 L674.6 885.66 L675.82 885.83 L677.03 885.99 L678.25 886.15 L679.47 886.31 L680.68 886.47 L681.9 886.62 L683.12 886.77 L684.33 886.91 L685.55 887.05 L686.77 887.19 L687.98 887.33 L689.2 887.46 L690.42 887.6 L691.63 887.74 L692.85 887.87 L694.07 888.01 L695.28 888.15 L696.5 888.29 L697.72 888.43 L698.94 888.56 L700.15 888.7 L701.37 888.84 L702.59 888.97 L703.8 889.11 L705.02 889.25 L706.24 889.38 L707.45 889.52 L708.67 889.65 L709.89 889.79 L711.1 889.92 L712.32 890.05 L713.54 890.19 L714.51 890.29" fill="none" stroke="#ff0000" stroke-width="1.35" stroke-linecap="butt" stroke-linejoin="round"/>
<path d="M162.69 846.97V854.67M192.62 804.6V816.93M223.77 794.59V807.68M254.07 801.9V812.69M284.01 831.56V843.11M314.91 848.51V858.52M345.58 868.15V876.62M376.24 873.73V882.21M407.27 872V878.93M437.44 873.35V882.21M468.6 867.57V876.43M499.87 858.91V867.38M530.41 850.63V861.02M560.95 864.68V872.39M590.4 866.61V875.08M621.55 847.35V857.37M651.97 866.42V876.81M682.02 862.37V873.16M711.96 861.99V875.85" stroke="#0000ff" stroke-width="1.35" fill="none"/>
<path d="M159.69 848.12h6v5.4h-6ZM189.62 808.06h6v5.4h-6ZM220.77 798.43h6v5.4h-6ZM251.07 804.6h6v5.4h-6ZM281.01 834.64h6v5.4h-6ZM311.91 850.81h6v5.4h-6ZM342.58 869.69h6v5.4h-6ZM373.24 875.27h6v5.4h-6ZM404.27 872.77h6v5.4h-6ZM434.44 875.08h6v5.4h-6ZM465.6 869.3h6v5.4h-6ZM496.87 860.44h6v5.4h-6ZM527.41 853.12h6v5.4h-6ZM557.95 865.83h6v5.4h-6ZM587.4 868.15h6v5.4h-6ZM618.55 849.66h6v5.4h-6ZM648.97 868.92h6v5.4h-6ZM679.02 865.06h6v5.4h-6ZM708.96 866.22h6v5.4h-6Z" fill="#0000ff"/>
</g>
<text transform="translate(391.84 537.1) scale(1.3641 1.0000)" font-family="Liberation Sans, sans-serif" font-size="11.2" fill="#0a0a0a" font-style="italic" stroke="#fff" stroke-width="0.15">ω</text>
<text transform="translate(408.99 537.1) scale(1.5716 1.0000)" font-family="Liberation Sans, sans-serif" font-size="11.0" fill="#0a0a0a" stroke="#fff" stroke-width="0.15">[MeV]</text>
<text transform="translate(391.84 741.7) scale(1.3641 1.0000)" font-family="Liberation Sans, sans-serif" font-size="11.2" fill="#0a0a0a" font-style="italic" stroke="#fff" stroke-width="0.15">ω</text>
<text transform="translate(408.99 741.7) scale(1.5716 1.0000)" font-family="Liberation Sans, sans-serif" font-size="11.0" fill="#0a0a0a" stroke="#fff" stroke-width="0.15">[MeV]</text>
<text transform="translate(391.84 946.6) scale(1.3641 1.0000)" font-family="Liberation Sans, sans-serif" font-size="11.2" fill="#0a0a0a" font-style="italic" stroke="#fff" stroke-width="0.15">ω</text>
<text transform="translate(408.99 946.6) scale(1.5716 1.0000)" font-family="Liberation Sans, sans-serif" font-size="11.0" fill="#0a0a0a" stroke="#fff" stroke-width="0.15">[MeV]</text>
<g transform="translate(64.3 513.9) rotate(-90)">
<text transform="translate(-0.6 0) scale(0.9444 1.0000)" font-family="Liberation Sans, sans-serif" font-size="16.0" fill="#0a0a0a" stroke="#fff" stroke-width="0.15">d</text>
<text transform="translate(7.1 -9.6) scale(0.8813 1.0000)" font-family="Liberation Sans, sans-serif" font-size="8.6" fill="#0a0a0a">3</text>
<text transform="translate(10.81 0) scale(0.9181 1.0000)" font-family="Liberation Sans, sans-serif" font-size="16.0" fill="#0a0a0a" stroke="#fff" stroke-width="0.15">σ</text>
<text transform="translate(29.3 0) scale(0.7837 1.0000)" font-family="Liberation Sans, sans-serif" font-size="16.0" fill="#0a0a0a" stroke="#fff" stroke-width="0.15">dωdΩ</text>
<text transform="translate(70.99 0) scale(0.9033 1.0000)" font-family="Liberation Sans, sans-serif" font-size="16.0" fill="#0a0a0a" stroke="#fff" stroke-width="0.15">[nb</text>
<text transform="translate(96.03 0) scale(0.9873 1.0000)" font-family="Liberation Sans, sans-serif" font-size="16.0" fill="#0a0a0a" stroke="#fff" stroke-width="0.15">sr</text>
<text transform="translate(109.28 -9.6) scale(0.7344 1.0000)" font-family="Liberation Sans, sans-serif" font-size="8.6" fill="#0a0a0a">−1</text>
<text transform="translate(122.08 0) scale(0.7995 1.0000)" font-family="Liberation Sans, sans-serif" font-size="16.0" fill="#0a0a0a" stroke="#fff" stroke-width="0.15">MeV</text>
<text transform="translate(148.88 -9.6) scale(0.7344 1.0000)" font-family="Liberation Sans, sans-serif" font-size="8.6" fill="#0a0a0a">−1</text>
<text transform="translate(156.52 0) scale(1.0000 1.0000)" font-family="Liberation Sans, sans-serif" font-size="16.0" fill="#0a0a0a" stroke="#fff" stroke-width="0.15">]</text>
<path d="M20.4 2.9L29.1 -14.6" stroke="#0a0a0a" stroke-width="1.15" fill="none"/>
</g>
<g transform="translate(64.3 718.6) rotate(-90)">
<text transform="translate(-0.6 0) scale(0.9444 1.0000)" font-family="Liberation Sans, sans-serif" font-size="16.0" fill="#0a0a0a" stroke="#fff" stroke-width="0.15">d</text>
<text transform="translate(7.1 -9.6) scale(0.8813 1.0000)" font-family="Liberation Sans, sans-serif" font-size="8.6" fill="#0a0a0a">3</text>
<text transform="translate(10.81 0) scale(0.9181 1.0000)" font-family="Liberation Sans, sans-serif" font-size="16.0" fill="#0a0a0a" stroke="#fff" stroke-width="0.15">σ</text>
<text transform="translate(29.3 0) scale(0.7837 1.0000)" font-family="Liberation Sans, sans-serif" font-size="16.0" fill="#0a0a0a" stroke="#fff" stroke-width="0.15">dωdΩ</text>
<text transform="translate(70.99 0) scale(0.9033 1.0000)" font-family="Liberation Sans, sans-serif" font-size="16.0" fill="#0a0a0a" stroke="#fff" stroke-width="0.15">[nb</text>
<text transform="translate(96.03 0) scale(0.9873 1.0000)" font-family="Liberation Sans, sans-serif" font-size="16.0" fill="#0a0a0a" stroke="#fff" stroke-width="0.15">sr</text>
<text transform="translate(109.28 -9.6) scale(0.7344 1.0000)" font-family="Liberation Sans, sans-serif" font-size="8.6" fill="#0a0a0a">−1</text>
<text transform="translate(122.08 0) scale(0.7995 1.0000)" font-family="Liberation Sans, sans-serif" font-size="16.0" fill="#0a0a0a" stroke="#fff" stroke-width="0.15">MeV</text>
<text transform="translate(148.88 -9.6) scale(0.7344 1.0000)" font-family="Liberation Sans, sans-serif" font-size="8.6" fill="#0a0a0a">−1</text>
<text transform="translate(156.52 0) scale(1.0000 1.0000)" font-family="Liberation Sans, sans-serif" font-size="16.0" fill="#0a0a0a" stroke="#fff" stroke-width="0.15">]</text>
<path d="M20.4 2.9L29.1 -14.6" stroke="#0a0a0a" stroke-width="1.15" fill="none"/>
</g>
<g transform="translate(64.3 942.3) rotate(-90)">
<text transform="translate(-0.6 0) scale(0.9444 1.0000)" font-family="Liberation Sans, sans-serif" font-size="16.0" fill="#0a0a0a" stroke="#fff" stroke-width="0.15">d</text>
<text transform="translate(7.1 -9.6) scale(0.8813 1.0000)" font-family="Liberation Sans, sans-serif" font-size="8.6" fill="#0a0a0a">3</text>
<text transform="translate(10.81 0) scale(0.9181 1.0000)" font-family="Liberation Sans, sans-serif" font-size="16.0" fill="#0a0a0a" stroke="#fff" stroke-width="0.15">σ</text>
<text transform="translate(29.3 0) scale(0.7837 1.0000)" font-family="Liberation Sans, sans-serif" font-size="16.0" fill="#0a0a0a" stroke="#fff" stroke-width="0.15">dωdΩ</text>
<text transform="translate(70.99 0) scale(0.9033 1.0000)" font-family="Liberation Sans, sans-serif" font-size="16.0" fill="#0a0a0a" stroke="#fff" stroke-width="0.15">[nb</text>
<text transform="translate(96.03 0) scale(0.9873 1.0000)" font-family="Liberation Sans, sans-serif" font-size="16.0" fill="#0a0a0a" stroke="#fff" stroke-width="0.15">sr</text>
<text transform="translate(109.28 -9.6) scale(0.7344 1.0000)" font-family="Liberation Sans, sans-serif" font-size="8.6" fill="#0a0a0a">−1</text>
<text transform="translate(122.08 0) scale(0.7995 1.0000)" font-family="Liberation Sans, sans-serif" font-size="16.0" fill="#0a0a0a" stroke="#fff" stroke-width="0.15">MeV</text>
<text transform="translate(148.88 -9.6) scale(0.7344 1.0000)" font-family="Liberation Sans, sans-serif" font-size="8.6" fill="#0a0a0a">−1</text>
<text transform="translate(160.95 0) scale(0.9087 1.0000)" font-family="Liberation Sans, sans-serif" font-size="16.0" fill="#0a0a0a" stroke="#fff" stroke-width="0.15">nuc</text>
<text transform="translate(185.65 -9.6) scale(0.8234 1.0000)" font-family="Liberation Sans, sans-serif" font-size="8.6" fill="#0a0a0a">−1</text>
<text transform="translate(194.42 0) scale(1.0000 1.0000)" font-family="Liberation Sans, sans-serif" font-size="16.0" fill="#0a0a0a" stroke="#fff" stroke-width="0.15">]</text>
<path d="M20.4 2.9L29.1 -14.6" stroke="#0a0a0a" stroke-width="1.15" fill="none"/>
</g>
<text transform="translate(150.02 393.9) scale(1.4981 1.0000)" font-family="Liberation Sans, sans-serif" font-size="14.2" fill="#0a0a0a" stroke="#fff" stroke-width="0.15">(a)</text>
<text transform="translate(309.97 388.9) scale(1.3191 1.0000)" font-family="Liberation Sans, sans-serif" font-size="12.6" fill="#0000ff" stroke="#fff" stroke-width="0.15">E=2222MeV</text>
<text transform="translate(310.1 407.7) scale(1.4135 1.0000)" font-family="Liberation Sans, sans-serif" font-size="12.6" fill="#0000ff" stroke="#fff" stroke-width="0.15">Θ=15.54</text>
<text transform="translate(379.01 401.6) scale(1.0760 1.0000)" font-family="Liberation Sans, sans-serif" font-size="9.0" fill="#0000ff">o</text>
<text transform="translate(310.2 426.1) scale(1.3933 1.0000)" font-family="Liberation Sans, sans-serif" font-size="12.6" fill="#0000ff" stroke="#fff" stroke-width="0.15">q</text>
<text transform="translate(319.52 428.8) scale(1.1800 1.0000)" font-family="Liberation Sans, sans-serif" font-size="6.0" fill="#0000ff" font-weight="bold">QE</text>
<text transform="translate(330.88 426.1) scale(1.3091 1.0000)" font-family="Liberation Sans, sans-serif" font-size="12.6" fill="#0000ff" stroke="#fff" stroke-width="0.15">=604MeV</text>
<text transform="translate(438.96 386.8) scale(1.3677 1.0000)" font-family="Liberation Sans, sans-serif" font-size="7.2" fill="#ff0000">12</text>
<text transform="translate(449.89 394) scale(1.3879 1.0000)" font-family="Liberation Sans, sans-serif" font-size="14.6" fill="#ff0000" stroke="#fff" stroke-width="0.15">C(e,e)</text>
<path d="M534.2 394H572.9" stroke="#ff0000" stroke-width="1.35"/>
<path d="M534.2 409.8H572.9" stroke="#0000ff" stroke-width="1.35" stroke-dasharray="6 3.7"/>
<path d="M534.2 425.9H573.5" stroke="#0000ff" stroke-width="1.35" stroke-dasharray="6 4.6 1.6 6.9"/>
<path d="M534.5 441.9H572.9" stroke="#ff00ff" stroke-width="1.5" stroke-dasharray="1.5 3.3"/>
<text transform="translate(576.36 394.3) scale(1.3021 1.0000)" font-family="Liberation Sans, sans-serif" font-size="11.0" fill="#ff0000" stroke="#fff" stroke-width="0.15">QE+MEC+RES</text>
<text transform="translate(575.94 410) scale(1.2006 1.0000)" font-family="Liberation Sans, sans-serif" font-size="11.0" fill="#0000ff" stroke="#fff" stroke-width="0.15">MEC</text>
<text transform="translate(576.42 426.6) scale(1.1765 1.0000)" font-family="Liberation Sans, sans-serif" font-size="11.0" fill="#0a0a0a" stroke="#fff" stroke-width="0.15">QE</text>
<text transform="translate(575.92 442.6) scale(1.2247 1.0000)" font-family="Liberation Sans, sans-serif" font-size="11.0" fill="#ff00ff" stroke="#fff" stroke-width="0.15">RES</text>
<text transform="translate(150.02 592.5) scale(1.4981 1.0000)" font-family="Liberation Sans, sans-serif" font-size="14.2" fill="#0a0a0a" stroke="#fff" stroke-width="0.15">(b)</text>
<text transform="translate(438.5 596) scale(1.4086 1.0000)" font-family="Liberation Sans, sans-serif" font-size="7.2" fill="#ff0000">40</text>
<text transform="translate(450.4 602.5) scale(1.3744 1.0000)" font-family="Liberation Sans, sans-serif" font-size="14.6" fill="#ff0000" stroke="#fff" stroke-width="0.15">Ar(e,e)</text>
<text transform="translate(527.76 592.8) scale(1.3293 1.0000)" font-family="Liberation Sans, sans-serif" font-size="12.6" fill="#0000ff" stroke="#fff" stroke-width="0.15">E=2222MeV</text>
<text transform="translate(534.4 610.2) scale(1.4093 1.0000)" font-family="Liberation Sans, sans-serif" font-size="12.6" fill="#0000ff" stroke="#fff" stroke-width="0.15">Θ=15.54</text>
<text transform="translate(603.63 604.5) scale(1.0292 1.0000)" font-family="Liberation Sans, sans-serif" font-size="9.0" fill="#0000ff">o</text>
<text transform="translate(528.42 627.3) scale(1.3404 1.0000)" font-family="Liberation Sans, sans-serif" font-size="12.6" fill="#0000ff" stroke="#fff" stroke-width="0.15">q</text>
<text transform="translate(537.21 630) scale(1.2287 1.0000)" font-family="Liberation Sans, sans-serif" font-size="6.0" fill="#0000ff" font-weight="bold">QE</text>
<text transform="translate(548.67 627.3) scale(1.3221 1.0000)" font-family="Liberation Sans, sans-serif" font-size="12.6" fill="#0000ff" stroke="#fff" stroke-width="0.15">=532MeV</text>
<text transform="translate(154.4 795.7) scale(1.5230 1.0000)" font-family="Liberation Sans, sans-serif" font-size="14.2" fill="#0a0a0a" stroke="#fff" stroke-width="0.15">(c)</text>
<text transform="translate(422.39 796.5) scale(1.4876 1.0000)" font-family="Liberation Sans, sans-serif" font-size="7.2" fill="#ff0000">40</text>
<text transform="translate(434.4 803.3) scale(1.3744 1.0000)" font-family="Liberation Sans, sans-serif" font-size="14.6" fill="#ff0000" stroke="#fff" stroke-width="0.15">Ar(e,e)</text>
<text transform="translate(543.57 795.9) scale(1.3179 1.0000)" font-family="Liberation Sans, sans-serif" font-size="12.6" fill="#0000ff" stroke="#fff" stroke-width="0.15">E=700MeV</text>
<text transform="translate(544.1 813.5) scale(1.4072 1.0000)" font-family="Liberation Sans, sans-serif" font-size="12.6" fill="#0000ff" stroke="#fff" stroke-width="0.15">Θ=32</text>
<text transform="translate(588.34 806.8) scale(1.0058 1.0000)" font-family="Liberation Sans, sans-serif" font-size="9.0" fill="#0000ff">o</text>
<text transform="translate(544.21 829.9) scale(1.3757 1.0000)" font-family="Liberation Sans, sans-serif" font-size="12.6" fill="#0000ff" stroke="#fff" stroke-width="0.15">q</text>
<text transform="translate(553.51 832.6) scale(1.1922 1.0000)" font-family="Liberation Sans, sans-serif" font-size="6.0" fill="#0000ff" font-weight="bold">QE</text>
<text transform="translate(564.67 829.9) scale(1.3221 1.0000)" font-family="Liberation Sans, sans-serif" font-size="12.6" fill="#0000ff" stroke="#fff" stroke-width="0.15">=371MeV</text>
</svg>
</body></html>
